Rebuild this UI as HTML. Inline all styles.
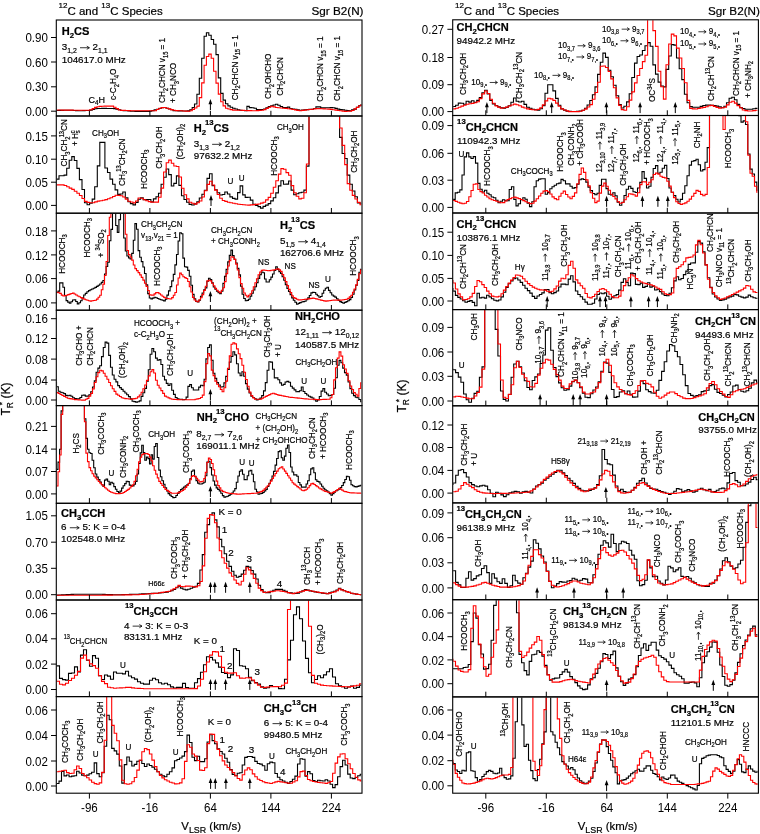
<!DOCTYPE html><html><head><meta charset="utf-8"><style>html,body{margin:0;padding:0;background:#fff;}svg{display:block;will-change:transform;}text{font-family:"Liberation Sans", sans-serif;stroke:#000;stroke-width:0.2px;}text.ns,g.nsg text{stroke:none;}</style></head><body>
<svg width="760" height="834" viewBox="0 0 760 834">
<rect width="760" height="834" fill="#fff"/>
<defs>
<clipPath id="c00"><rect x="56.8" y="20.5" width="304.7" height="95.0"/></clipPath>
<clipPath id="c01"><rect x="56.8" y="116.5" width="304.7" height="96.2"/></clipPath>
<clipPath id="c02"><rect x="56.8" y="213.7" width="304.7" height="96.0"/></clipPath>
<clipPath id="c03"><rect x="56.8" y="310.7" width="304.7" height="94.4"/></clipPath>
<clipPath id="c04"><rect x="56.8" y="406.1" width="304.7" height="96.7"/></clipPath>
<clipPath id="c05"><rect x="56.8" y="503.8" width="304.7" height="95.7"/></clipPath>
<clipPath id="c06"><rect x="56.8" y="600.5" width="304.7" height="95.6"/></clipPath>
<clipPath id="c07"><rect x="56.8" y="697.1" width="304.7" height="95.6"/></clipPath>
<clipPath id="c10"><rect x="453.2" y="20.3" width="304.7" height="94.7"/></clipPath>
<clipPath id="c11"><rect x="453.2" y="116.0" width="304.7" height="96.5"/></clipPath>
<clipPath id="c12"><rect x="453.2" y="213.5" width="304.7" height="95.6"/></clipPath>
<clipPath id="c13"><rect x="453.2" y="310.1" width="304.7" height="95.2"/></clipPath>
<clipPath id="c14"><rect x="453.2" y="406.3" width="304.7" height="96.1"/></clipPath>
<clipPath id="c15"><rect x="453.2" y="503.4" width="304.7" height="95.8"/></clipPath>
<clipPath id="c16"><rect x="453.2" y="600.2" width="304.7" height="96.2"/></clipPath>
<clipPath id="c17"><rect x="453.2" y="697.4" width="304.7" height="95.3"/></clipPath>
<marker id="ah" viewBox="0 0 6 8" refX="3" refY="1" markerWidth="6" markerHeight="8" orient="auto-start-reverse"><path d="M0,8 L3,0 L6,8 Z" fill="#000"/></marker>
</defs>
<g clip-path="url(#c00)" fill="none" stroke-linejoin="miter">
<path d="M56.5,110.5V110.5H58.9V110.4H61.3V110.4H63.6V110.3H66.0V110.3H68.4V110.2H70.8V110.3H73.2V110.5H75.5V110.6H77.9V110.7H80.3V110.7H82.7V110.6H85.1V110.5H87.4V110.5H89.8V110.1H92.2V109.5H94.6V108.8H97.0V108.5H99.3V108.5H101.7V108.4H104.1V108.4H106.5V108.5H108.9V108.5H111.2V108.5H113.6V108.6H116.0V109.2H118.4V109.8H120.8V110.5H123.1V110.7H125.5V110.8H127.9V111.0H130.3V111.2H132.7V111.3H135.0V111.4H137.4V111.4H139.8V111.4H142.2V111.4H144.6V111.4H146.9V111.4H149.3V111.3H151.7V110.6H154.1V109.9H156.5V109.2H158.8V108.5H161.2V107.8H163.6V107.5H166.0V108.3H168.4V109.0H170.7V109.8H173.1V110.6H175.5V110.8H177.9V110.9H180.3V110.9H182.6V111.0H185.0V111.0H187.4V110.9H189.8V109.8H192.2V107.5H194.5V104.0H196.9V94.2H199.3V78.2H201.7V58.3H204.1V36.3H206.4V32.8H208.8V35.3H211.2V39.5H213.6V44.2H216.0V54.6H218.3V77.9H220.7V93.4H223.1V100.1H225.5V103.7H227.9V105.9H230.2V107.2H232.6V108.3H235.0V109.0H237.4V109.7H239.8V110.2H242.1V110.5H244.5V110.8H246.9V106.4H249.3V107.6H251.7V107.7H254.0V108.2H256.4V109.5H258.8V109.5H261.2V109.5H263.6V109.0H265.9V107.8H268.3V106.6H270.7V105.8H273.1V105.0H275.5V104.3H277.8V105.3H280.2V106.5H282.6V107.5H285.0V107.5H287.4V107.1H289.7V108.5H292.1V109.0H294.5V109.4H296.9V109.9H299.3V110.3H301.6V110.0H304.0V109.8H306.4V109.6H308.8V109.4H311.2V109.2H313.5V108.5H315.9V106.9H318.3V106.9H320.7V107.9H323.1V107.9H325.4V107.8H327.8V107.7H330.2V107.6H332.6V107.7H335.0V108.4H337.3V109.1H339.7V109.6H342.1V109.9H344.5V110.2H346.9V110.5H349.2V110.7H351.6V109.9H354.0V109.1H356.4V107.3H358.8V105.6H361.1V104.6H361.5" stroke="#000" stroke-width="1.1"/>
<path d="M56.5,110.0V110.0H58.9V110.0H61.3V110.1H63.6V110.1H66.0V110.1H68.4V110.1H70.8V110.1H73.2V110.2H75.5V110.2H77.9V110.2H80.3V110.2H82.7V110.2H85.1V110.3H87.4V110.3H89.8V109.8H92.2V108.6H94.6V107.4H97.0V106.7H99.3V106.4H101.7V106.2H104.1V106.1H106.5V106.1H108.9V106.1H111.2V106.1H113.6V107.2H116.0V108.6H118.4V110.0H120.8V110.4H123.1V110.4H125.5V110.5H127.9V110.6H130.3V110.7H132.7V110.8H135.0V110.8H137.4V110.8H139.8V110.8H142.2V110.8H144.6V110.8H146.9V110.8H149.3V110.8H151.7V110.8H154.1V110.7H156.5V109.5H158.8V108.3H161.2V107.6H163.6V107.5H166.0V108.2H168.4V108.9H170.7V109.6H173.1V110.3H175.5V110.6H177.9V110.7H180.3V110.8H182.6V111.0H185.0V111.1H187.4V111.2H189.8V110.7H192.2V109.4H194.5V108.0H196.9V106.1H199.3V97.6H201.7V82.9H204.1V65.3H206.4V56.5H208.8V54.1H211.2V58.2H213.6V71.2H216.0V83.1H218.3V94.1H220.7V101.7H223.1V105.9H225.5V108.3H227.9V109.0H230.2V109.6H232.6V110.1H235.0V110.2H237.4V110.3H239.8V110.3H242.1V110.4H244.5V110.5H246.9V110.6H249.3V110.6H251.7V110.7H254.0V110.8H256.4V110.6H258.8V110.4H261.2V110.2H263.6V109.6H265.9V108.4H268.3V107.2H270.7V106.3H273.1V106.9H275.5V107.5H277.8V107.7H280.2V108.0H282.6V108.2H285.0V108.4H287.4V108.7H289.7V109.0H292.1V109.5H294.5V109.9H296.9V110.4H299.3V110.7H301.6V110.4H304.0V110.1H306.4V109.8H308.8V109.5H311.2V109.2H313.5V108.9H315.9V108.6H318.3V108.6H320.7V108.7H323.1V108.9H325.4V109.0H327.8V109.1H330.2V109.4H332.6V109.8H335.0V110.1H337.3V110.5H339.7V110.8H342.1V111.1H344.5V111.4H346.9V111.2H349.2V111.1H351.6V110.5H354.0V108.9H356.4V107.4H358.8V105.8H361.1V104.9H361.5" stroke="#f00" stroke-width="1.1"/>
</g>
<g clip-path="url(#c01)" fill="none" stroke-linejoin="miter">
<path d="M56.5,180.9V179.1H59.0V175.8H61.6V175.8H64.1V175.1H66.7V168.3H69.2V160.3H71.8V156.6H74.3V160.5H76.9V168.4H79.4V179.6H82.0V189.5H84.5V202.8H87.1V204.7H89.6V203.2H92.2V199.1H94.7V186.8H97.3V165.9H99.8V142.4H102.4V142.4H104.9V168.0H107.5V172.5H110.0V179.1H112.6V184.2H115.1V189.9H117.7V194.4H120.2V194.0H122.8V192.0H125.3V197.9H127.9V201.8H130.4V203.6H133.0V204.9H135.5V202.4H138.1V199.3H140.6V197.7H143.2V199.6H145.8V199.6H148.3V199.5H150.9V201.9H153.4V198.9H156.0V196.8H158.5V193.2H161.1V184.2H163.6V177.2H166.2V169.0H168.7V174.6H171.3V186.0H173.8V183.4H176.4V175.9H178.9V185.4H181.5V195.7H184.0V199.5H186.6V202.3H189.1V204.4H191.7V205.0H194.2V203.9H196.8V201.8H199.3V198.0H201.9V194.2H204.4V190.3H207.0V178.4H209.5V173.8H212.1V185.6H214.6V189.8H217.2V192.7H219.7V195.0H222.3V194.5H224.8V192.0H227.4V194.0H229.9V196.9H232.5V198.4H235.0V199.1H237.6V192.6H240.1V185.9H242.7V194.9H245.2V197.4H247.8V197.3H250.3V200.1H252.9V204.4H255.4V205.4H258.0V206.6H260.5V208.1H263.1V206.4H265.6V205.1H268.2V203.6H270.7V200.9H273.3V197.8H275.8V192.9H278.4V185.9H280.9V180.7H283.5V184.2H286.0V184.1H288.6V181.0H291.1V190.1H293.7V194.8H296.2V193.8H298.8V192.8H301.3V192.2H303.9V190.1H306.4V166.1H309.0V103.3H311.5V100.0H314.1V100.0H316.6V100.0H319.2V100.0H321.7V100.0H324.3V100.0H326.8V100.0H329.4V100.0H331.9V100.0H334.5V100.0H337.0V107.8H339.6V137.4H342.1V153.5H344.7V158.5H347.2V175.1H349.8V184.2H352.3V191.0H354.9V196.7H357.4V202.9H360.0V203.2H361.5" stroke="#000" stroke-width="1.1"/>
<path d="M56.5,184.9V184.9H59.0V184.9H61.6V184.9H64.1V185.5H66.7V186.8H69.2V188.1H71.8V189.4H74.3V191.2H76.9V193.3H79.4V195.5H82.0V198.5H84.5V201.4H87.1V202.4H89.6V202.8H92.2V202.8H94.7V201.9H97.3V201.1H99.8V200.7H102.4V200.3H104.9V199.6H107.5V198.7H110.0V197.8H112.6V196.5H115.1V195.2H117.7V195.4H120.2V195.8H122.8V197.0H125.3V199.1H127.9V201.2H130.4V202.0H133.0V202.9H135.5V201.0H138.1V198.0H140.6V198.2H143.2V199.7H145.8V200.7H148.3V201.6H150.9V202.1H153.4V202.1H156.0V202.1H158.5V197.2H161.1V188.1H163.6V172.0H166.2V162.8H168.7V160.1H171.3V163.2H173.8V166.0H176.4V166.5H178.9V177.0H181.5V188.2H184.0V194.7H186.6V198.9H189.1V202.3H191.7V203.2H194.2V204.1H196.8V202.7H199.3V201.0H201.9V197.0H204.4V190.7H207.0V184.4H209.5V181.3H212.1V185.0H214.6V190.1H217.2V194.5H219.7V198.3H222.3V200.5H224.8V201.4H227.4V202.2H229.9V202.7H232.5V203.2H235.0V203.8H237.6V204.2H240.1V204.5H242.7V204.7H245.2V205.0H247.8V205.1H250.3V204.9H252.9V204.6H255.4V204.4H258.0V204.0H260.5V203.1H263.1V202.2H265.6V199.9H268.2V197.4H270.7V193.2H273.3V187.2H275.8V180.7H278.4V174.1H280.9V168.6H283.5V169.2H286.0V172.6H288.6V175.3H291.1V185.6H293.7V192.7H296.2V196.3H298.8V198.9H301.3V198.3H303.9V192.7H306.4V164.0H309.0V102.6H311.5V100.0H314.1V100.0H316.6V100.0H319.2V100.0H321.7V100.0H324.3V100.0H326.8V100.0H329.4V100.0H331.9V100.0H334.5V100.0H337.0V100.0H339.6V128.0H342.1V145.4H344.7V164.6H347.2V183.6H349.8V190.3H352.3V195.4H354.9V199.0H357.4V202.4H360.0V204.7H361.5" stroke="#f00" stroke-width="1.1"/>
</g>
<g clip-path="url(#c02)" fill="none" stroke-linejoin="miter">
<path d="M56.5,293.0V292.4H58.1V291.1H59.7V282.9H61.3V282.9H62.9V287.2H64.5V295.5H66.1V300.6H67.7V302.1H69.3V303.1H70.9V301.7H72.5V300.0H74.1V299.8H75.7V301.5H77.3V303.9H78.9V302.8H80.5V300.7H82.1V298.0H83.7V295.0H85.3V293.4H86.9V291.7H88.5V290.6H90.1V289.8H91.7V289.0H93.3V288.2H94.9V287.4H96.5V286.4H98.1V285.2H99.7V284.0H101.3V282.4H102.9V280.5H104.5V274.0H106.1V266.5H107.7V262.2H109.3V240.7H110.9V229.4H112.5V200.0H114.1V200.0H115.7V225.5H117.3V232.4H118.9V219.6H120.5V200.0H122.1V200.0H123.7V238.0H125.3V251.0H126.9V256.0H128.5V257.9H130.1V259.0H131.7V253.4H133.3V240.3H134.9V223.6H136.5V229.2H138.1V250.6H139.7V257.2H141.3V261.6H142.9V267.0H144.5V273.5H146.1V284.9H147.7V293.6H149.3V298.0H150.9V298.9H152.5V298.1H154.1V297.3H155.7V297.7H157.3V298.5H158.9V299.2H160.5V299.8H162.1V300.3H163.7V300.9H165.3V299.3H166.9V295.1H168.5V290.9H170.1V286.6H171.7V280.9H173.3V274.4H174.9V264.9H176.5V254.5H178.1V241.0H179.7V232.7H181.3V233.8H182.9V258.1H184.5V266.7H186.1V267.1H187.7V270.4H189.3V276.2H190.9V285.2H192.5V294.4H194.1V298.7H195.7V301.4H197.3V301.9H198.9V300.2H200.5V296.3H202.1V293.0H203.7V289.8H205.3V287.9H206.9V281.3H208.5V278.3H210.1V279.6H211.7V282.9H213.3V287.0H214.9V289.1H216.5V291.2H218.1V292.8H219.7V293.6H221.3V291.2H222.9V283.4H224.5V276.4H226.1V269.4H227.7V261.9H229.3V255.4H230.9V250.1H232.5V255.6H234.1V259.3H235.7V263.0H237.3V268.4H238.9V274.9H240.5V286.3H242.1V294.2H243.7V298.5H245.3V300.7H246.9V300.4H248.5V299.2H250.1V296.3H251.7V293.2H253.3V290.0H254.9V286.7H256.5V282.6H258.1V278.4H259.7V274.6H261.3V272.0H262.9V272.8H264.5V279.0H266.1V282.0H267.7V282.0H269.3V279.8H270.9V277.1H272.5V274.0H274.1V270.5H275.7V266.7H277.3V269.4H278.9V271.6H280.5V273.4H282.1V276.7H283.7V280.2H285.3V284.6H286.9V288.4H288.5V291.5H290.1V294.6H291.7V297.9H293.3V300.3H294.9V302.3H296.5V304.2H298.1V303.4H299.7V302.6H301.3V302.0H302.9V301.6H304.5V301.2H306.1V299.6H307.7V297.9H309.3V295.5H310.9V292.9H312.5V292.4H314.1V292.5H315.7V294.2H317.3V295.8H318.9V297.3H320.5V296.5H322.1V293.3H323.7V290.2H325.3V288.2H326.9V287.2H328.5V290.4H330.1V292.8H331.7V295.0H333.3V296.1H334.9V297.1H336.5V298.7H338.1V300.4H339.7V301.6H341.3V302.4H342.9V303.2H344.5V302.4H346.1V301.6H347.7V300.7H349.3V299.6H350.9V297.5H352.5V294.2H354.1V290.0H355.7V285.3H357.3V280.4H358.9V272.3H360.5V269.4H361.5" stroke="#000" stroke-width="1.1"/>
<path d="M56.5,292.0V292.2H58.1V292.7H59.7V293.4H61.3V295.1H62.9V296.0H64.5V295.6H66.1V295.2H67.7V294.6H69.3V294.1H70.9V293.5H72.5V293.1H74.1V294.0H75.7V295.0H77.3V296.0H78.9V296.8H80.5V297.6H82.1V298.4H83.7V299.1H85.3V299.7H86.9V300.3H88.5V300.8H90.1V301.1H91.7V300.8H93.3V300.5H94.9V300.2H96.5V299.1H98.1V297.2H99.7V295.2H101.3V289.8H102.9V284.1H104.5V275.5H106.1V261.5H107.7V235.5H109.3V217.2H110.9V200.0H112.5V200.0H114.1V200.0H115.7V200.0H117.3V200.0H118.9V200.0H120.5V200.0H122.1V200.0H123.7V200.0H125.3V234.3H126.9V250.5H128.5V254.6H130.1V257.0H131.7V260.1H133.3V265.0H134.9V268.6H136.5V270.6H138.1V272.6H139.7V274.9H141.3V277.4H142.9V280.1H144.5V283.2H146.1V286.4H147.7V290.5H149.3V294.8H150.9V295.1H152.5V295.1H154.1V293.9H155.7V292.6H157.3V292.6H158.9V293.8H160.5V295.0H162.1V296.2H163.7V297.4H165.3V298.2H166.9V298.5H168.5V298.7H170.1V299.0H171.7V297.6H173.3V295.2H174.9V292.5H176.5V285.0H178.1V278.0H179.7V273.1H181.3V274.7H182.9V276.8H184.5V277.6H186.1V278.5H187.7V281.5H189.3V286.7H190.9V292.0H192.5V297.4H194.1V300.0H195.7V301.2H197.3V301.8H198.9V299.8H200.5V297.8H202.1V294.6H203.7V290.5H205.3V286.3H206.9V280.9H208.5V280.3H210.1V280.9H211.7V283.3H213.3V285.8H214.9V288.4H216.5V290.2H218.1V291.7H219.7V292.6H221.3V290.2H222.9V287.8H224.5V281.6H226.1V273.6H227.7V266.0H229.3V260.6H230.9V256.7H232.5V257.3H234.1V259.4H235.7V264.1H237.3V270.0H238.9V277.6H240.5V283.6H242.1V288.3H243.7V293.0H245.3V295.2H246.9V296.9H248.5V295.3H250.1V293.7H251.7V290.7H253.3V286.7H254.9V282.7H256.5V278.7H258.1V274.8H259.7V272.0H261.3V270.4H262.9V270.0H264.5V270.2H266.1V270.5H267.7V270.8H269.3V270.6H270.9V270.3H272.5V270.1H274.1V269.8H275.7V269.2H277.3V268.8H278.9V269.9H280.5V271.4H282.1V274.6H283.7V277.9H285.3V281.6H286.9V285.6H288.5V289.4H290.1V292.6H291.7V295.9H293.3V297.6H294.9V298.4H296.5V299.2H298.1V300.0H299.7V299.9H301.3V299.7H302.9V299.5H304.5V299.3H306.1V299.1H307.7V298.9H309.3V298.6H310.9V298.4H312.5V298.1H314.1V298.5H315.7V298.9H317.3V299.3H318.9V299.7H320.5V300.1H322.1V300.5H323.7V300.9H325.3V301.1H326.9V300.9H328.5V300.7H330.1V300.5H331.7V300.2H333.3V300.1H334.9V300.1H336.5V300.1H338.1V300.1H339.7V300.1H341.3V300.0H342.9V299.8H344.5V299.5H346.1V299.2H347.7V298.4H349.3V296.9H350.9V295.3H352.5V292.3H354.1V289.0H355.7V284.9H357.3V279.4H358.9V273.8H360.5V270.1H361.5" stroke="#f00" stroke-width="1.1"/>
</g>
<g clip-path="url(#c03)" fill="none" stroke-linejoin="miter">
<path d="M56.5,382.0V386.8H58.3V391.2H60.1V392.3H61.9V392.8H63.7V393.6H65.5V395.4H67.3V395.7H69.1V395.2H70.9V396.3H72.7V397.7H74.5V398.5H76.3V398.9H78.1V398.7H79.9V397.5H81.7V395.2H83.5V395.1H85.3V396.1H87.1V396.1H88.9V394.7H90.7V391.8H92.5V387.0H94.3V380.9H96.1V372.3H97.9V368.1H99.7V365.7H101.5V356.6H103.3V347.5H105.1V342.1H106.9V343.1H108.7V355.4H110.5V367.2H112.3V375.0H114.1V379.2H115.9V381.9H117.7V385.6H119.5V387.6H121.3V389.4H123.1V391.2H124.9V393.0H126.7V394.7H128.5V396.6H130.3V398.9H132.1V401.2H133.9V401.6H135.7V402.1H137.5V401.8H139.3V400.9H141.1V396.4H142.9V392.8H144.7V388.4H146.5V381.1H148.3V369.8H150.1V354.2H151.9V348.5H153.7V351.8H155.5V358.1H157.3V360.3H159.1V359.6H160.9V364.5H162.7V376.3H164.5V379.9H166.3V383.4H168.1V385.5H169.9V383.7H171.7V390.2H173.5V394.4H175.3V397.5H177.1V398.8H178.9V399.2H180.7V399.2H182.5V399.8H184.3V399.5H186.1V397.1H187.9V386.4H189.7V384.6H191.5V387.7H193.3V390.0H195.1V390.0H196.9V390.0H198.7V387.1H200.5V385.2H202.3V385.8H204.1V379.3H205.9V358.9H207.7V347.5H209.5V344.9H211.3V360.3H213.1V373.3H214.9V378.4H216.7V382.6H218.5V385.0H220.3V387.0H222.1V386.8H223.9V382.9H225.7V376.4H227.5V369.4H229.3V362.1H231.1V356.5H232.9V351.8H234.7V354.9H236.5V363.7H238.3V373.0H240.1V375.8H241.9V371.8H243.7V376.3H245.5V383.6H247.3V389.1H249.1V393.0H250.9V396.2H252.7V397.5H254.5V398.7H256.3V399.9H258.1V399.3H259.9V398.1H261.7V395.6H263.5V390.9H265.3V382.6H267.1V370.2H268.9V361.7H270.7V362.1H272.5V369.2H274.3V377.9H276.1V377.9H277.9V379.7H279.7V382.9H281.5V385.2H283.3V384.4H285.1V382.0H286.9V381.4H288.7V382.2H290.5V386.3H292.3V388.1H294.1V389.9H295.9V391.7H297.7V391.6H299.5V390.7H301.3V387.0H303.1V391.5H304.9V393.5H306.7V395.0H308.5V396.2H310.3V397.1H312.1V398.0H313.9V399.6H315.7V401.1H317.5V399.9H319.3V396.5H321.1V391.1H322.9V388.6H324.7V392.2H326.5V394.0H328.3V395.7H330.1V395.4H331.9V394.5H333.7V388.2H335.5V377.7H337.3V365.2H339.1V360.4H340.9V362.8H342.7V368.1H344.5V372.6H346.3V375.1H348.1V382.0H349.9V388.6H351.7V393.3H353.5V395.6H355.3V397.2H357.1V397.8H358.9V399.5H360.7V401.6H361.5" stroke="#000" stroke-width="1.1"/>
<path d="M56.5,392.1V392.6H58.3V393.5H60.1V394.5H61.9V395.5H63.7V396.4H65.5V397.3H67.3V398.2H69.1V398.6H70.9V398.9H72.7V399.3H74.5V399.6H76.3V399.8H78.1V399.9H79.9V400.0H81.7V400.1H83.5V400.2H85.3V399.3H87.1V398.4H88.9V396.1H90.7V393.4H92.5V388.9H94.3V382.5H96.1V376.8H97.9V372.6H99.7V370.3H101.5V370.9H103.3V373.3H105.1V376.2H106.9V379.3H108.7V382.5H110.5V385.7H112.3V388.7H114.1V391.4H115.9V394.1H117.7V395.3H119.5V396.5H121.3V397.7H123.1V398.3H124.9V398.6H126.7V398.8H128.5V399.0H130.3V399.2H132.1V398.9H133.9V398.6H135.7V398.3H137.5V396.9H139.3V395.0H141.1V392.3H142.9V388.8H144.7V385.0H146.5V380.4H148.3V375.9H150.1V371.8H151.9V369.6H153.7V373.0H155.5V380.3H157.3V385.3H159.1V388.0H160.9V390.6H162.7V393.4H164.5V396.1H166.3V397.0H168.1V397.9H169.9V398.8H171.7V399.3H173.5V399.4H175.3V399.5H177.1V399.6H178.9V399.7H180.7V399.8H182.5V399.8H184.3V399.8H186.1V399.8H187.9V399.8H189.7V399.8H191.5V399.8H193.3V399.7H195.1V399.3H196.9V398.9H198.7V398.5H200.5V397.5H202.3V395.1H204.1V381.6H205.9V363.6H207.7V353.6H209.5V355.9H211.3V370.1H213.1V375.6H214.9V381.1H216.7V384.2H218.5V386.8H220.3V389.4H222.1V391.8H223.9V387.8H225.7V381.1H227.5V368.2H229.3V355.9H231.1V344.3H232.9V342.9H234.7V343.9H236.5V348.9H238.3V353.8H240.1V358.6H241.9V365.2H243.7V372.2H245.5V379.5H247.3V386.3H249.1V392.1H250.9V395.6H252.7V397.9H254.5V399.2H256.3V399.2H258.1V399.2H259.9V399.1H261.7V398.2H263.5V397.3H265.3V396.4H267.1V395.5H268.9V394.6H270.7V393.7H272.5V393.3H274.3V393.9H276.1V394.5H277.9V395.1H279.7V395.4H281.5V395.8H283.3V396.1H285.1V396.5H286.9V396.8H288.7V397.2H290.5V397.4H292.3V397.5H294.1V397.7H295.9V397.9H297.7V398.1H299.5V398.3H301.3V398.5H303.1V398.7H304.9V398.9H306.7V399.0H308.5V399.2H310.3V399.3H312.1V399.3H313.9V399.4H315.7V399.5H317.5V399.6H319.3V399.6H321.1V399.5H322.9V399.4H324.7V399.4H326.5V399.3H328.3V399.2H330.1V397.8H331.9V394.5H333.7V379.9H335.5V367.7H337.3V358.1H339.1V351.9H340.9V356.1H342.7V364.7H344.5V369.0H346.3V373.4H348.1V380.7H349.9V386.0H351.7V389.5H353.5V392.6H355.3V394.3H357.1V396.1H358.9V388.5H360.7V382.7H361.5" stroke="#f00" stroke-width="1.1"/>
</g>
<g clip-path="url(#c04)" fill="none" stroke-linejoin="miter">
<path d="M56.5,470.0V469.4H58.0V462.1H59.6V449.2H61.1V410.9H62.7V395.0H64.2V395.0H65.8V395.0H67.3V395.0H68.9V395.0H70.4V395.0H72.0V395.0H73.5V395.0H75.1V395.0H76.6V395.0H78.2V395.0H79.7V395.0H81.3V395.0H82.8V395.0H84.4V418.7H85.9V438.4H87.5V449.2H89.0V452.8H90.6V453.5H92.1V460.2H93.7V467.7H95.2V474.0H96.8V477.1H98.3V479.6H99.9V482.1H101.4V484.8H103.0V486.4H104.5V480.1H106.1V479.0H107.6V481.2H109.2V484.7H110.7V482.3H112.3V483.3H113.8V486.6H115.4V489.2H116.9V491.5H118.5V492.7H120.0V491.1H121.6V488.1H123.1V485.7H124.7V483.6H126.2V481.3H127.8V481.6H129.3V485.1H130.9V485.7H132.4V485.9H134.0V484.3H135.5V481.4H137.1V474.0H138.6V463.5H140.2V452.9H141.7V445.2H143.3V452.6H144.8V460.3H146.4V457.1H148.0V458.6H149.5V463.9H151.1V454.7H152.6V459.1H154.2V446.5H155.7V443.5H157.3V457.5H158.8V470.1H160.4V476.7H161.9V480.7H163.5V484.3H165.0V487.8H166.6V490.9H168.1V493.6H169.7V495.1H171.2V496.5H172.8V497.6H174.3V497.5H175.9V495.5H177.4V493.5H179.0V491.5H180.5V489.5H182.1V488.2H183.6V487.1H185.2V485.9H186.7V484.7H188.3V483.5H189.8V478.8H191.4V471.3H192.9V470.0H194.5V476.4H196.0V480.6H197.6V483.1H199.1V484.0H200.7V484.0H202.2V483.3H203.8V482.2H205.3V475.8H206.9V462.0H208.4V461.2H210.0V467.6H211.5V475.0H213.1V481.0H214.6V485.1H216.2V487.9H217.7V489.4H219.3V490.9H220.8V493.2H222.4V495.6H223.9V497.1H225.5V496.7H227.0V496.3H228.6V495.4H230.1V494.3H231.7V493.0H233.2V491.0H234.8V488.6H236.3V482.3H237.9V476.0H239.4V471.3H241.0V469.7H242.5V474.2H244.1V479.6H245.6V479.8H247.2V475.7H248.7V471.0H250.3V470.2H251.8V474.3H253.4V481.7H254.9V489.2H256.5V491.8H258.0V494.2H259.6V493.8H261.1V493.4H262.7V492.5H264.2V490.9H265.8V489.4H267.3V486.5H268.9V483.4H270.4V480.0H272.0V476.0H273.5V471.4H275.1V465.1H276.6V458.5H278.2V451.6H279.7V450.8H281.3V457.8H282.8V460.3H284.4V456.1H285.9V448.2H287.5V445.0H289.0V452.5H290.6V467.0H292.1V472.0H293.7V474.9H295.2V474.9H296.8V476.2H298.3V482.5H299.9V484.9H301.4V487.1H303.0V487.1H304.5V487.1H306.1V484.0H307.6V480.7H309.2V474.7H310.7V468.9H312.3V467.7H313.8V472.7H315.4V479.7H316.9V481.4H318.5V481.9H320.0V484.0H321.6V486.2H323.1V488.3H324.7V489.7H326.2V490.7H327.8V492.0H329.3V493.6H330.9V495.2H332.4V493.6H334.0V492.1H335.5V490.8H337.1V490.0H338.6V489.3H340.2V487.5H341.7V485.5H343.3V482.6H344.8V479.5H346.4V476.3H347.9V476.7H349.5V480.2H351.0V484.7H352.6V485.8H354.1V486.6H355.7V486.9H357.2V486.4H358.8V485.9H360.3V485.3H361.5" stroke="#000" stroke-width="1.1"/>
<path d="M56.5,487.0V486.0H58.0V471.7H59.6V455.0H61.1V414.4H62.7V395.0H64.2V395.0H65.8V395.0H67.3V395.0H68.9V395.0H70.4V395.0H72.0V395.0H73.5V395.0H75.1V395.0H76.6V395.0H78.2V395.0H79.7V395.0H81.3V395.0H82.8V395.8H84.4V421.7H85.9V453.1H87.5V461.6H89.0V467.6H90.6V470.7H92.1V473.8H93.7V476.1H95.2V477.9H96.8V479.8H98.3V481.5H99.9V483.1H101.4V484.7H103.0V486.3H104.5V487.7H106.1V489.0H107.6V490.2H109.2V491.5H110.7V492.3H112.3V492.8H113.8V493.2H115.4V493.6H116.9V493.7H118.5V493.6H120.0V493.4H121.6V493.3H123.1V492.5H124.7V491.5H126.2V490.4H127.8V489.4H129.3V488.0H130.9V486.4H132.4V484.8H134.0V481.2H135.5V475.7H137.1V469.2H138.6V461.9H140.2V457.2H141.7V454.6H143.3V453.6H144.8V453.6H146.4V453.6H148.0V454.5H149.5V457.1H151.1V460.7H152.6V465.8H154.2V470.3H155.7V474.1H157.3V477.9H158.8V481.4H160.4V483.4H161.9V485.5H163.5V487.5H165.0V489.4H166.6V490.4H168.1V491.4H169.7V492.5H171.2V493.2H172.8V493.2H174.3V493.2H175.9V493.2H177.4V492.9H179.0V492.1H180.5V491.3H182.1V490.5H183.6V489.3H185.2V487.4H186.7V485.5H188.3V483.3H189.8V479.8H191.4V476.4H192.9V475.5H194.5V476.6H196.0V478.2H197.6V480.1H199.1V482.0H200.7V481.6H202.2V481.2H203.8V478.5H205.3V472.4H206.9V462.5H208.4V458.1H210.0V459.5H211.5V463.5H213.1V469.8H214.6V475.8H216.2V481.1H217.7V485.6H219.3V487.9H220.8V490.2H222.4V491.4H223.9V492.0H225.5V492.5H227.0V493.0H228.6V493.3H230.1V493.5H231.7V493.6H233.2V493.8H234.8V493.9H236.3V494.1H237.9V494.2H239.4V494.1H241.0V494.0H242.5V493.9H244.1V493.8H245.6V493.7H247.2V493.6H248.7V493.6H250.3V493.5H251.8V493.4H253.4V493.3H254.9V493.2H256.5V493.0H258.0V492.5H259.6V491.9H261.1V491.4H262.7V490.4H264.2V488.9H265.8V487.3H267.3V485.8H268.9V483.7H270.4V481.1H272.0V478.5H273.5V475.9H275.1V473.5H276.6V471.1H278.2V468.8H279.7V467.8H281.3V466.8H282.8V469.0H284.4V471.1H285.9V473.4H287.5V475.7H289.0V478.0H290.6V480.3H292.1V482.7H293.7V484.1H295.2V485.3H296.8V486.6H298.3V487.8H299.9V489.0H301.4V490.3H303.0V490.8H304.5V490.1H306.1V489.3H307.6V487.7H309.2V485.6H310.7V483.9H312.3V483.4H313.8V484.5H315.4V485.6H316.9V486.8H318.5V488.0H320.0V488.9H321.6V489.8H323.1V490.7H324.7V491.4H326.2V491.8H327.8V492.3H329.3V492.7H330.9V493.2H332.4V492.4H334.0V491.6H335.5V490.7H337.1V489.5H338.6V488.3H340.2V489.0H341.7V490.1H343.3V491.2H344.8V491.6H346.4V492.0H347.9V492.5H349.5V492.8H351.0V492.9H352.6V492.9H354.1V493.0H355.7V493.0H357.2V493.1H358.8V493.1H360.3V493.2H361.5" stroke="#f00" stroke-width="1.1"/>
</g>
<g clip-path="url(#c05)" fill="none" stroke-linejoin="miter">
<path d="M56.5,595.2V595.1H58.9V595.0H61.4V594.9H63.8V594.8H66.2V594.6H68.7V594.5H71.1V594.4H73.5V594.3H75.9V594.2H78.4V594.2H80.8V594.2H83.2V594.2H85.7V594.2H88.1V594.2H90.5V594.2H93.0V594.2H95.4V594.2H97.8V594.3H100.2V594.3H102.7V594.4H105.1V594.5H107.5V594.6H110.0V594.6H112.4V594.7H114.8V594.8H117.3V594.8H119.7V594.7H122.1V594.6H124.5V594.5H127.0V594.5H129.4V594.4H131.8V594.3H134.3V594.2H136.7V594.2H139.1V594.0H141.6V593.9H144.0V593.8H146.4V593.7H148.8V593.6H151.3V593.4H153.7V593.3H156.1V593.2H158.6V593.0H161.0V592.7H163.4V592.5H165.9V592.2H168.3V591.5H170.7V590.7H173.1V589.5H175.6V587.7H178.0V586.3H180.4V588.1H182.9V589.3H185.3V589.9H187.7V589.3H190.2V588.3H192.6V587.1H195.0V586.3H197.4V583.4H199.9V570.0H202.3V554.6H204.7V532.3H207.2V524.6H209.6V514.8H212.0V512.9H214.5V519.9H216.9V526.9H219.3V539.4H221.7V546.7H224.2V553.8H226.6V561.2H229.0V566.4H231.5V571.3H233.9V575.2H236.3V577.3H238.8V576.4H241.2V574.1H243.6V570.2H246.0V566.4H248.5V567.1H250.9V570.5H253.3V574.1H255.8V579.0H258.2V585.2H260.6V589.5H263.1V592.0H265.5V592.6H267.9V592.6H270.3V591.4H272.8V590.2H275.2V589.4H277.6V589.4H280.1V589.4H282.5V590.2H284.9V591.4H287.4V592.6H289.8V592.9H292.2V593.2H294.6V593.5H297.1V593.2H299.5V592.0H301.9V590.8H304.4V589.6H306.8V590.1H309.2V590.9H311.7V591.4H314.1V591.9H316.5V592.4H318.9V592.8H321.4V593.1H323.8V593.4H326.2V593.7H328.7V592.9H331.1V592.1H333.5V591.3H336.0V590.0H338.4V588.4H340.8V589.6H343.2V590.8H345.7V591.6H348.1V592.4H350.5V593.2H353.0V593.8H355.4V594.1H357.8V594.5H360.3V594.7H361.5" stroke="#000" stroke-width="1.1"/>
<path d="M56.5,595.2V595.2H58.9V595.2H61.4V595.2H63.8V595.2H66.2V595.2H68.7V595.2H71.1V595.2H73.5V595.2H75.9V595.2H78.4V595.2H80.8V595.2H83.2V595.2H85.7V595.2H88.1V595.2H90.5V595.2H93.0V595.2H95.4V595.2H97.8V595.2H100.2V595.2H102.7V595.1H105.1V595.1H107.5V595.1H110.0V595.1H112.4V595.0H114.8V595.0H117.3V595.0H119.7V595.0H122.1V594.9H124.5V594.9H127.0V594.9H129.4V594.9H131.8V594.8H134.3V594.8H136.7V594.7H139.1V594.5H141.6V594.4H144.0V594.2H146.4V594.0H148.8V593.8H151.3V593.6H153.7V593.4H156.1V593.2H158.6V592.8H161.0V592.4H163.4V592.0H165.9V591.6H168.3V591.2H170.7V590.0H173.1V588.7H175.6V587.2H178.0V585.4H180.4V586.5H182.9V586.7H185.3V586.1H187.7V586.1H190.2V586.2H192.6V586.7H195.0V586.9H197.4V585.7H199.9V581.5H202.3V565.9H204.7V538.3H207.2V518.4H209.6V514.5H212.0V515.1H214.5V522.8H216.9V538.0H219.3V550.7H221.7V557.7H224.2V563.3H226.6V568.1H229.0V572.9H231.5V576.3H233.9V580.0H236.3V583.4H238.8V585.0H241.2V581.2H243.6V574.2H246.0V567.8H248.5V569.9H250.9V573.9H253.3V578.4H255.8V583.2H258.2V588.1H260.6V590.6H263.1V592.5H265.5V592.2H267.9V591.9H270.3V591.6H272.8V591.2H275.2V590.7H277.6V590.7H280.1V591.1H282.5V591.5H284.9V592.0H287.4V592.6H289.8V593.2H292.2V593.6H294.6V593.0H297.1V592.4H299.5V591.8H301.9V591.1H304.4V590.4H306.8V590.2H309.2V590.7H311.7V591.3H314.1V591.7H316.5V592.1H318.9V592.5H321.4V592.9H323.8V593.3H326.2V593.7H328.7V593.1H331.1V592.5H333.5V591.9H336.0V590.7H338.4V588.9H340.8V589.9H343.2V590.8H345.7V591.6H348.1V592.4H350.5V593.2H353.0V593.8H355.4V594.1H357.8V594.5H360.3V594.7H361.5" stroke="#f00" stroke-width="1.1"/>
</g>
<g clip-path="url(#c06)" fill="none" stroke-linejoin="miter">
<path d="M56.5,665.9V665.9H59.5V678.4H62.5V679.6H65.5V680.1H68.5V673.4H71.5V673.0H74.5V666.9H77.5V671.9H80.5V655.1H83.5V649.7H86.5V660.3H89.5V666.2H92.5V655.6H95.5V658.2H98.5V675.7H101.5V679.5H104.5V675.0H107.5V676.1H110.5V679.3H113.5V672.0H116.5V673.2H119.5V673.2H122.5V673.9H125.5V671.2H128.5V676.0H131.5V677.7H134.5V679.1H137.5V681.7H140.5V683.3H143.5V684.1H146.5V684.1H149.5V680.3H152.5V678.3H155.5V679.8H158.5V682.7H161.5V684.0H164.5V683.2H167.5V684.8H170.5V686.9H173.5V688.0H176.5V687.4H179.5V687.4H182.5V683.4H185.5V687.5H188.5V688.2H191.5V688.2H194.5V682.7H197.5V678.6H200.5V672.2H203.5V664.8H206.5V656.7H209.5V657.4H212.5V660.0H215.5V662.9H218.5V667.1H221.5V672.5H224.5V673.5H227.5V677.6H230.5V674.9H233.5V648.7H236.5V650.5H239.5V665.8H242.5V666.2H245.5V668.7H248.5V677.4H251.5V680.7H254.5V682.6H257.5V684.1H260.5V686.9H263.5V688.1H266.5V687.7H269.5V685.6H272.5V686.5H275.5V686.5H278.5V688.6H281.5V688.7H284.5V679.3H287.5V659.9H290.5V640.2H293.5V614.7H296.5V606.9H299.5V618.7H302.5V641.0H305.5V658.4H308.5V672.8H311.5V682.7H314.5V679.5H317.5V675.8H320.5V677.7H323.5V674.9H326.5V671.7H329.5V668.7H332.5V677.0H335.5V683.7H338.5V685.8H341.5V686.7H344.5V688.2H347.5V687.0H350.5V686.0H353.5V688.2H356.5V687.4H359.5V685.1H361.5" stroke="#000" stroke-width="1.1"/>
<path d="M56.5,679.1V681.2H59.5V684.3H62.5V684.9H65.5V683.2H68.5V680.5H71.5V678.2H74.5V675.3H77.5V671.4H80.5V658.1H83.5V655.1H86.5V660.0H89.5V663.9H92.5V665.6H95.5V668.2H98.5V675.8H101.5V681.4H104.5V683.6H107.5V687.2H110.5V687.7H113.5V688.2H116.5V688.0H119.5V687.9H122.5V687.7H125.5V687.4H128.5V687.4H131.5V687.9H134.5V688.2H137.5V688.4H140.5V688.5H143.5V688.7H146.5V688.8H149.5V688.8H152.5V688.8H155.5V688.8H158.5V688.8H161.5V688.8H164.5V688.8H167.5V688.8H170.5V688.8H173.5V688.8H176.5V688.7H179.5V688.7H182.5V688.7H185.5V688.7H188.5V688.7H191.5V688.6H194.5V688.6H197.5V686.0H200.5V679.3H203.5V671.8H206.5V662.0H209.5V655.1H212.5V651.6H215.5V651.9H218.5V656.3H221.5V667.4H224.5V672.2H227.5V673.1H230.5V673.1H233.5V672.7H236.5V675.8H239.5V678.1H242.5V678.3H245.5V677.8H248.5V677.9H251.5V680.0H254.5V683.0H257.5V685.3H260.5V687.2H263.5V687.4H266.5V687.0H269.5V686.8H272.5V686.6H275.5V686.6H278.5V686.8H281.5V685.3H284.5V683.1H287.5V609.5H290.5V590.0H293.5V590.0H296.5V590.0H299.5V590.0H302.5V590.0H305.5V590.0H308.5V626.3H311.5V675.4H314.5V683.3H317.5V684.2H320.5V685.1H323.5V685.5H326.5V685.7H329.5V685.9H332.5V686.1H335.5V686.3H338.5V686.5H341.5V686.6H344.5V686.8H347.5V686.9H350.5V686.4H353.5V685.9H356.5V685.2H359.5V683.8H361.5" stroke="#f00" stroke-width="1.1"/>
</g>
<g clip-path="url(#c07)" fill="none" stroke-linejoin="miter">
<path d="M56.5,784.2V783.5H59.0V781.1H61.5V771.5H64.0V775.9H66.5V775.0H69.1V776.7H71.6V776.1H74.1V775.8H76.6V771.3H79.1V773.0H81.6V775.1H84.1V775.8H86.6V775.1H89.1V773.7H91.6V772.3H94.2V762.9H96.7V773.6H99.2V776.7H101.7V772.7H104.2V746.2H106.7V715.2H109.2V719.7H111.7V748.4H114.2V750.9H116.7V754.1H119.3V766.0H121.8V783.1H124.3V764.6H126.8V757.0H129.3V761.2H131.8V766.0H134.3V764.4H136.8V761.2H139.3V760.3H141.8V763.5H144.4V766.5H146.9V764.0H149.4V765.5H151.9V767.1H154.4V769.3H156.9V771.8H159.4V774.3H161.9V775.9H164.4V776.8H166.9V774.3H169.4V771.8H172.0V767.9H174.5V760.8H177.0V759.5H179.5V758.0H182.0V756.1H184.5V751.6H187.0V735.1H189.5V742.5H192.0V757.3H194.5V760.6H197.1V756.2H199.6V761.6H202.1V761.6H204.6V758.8H207.1V742.0H209.6V734.7H212.1V740.6H214.6V743.7H217.1V748.7H219.6V751.5H222.2V754.0H224.7V758.2H227.2V762.2H229.7V769.6H232.2V774.4H234.7V775.7H237.2V773.2H239.7V772.7H242.2V765.0H244.7V757.4H247.3V756.5H249.8V756.5H252.3V757.4H254.8V761.4H257.3V763.5H259.8V764.1H262.3V765.8H264.8V770.2H267.3V763.8H269.8V762.1H272.4V762.8H274.9V773.5H277.4V777.3H279.9V779.8H282.4V781.0H284.9V782.3H287.4V783.4H289.9V781.5H292.4V779.2H294.9V776.1H297.5V764.0H300.0V758.7H302.5V759.2H305.0V776.2H307.5V771.6H310.0V773.7H312.5V780.5H315.0V781.5H317.5V780.2H320.0V780.8H322.6V781.0H325.1V779.8H327.6V781.0H330.1V784.3H332.6V787.6H335.1V784.6H337.6V776.7H340.1V766.6H342.6V760.2H345.1V765.0H347.7V774.1H350.2V778.0H352.7V778.6H355.2V777.5H357.7V775.8H360.2V774.3H361.5" stroke="#000" stroke-width="1.1"/>
<path d="M56.5,772.0V771.8H59.0V771.3H61.5V770.8H64.0V770.2H66.5V772.6H69.1V773.5H71.6V773.2H74.1V769.8H76.6V766.0H79.1V768.5H81.6V773.5H84.1V775.7H86.6V777.7H89.1V780.0H91.6V782.3H94.2V783.6H96.7V784.2H99.2V782.9H101.7V772.4H104.2V740.2H106.7V690.0H109.2V690.0H111.7V725.4H114.2V733.2H116.7V740.8H119.3V759.9H121.8V780.3H124.3V783.7H126.8V784.2H129.3V783.8H131.8V781.8H134.3V777.5H136.8V770.1H139.3V760.3H141.8V751.7H144.4V748.5H146.9V749.6H149.4V754.0H151.9V760.1H154.4V766.6H156.9V771.7H159.4V775.4H161.9V777.9H164.4V779.7H166.9V781.0H169.4V782.2H172.0V783.0H174.5V783.9H177.0V783.8H179.5V782.9H182.0V778.8H184.5V761.4H187.0V744.8H189.5V747.3H192.0V754.0H194.5V756.1H197.1V760.5H199.6V770.1H202.1V770.5H204.6V767.7H207.1V743.6H209.6V734.0H212.1V734.4H214.6V741.7H217.1V749.4H219.6V755.8H222.2V760.9H224.7V765.0H227.2V767.5H229.7V770.0H232.2V772.6H234.7V775.7H237.2V778.5H239.7V780.1H242.2V774.8H244.7V770.0H247.3V767.9H249.8V769.7H252.3V773.9H254.8V776.8H257.3V779.3H259.8V780.5H262.3V781.7H264.8V782.6H267.3V783.0H269.8V783.5H272.4V782.7H274.9V781.9H277.4V781.4H279.9V781.9H282.4V782.3H284.9V782.7H287.4V783.1H289.9V783.3H292.4V782.0H294.9V780.8H297.5V776.9H300.0V771.6H302.5V771.1H305.0V775.5H307.5V779.5H310.0V780.7H312.5V781.5H315.0V782.0H317.5V782.4H320.0V782.7H322.6V783.0H325.1V783.4H327.6V782.8H330.1V781.5H332.6V773.3H335.1V763.1H337.6V756.9H340.1V754.0H342.6V753.7H345.1V758.7H347.7V763.8H350.2V768.8H352.7V773.5H355.2V777.3H357.7V779.9H360.2V780.9H361.5" stroke="#f00" stroke-width="1.1"/>
</g>
<g clip-path="url(#c10)" fill="none" stroke-linejoin="miter">
<path d="M453.0,107.2V106.5H455.6V105.2H458.3V103.1H460.9V103.2H463.5V104.3H466.1V101.2H468.8V102.1H471.4V100.7H474.0V102.4H476.7V100.4H479.3V97.6H481.9V92.7H484.6V90.3H487.2V94.0H489.8V100.4H492.4V103.9H495.1V105.5H497.7V106.9H500.3V107.7H503.0V108.1H505.6V107.4H508.2V105.8H510.9V102.2H513.5V98.0H516.1V101.3H518.7V102.0H521.4V101.2H524.0V104.4H526.6V107.2H529.3V108.2H531.9V109.2H534.5V109.7H537.2V110.1H539.8V108.7H542.4V105.6H545.0V93.3H547.7V84.7H550.3V84.7H552.9V90.9H555.6V98.4H558.2V105.3H560.8V108.9H563.5V110.1H566.1V111.2H568.7V111.4H571.3V111.5H574.0V111.5H576.6V111.3H579.2V111.0H581.9V110.3H584.5V108.2H587.1V105.0H589.8V100.5H592.4V94.8H595.0V86.9H597.6V74.4H600.3V62.3H602.9V53.1H605.5V57.4H608.2V70.2H610.8V76.8H613.4V85.3H616.1V95.8H618.7V104.5H621.3V108.0H623.9V106.2H626.6V101.9H629.2V93.7H631.8V77.5H634.5V63.1H637.1V56.5H639.7V55.0H642.4V50.5H645.0V45.8H647.6V42.6H650.2V46.3H652.9V64.9H655.5V74.1H658.1V82.1H660.8V86.0H663.4V86.9H666.0V69.4H668.7V56.0H671.3V44.6H673.9V45.1H676.5V58.0H679.2V68.7H681.8V79.6H684.4V94.3H687.1V102.8H689.7V106.6H692.3V107.2H695.0V107.2H697.6V107.2H700.2V106.4H702.8V105.5H705.5V105.1H708.1V105.1H710.7V105.2H713.4V105.6H716.0V106.1H718.6V106.9H721.3V107.8H723.9V106.2H726.5V102.7H729.1V98.2H731.8V97.2H734.4V99.8H737.0V104.4H739.7V107.6H742.3V108.5H744.9V109.2H747.6V109.2H750.2V109.2H752.8V108.8H755.4V108.4H757.5" stroke="#000" stroke-width="1.1"/>
<path d="M453.0,109.2V108.9H455.6V108.2H458.3V107.2H460.9V106.1H463.5V105.2H466.1V104.3H468.8V103.8H471.4V103.4H474.0V102.7H476.7V101.7H479.3V98.6H481.9V93.9H484.6V91.0H487.2V93.5H489.8V99.3H492.4V103.3H495.1V105.9H497.7V107.1H500.3V108.2H503.0V107.7H505.6V107.1H508.2V106.0H510.9V105.0H513.5V104.1H516.1V104.7H518.7V105.7H521.4V107.1H524.0V108.0H526.6V108.9H529.3V109.4H531.9V109.7H534.5V110.0H537.2V109.4H539.8V107.8H542.4V104.9H545.0V100.9H547.7V98.3H550.3V98.9H552.9V100.4H555.6V103.1H558.2V106.2H560.8V108.9H563.5V110.0H566.1V110.9H568.7V111.6H571.3V111.6H574.0V111.6H576.6V111.6H579.2V111.3H581.9V110.2H584.5V109.1H587.1V107.0H589.8V104.6H592.4V99.3H595.0V92.5H597.6V82.3H600.3V66.3H602.9V66.0H605.5V67.5H608.2V71.5H610.8V78.9H613.4V87.7H616.1V97.9H618.7V105.4H621.3V109.6H623.9V110.2H626.6V106.7H629.2V100.1H631.8V91.9H634.5V82.9H637.1V75.5H639.7V68.5H642.4V61.6H645.0V55.2H647.6V12.8H650.2V10.0H652.9V30.6H655.5V46.4H658.1V71.2H660.8V86.8H663.4V99.1H666.0V64.7H668.7V44.0H671.3V34.1H673.9V35.9H676.5V48.1H679.2V58.0H681.8V68.5H684.4V82.7H687.1V100.4H689.7V108.4H692.3V108.9H695.0V109.0H697.6V108.5H700.2V107.9H702.8V107.4H705.5V106.7H708.1V105.8H710.7V105.4H713.4V106.4H716.0V107.4H718.6V108.1H721.3V107.7H723.9V107.3H726.5V104.9H729.1V102.2H731.8V101.3H734.4V103.1H737.0V105.6H739.7V107.8H742.3V110.0H744.9V110.6H747.6V111.0H750.2V111.0H752.8V110.6H755.4V110.3H757.5" stroke="#f00" stroke-width="1.1"/>
</g>
<g clip-path="url(#c11)" fill="none" stroke-linejoin="miter">
<path d="M453.0,201.1V199.4H455.2V192.9H457.5V192.3H459.8V189.9H462.0V175.0H464.2V156.9H466.5V152.9H468.8V156.9H471.0V158.5H473.2V156.6H475.5V163.1H477.8V183.4H480.0V189.3H482.2V192.0H484.5V190.3H486.8V193.2H489.0V194.8H491.2V197.0H493.5V197.8H495.8V200.3H498.0V202.8H500.2V201.3H502.5V199.8H504.8V200.7H507.0V200.7H509.2V189.5H511.5V186.8H513.8V199.4H516.0V205.9H518.2V203.7H520.5V199.7H522.8V197.7H525.0V199.3H527.2V203.1H529.5V206.6H531.8V201.8H534.0V186.8H536.2V180.7H538.5V179.1H540.8V178.8H543.0V178.8H545.2V194.2H547.5V192.6H549.8V188.7H552.0V186.7H554.2V185.2H556.5V183.8H558.8V183.1H561.0V179.4H563.2V180.8H565.5V183.9H567.8V183.9H570.0V186.2H572.2V188.1H574.5V187.6H576.8V184.2H579.0V179.7H581.2V178.9H583.5V179.5H585.8V182.1H588.0V187.1H590.2V190.6H592.5V193.5H594.8V194.7H597.0V193.2H599.2V185.4H601.5V179.2H603.8V179.2H606.0V188.6H608.2V194.2H610.5V194.9H612.8V192.8H615.0V195.8H617.2V202.1H619.5V205.3H621.8V202.3H624.0V195.5H626.2V189.2H628.5V186.3H630.8V188.4H633.0V191.8H635.2V192.5H637.5V188.0H639.8V182.4H642.0V171.6H644.2V178.4H646.5V188.0H648.8V186.2H651.0V177.2H653.2V168.5H655.5V165.6H657.8V173.3H660.0V172.2H662.2V168.3H664.5V165.4H666.8V178.5H669.0V188.0H671.2V192.3H673.5V195.6H675.8V199.3H678.0V202.0H680.2V199.4H682.5V193.3H684.8V185.8H687.0V175.8H689.2V165.1H691.5V161.3H693.8V160.6H696.0V159.2H698.2V164.7H700.5V171.0H702.8V169.6H705.0V162.3H707.2V147.6H709.5V115.1H711.8V105.0H714.0V105.0H716.2V105.0H718.5V105.0H720.8V105.0H723.0V105.0H725.2V105.0H727.5V105.0H729.8V105.0H732.0V105.0H734.2V105.0H736.5V105.0H738.8V115.8H741.0V122.1H743.2V120.9H745.5V124.5H747.8V154.0H750.0V169.1H752.2V174.0H754.5V182.1H756.8V190.3H757.5" stroke="#000" stroke-width="1.1"/>
<path d="M453.0,200.1V200.5H455.2V201.4H457.5V202.3H459.8V203.1H462.0V203.8H464.2V203.3H466.5V201.5H468.8V196.7H471.0V190.5H473.2V184.2H475.5V183.9H477.8V189.5H480.0V191.6H482.2V193.0H484.5V195.2H486.8V197.0H489.0V198.8H491.2V199.7H493.5V200.5H495.8V201.2H498.0V202.0H500.2V202.7H502.5V202.6H504.8V201.0H507.0V199.5H509.2V198.6H511.5V197.8H513.8V197.1H516.0V197.9H518.2V198.6H520.5V199.5H522.8V200.6H525.0V201.7H527.2V202.7H529.5V203.6H531.8V203.3H534.0V201.1H536.2V198.8H538.5V196.0H540.8V193.3H543.0V191.1H545.2V190.6H547.5V191.7H549.8V194.0H552.0V196.9H554.2V198.6H556.5V199.8H558.8V196.3H561.0V193.3H563.2V191.1H565.5V194.5H567.8V197.0H570.0V198.7H572.2V196.4H574.5V192.9H576.8V183.8H579.0V174.4H581.2V168.0H583.5V172.4H585.8V179.9H588.0V185.9H590.2V192.7H592.5V198.2H594.8V202.6H597.0V201.1H599.2V193.1H601.5V186.1H603.8V183.1H606.0V186.2H608.2V190.3H610.5V194.2H612.8V196.5H615.0V198.9H617.2V201.7H619.5V203.2H621.8V202.5H624.0V199.8H626.2V196.8H628.5V193.8H630.8V194.1H633.0V194.7H635.2V196.1H637.5V192.7H639.8V184.6H642.0V181.7H644.2V181.9H646.5V184.6H648.8V182.3H651.0V179.8H653.2V174.5H655.5V173.1H657.8V174.1H660.0V176.3H662.2V177.4H664.5V177.9H666.8V181.3H669.0V186.1H671.2V192.2H673.5V197.6H675.8V201.8H678.0V203.5H680.2V204.4H682.5V203.8H684.8V202.9H687.0V201.2H689.2V199.1H691.5V196.3H693.8V193.4H696.0V190.4H698.2V191.4H700.5V194.4H702.8V195.8H705.0V194.4H707.2V167.5H709.5V115.1H711.8V105.0H714.0V105.0H716.2V105.0H718.5V105.0H720.8V105.0H723.0V129.5H725.2V105.0H727.5V105.0H729.8V105.0H732.0V105.0H734.2V105.0H736.5V105.0H738.8V105.0H741.0V105.0H743.2V105.0H745.5V121.7H747.8V155.2H750.0V173.2H752.2V176.2H754.5V186.3H756.8V192.1H757.5" stroke="#f00" stroke-width="1.1"/>
</g>
<g clip-path="url(#c12)" fill="none" stroke-linejoin="miter">
<path d="M453.0,288.0V291.1H455.4V295.4H457.8V297.4H460.2V299.0H462.6V300.7H465.0V302.2H467.4V301.4H469.8V300.6H472.2V302.4H474.6V305.7H477.0V293.3H479.4V297.9H481.8V297.3H484.2V298.1H486.6V295.3H489.0V296.9H491.4V298.7H493.8V300.3H496.2V300.9H498.6V300.0H501.0V296.9H503.4V292.3H505.8V287.4H508.2V283.8H510.6V280.9H513.0V278.8H515.4V278.0H517.8V280.0H520.2V282.4H522.6V285.2H525.0V288.2H527.4V290.6H529.8V293.1H532.2V296.4H534.6V298.4H537.0V296.0H539.4V294.5H541.8V292.9H544.2V289.6H546.6V289.5H549.0V292.6H551.4V293.7H553.8V292.6H556.2V291.0H558.6V287.0H561.0V284.1H563.4V284.1H565.8V284.8H568.2V279.1H570.6V275.8H573.0V281.9H575.4V291.0H577.8V294.5H580.2V296.8H582.6V299.3H585.0V302.1H587.4V304.2H589.8V304.2H592.2V303.2H594.6V299.0H597.0V294.5H599.4V293.0H601.8V293.7H604.2V292.9H606.6V296.2H609.0V299.3H611.4V297.8H613.8V295.8H616.2V294.6H618.6V290.1H621.0V282.4H623.4V278.8H625.8V282.4H628.2V285.8H630.6V273.1H633.0V273.6H635.4V284.4H637.8V284.6H640.2V283.1H642.6V287.4H645.0V286.4H647.4V282.8H649.8V287.1H652.2V286.1H654.6V290.0H657.0V289.2H659.4V291.6H661.8V294.0H664.2V295.5H666.6V295.7H669.0V293.3H671.4V287.7H673.8V280.9H676.2V276.7H678.6V279.7H681.0V278.5H683.4V274.6H685.8V271.1H688.2V264.4H690.6V263.0H693.0V262.9H695.4V252.2H697.8V241.6H700.2V243.1H702.6V251.9H705.0V264.9H707.4V277.7H709.8V287.4H712.2V294.0H714.6V297.0H717.0V299.0H719.4V300.5H721.8V299.9H724.2V299.1H726.6V297.9H729.0V296.9H731.4V296.1H733.8V294.5H736.2V294.9H738.6V296.3H741.0V297.1H743.4V297.9H745.8V297.1H748.2V295.1H750.6V296.7H753.0V297.8H755.4V298.3H757.5" stroke="#000" stroke-width="1.1"/>
<path d="M453.0,279.9V283.0H455.4V289.0H457.8V293.9H460.2V296.9H462.6V299.7H465.0V299.5H467.4V298.7H469.8V296.9H472.2V293.4H474.6V286.5H477.0V280.5H479.4V281.7H481.8V284.6H484.2V287.5H486.6V291.1H489.0V293.8H491.4V296.1H493.8V296.7H496.2V296.9H498.6V296.3H501.0V293.7H503.4V290.1H505.8V286.6H508.2V283.1H510.6V280.1H513.0V277.5H515.4V275.0H517.8V275.3H520.2V276.3H522.6V278.8H525.0V281.2H527.4V283.6H529.8V285.5H532.2V287.1H534.6V288.3H537.0V289.3H539.4V289.9H541.8V290.0H544.2V290.1H546.6V291.3H549.0V291.9H551.4V291.2H553.8V288.9H556.2V286.0H558.6V281.1H561.0V278.2H563.4V278.7H565.8V274.7H568.2V265.4H570.6V261.3H573.0V268.2H575.4V279.9H577.8V283.1H580.2V285.7H582.6V288.2H585.0V293.5H587.4V297.3H589.8V297.9H592.2V296.5H594.6V294.2H597.0V291.5H599.4V289.3H601.8V288.5H604.2V289.8H606.6V291.8H609.0V294.2H611.4V296.6H613.8V297.8H616.2V297.7H618.6V296.1H621.0V290.7H623.4V285.6H625.8V281.0H628.2V277.8H630.6V274.8H633.0V276.0H635.4V278.6H637.8V280.8H640.2V282.0H642.6V283.0H645.0V283.6H647.4V284.3H649.8V284.9H652.2V285.8H654.6V287.0H657.0V288.2H659.4V289.4H661.8V291.7H664.2V293.9H666.6V294.5H669.0V294.6H671.4V293.0H673.8V278.0H676.2V268.4H678.6V266.8H681.0V264.7H683.4V261.8H685.8V257.9H688.2V257.4H690.6V257.0H693.0V255.0H695.4V244.9H697.8V240.4H700.2V244.7H702.6V253.0H705.0V264.9H707.4V279.2H709.8V287.7H712.2V292.6H714.6V295.8H717.0V297.7H719.4V299.4H721.8V298.8H724.2V298.0H726.6V296.8H729.0V295.7H731.4V294.5H733.8V293.3H736.2V292.1H738.6V290.9H741.0V289.7H743.4V288.1H745.8V285.5H748.2V286.0H750.6V289.3H753.0V291.9H755.4V292.5H757.5" stroke="#f00" stroke-width="1.1"/>
</g>
<g clip-path="url(#c13)" fill="none" stroke-linejoin="miter">
<path d="M453.0,368.8V369.7H455.6V372.6H458.3V377.1H460.9V382.2H463.6V394.0H466.2V399.7H468.8V402.2H471.5V398.2H474.1V393.4H476.8V391.2H479.4V377.3H482.0V366.9H484.7V300.0H487.3V300.0H490.0V300.0H492.6V300.0H495.2V329.4H497.9V356.0H500.5V391.0H503.2V399.4H505.8V401.0H508.4V394.5H511.1V377.3H513.7V364.0H516.4V361.3H519.0V366.7H521.6V373.0H524.3V380.7H526.9V387.5H529.6V389.7H532.2V380.5H534.8V376.9H537.5V374.0H540.1V363.5H542.8V355.0H545.4V330.1H548.0V327.8H550.7V350.2H553.3V367.5H556.0V376.6H558.6V382.9H561.2V387.7H563.9V390.3H566.5V389.7H569.2V386.1H571.8V381.6H574.4V380.1H577.1V382.8H579.7V387.8H582.4V393.1H585.0V397.2H587.6V397.6H590.3V393.7H592.9V390.0H595.6V387.0H598.2V381.8H600.8V371.2H603.5V362.0H606.1V363.1H608.8V372.4H611.4V389.5H614.0V397.4H616.7V396.6H619.3V392.0H622.0V390.7H624.6V393.7H627.2V391.0H629.9V394.2H632.5V397.1H635.2V397.0H637.8V391.1H640.4V381.0H643.1V383.6H645.7V389.7H648.4V391.6H651.0V393.0H653.6V393.3H656.3V390.2H658.9V380.4H661.6V371.4H664.2V361.8H666.8V351.0H669.5V344.5H672.1V345.8H674.8V351.5H677.4V356.8H680.0V364.5H682.7V374.7H685.3V385.6H688.0V393.5H690.6V395.4H693.2V396.2H695.9V395.6H698.5V394.8H701.2V391.6H703.8V390.9H706.4V390.3H709.1V385.6H711.7V384.6H714.4V389.2H717.0V392.4H719.6V393.5H722.3V395.2H724.9V397.0H727.6V394.5H730.2V392.0H732.8V386.0H735.5V385.1H738.1V389.5H740.8V391.3H743.4V392.0H746.0V390.7H748.7V388.2H751.3V382.9H754.0V380.1H756.6V382.3H757.5" stroke="#000" stroke-width="1.1"/>
<path d="M453.0,397.2V396.9H455.6V396.3H458.3V396.4H460.9V397.0H463.6V397.5H466.2V398.1H468.8V398.7H471.5V398.7H474.1V396.0H476.8V392.5H479.4V387.1H482.0V369.1H484.7V300.0H487.3V300.0H490.0V300.0H492.6V300.0H495.2V300.0H497.9V344.0H500.5V380.0H503.2V397.3H505.8V398.5H508.4V394.4H511.1V384.8H513.7V367.7H516.4V361.2H519.0V367.5H521.6V374.2H524.3V377.7H526.9V381.4H529.6V386.8H532.2V387.0H534.8V383.4H537.5V375.1H540.1V368.3H542.8V362.9H545.4V359.3H548.0V360.1H550.7V364.2H553.3V369.4H556.0V374.6H558.6V380.1H561.2V386.1H563.9V388.5H566.5V388.5H569.2V383.9H571.8V381.2H574.4V380.1H577.1V382.7H579.7V386.7H582.4V392.1H585.0V394.0H587.6V394.0H590.3V392.7H592.9V392.0H595.6V388.3H598.2V382.6H600.8V372.3H603.5V362.6H606.1V359.3H608.8V365.3H611.4V375.7H614.0V382.8H616.7V386.9H619.3V389.5H622.0V391.8H624.6V393.8H627.2V394.6H629.9V395.1H632.5V393.5H635.2V390.7H637.8V385.5H640.4V380.9H643.1V380.5H645.7V383.4H648.4V384.3H651.0V386.9H653.6V392.2H656.3V396.3H658.9V398.3H661.6V397.0H664.2V395.1H666.8V393.1H669.5V392.0H672.1V392.0H674.8V393.6H677.4V395.5H680.0V396.8H682.7V398.1H685.3V398.6H688.0V398.6H690.6V398.5H693.2V397.6H695.9V396.8H698.5V395.9H701.2V395.0H703.8V393.7H706.4V387.9H709.1V383.5H711.7V381.5H714.4V384.7H717.0V388.8H719.6V391.5H722.3V394.1H724.9V396.5H727.6V397.4H730.2V394.7H732.8V391.8H735.5V390.8H738.1V389.8H740.8V389.2H743.4V388.7H746.0V387.4H748.7V386.1H751.3V385.0H754.0V384.0H756.6V383.4H757.5" stroke="#f00" stroke-width="1.1"/>
</g>
<g clip-path="url(#c14)" fill="none" stroke-linejoin="miter">
<path d="M453.0,485.1V483.0H455.7V475.3H458.3V470.3H461.0V469.5H463.6V472.6H466.3V477.0H469.0V482.6H471.6V484.6H474.3V486.0H476.9V486.8H479.6V485.9H482.3V485.2H484.9V486.1H487.6V489.7H490.2V493.3H492.9V496.7H495.6V492.2H498.2V493.2H500.9V494.9H503.5V496.6H506.2V494.8H508.9V492.8H511.5V492.1H514.2V491.4H516.8V491.8H519.5V493.2H522.2V491.9H524.8V491.4H527.5V492.1H530.1V493.0H532.8V489.0H535.5V486.0H538.1V484.6H540.8V483.1H543.4V480.3H546.1V478.3H548.8V476.3H551.4V474.3H554.1V472.4H556.7V470.2H559.4V470.2H562.1V472.9H564.7V475.5H567.4V478.2H570.0V480.8H572.7V483.4H575.4V486.2H578.0V488.4H580.7V490.2H583.3V490.8H586.0V490.9H588.7V490.4H591.3V489.4H594.0V487.8H596.6V484.6H599.3V475.8H602.0V449.5H604.6V459.5H607.3V463.9H609.9V464.7H612.6V475.1H615.3V486.0H617.9V490.9H620.6V489.2H623.2V491.6H625.9V492.4H628.6V492.3H631.2V490.3H633.9V487.4H636.5V483.2H639.2V480.6H641.9V478.2H644.5V483.0H647.2V485.7H649.8V488.4H652.5V489.1H655.2V489.2H657.8V490.5H660.5V491.6H663.1V492.2H665.8V493.4H668.5V494.5H671.1V493.2H673.8V491.3H676.4V488.6H679.1V489.2H681.8V491.9H684.4V490.9H687.1V489.6H689.7V490.7H692.4V492.1H695.1V491.1H697.7V489.3H700.4V488.3H703.0V489.7H705.7V490.6H708.4V489.4H711.0V492.0H713.7V491.6H716.3V490.2H719.0V488.8H721.7V488.1H724.3V489.0H727.0V482.9H729.6V473.5H732.3V472.5H735.0V480.6H737.6V482.3H740.3V485.7H742.9V485.7H745.6V484.0H748.3V482.1H750.9V479.5H753.6V477.2H756.2V479.6H757.5" stroke="#000" stroke-width="1.1"/>
<path d="M453.0,492.1V491.8H455.7V491.3H458.3V489.0H461.0V485.5H463.6V482.6H466.3V484.2H469.0V486.1H471.6V487.6H474.3V489.7H476.9V491.4H479.6V492.3H482.3V492.9H484.9V493.1H487.6V493.3H490.2V493.5H492.9V493.6H495.6V493.5H498.2V493.5H500.9V493.4H503.5V493.4H506.2V493.3H508.9V493.3H511.5V493.2H514.2V493.0H516.8V492.8H519.5V492.7H522.2V492.5H524.8V492.3H527.5V492.1H530.1V490.9H532.8V489.2H535.5V487.0H538.1V484.7H540.8V482.1H543.4V479.4H546.1V477.1H548.8V474.9H551.4V473.0H554.1V471.5H556.7V470.9H559.4V471.9H562.1V473.9H564.7V477.1H567.4V480.2H570.0V482.9H572.7V485.5H575.4V487.6H578.0V489.8H580.7V490.9H583.3V491.8H586.0V491.0H588.7V489.1H591.3V489.1H594.0V488.2H596.6V485.5H599.3V479.9H602.0V474.0H604.6V470.4H607.3V471.3H609.9V475.6H612.6V481.9H615.3V487.8H617.9V491.6H620.6V492.9H623.2V493.3H625.9V492.8H628.6V492.3H631.2V490.2H633.9V488.1H636.5V485.4H639.2V483.3H641.9V482.6H644.5V484.6H647.2V486.4H649.8V488.0H652.5V489.4H655.2V490.5H657.8V491.5H660.5V492.2H663.1V493.0H665.8V493.5H668.5V493.5H671.1V493.5H673.8V493.4H676.4V493.0H679.1V492.7H681.8V492.4H684.4V492.0H687.1V491.7H689.7V491.4H692.4V490.8H695.1V490.1H697.7V489.5H700.4V489.3H703.0V489.7H705.7V490.2H708.4V491.0H711.0V491.9H713.7V492.4H716.3V492.4H719.0V492.4H721.7V492.2H724.3V490.6H727.0V488.9H729.6V484.5H732.3V483.6H735.0V484.7H737.6V486.7H740.3V485.7H742.9V484.0H745.6V481.4H748.3V478.7H750.9V476.1H753.6V475.3H756.2V474.8H757.5" stroke="#f00" stroke-width="1.1"/>
</g>
<g clip-path="url(#c15)" fill="none" stroke-linejoin="miter">
<path d="M453.0,570.7V570.7H455.6V582.4H458.2V584.9H460.8V587.5H463.4V587.5H465.9V578.2H468.5V571.8H471.1V580.1H473.7V578.6H476.3V575.9H478.9V574.7H481.5V568.5H484.1V565.7H486.7V572.6H489.3V583.4H491.8V573.8H494.4V578.1H497.0V581.7H499.6V583.4H502.2V578.8H504.8V583.4H507.4V587.4H510.0V585.7H512.6V575.3H515.2V580.8H517.7V583.1H520.3V584.3H522.9V577.7H525.5V573.2H528.1V567.1H530.7V561.1H533.3V539.7H535.9V543.2H538.5V548.9H541.1V556.0H543.6V562.0H546.2V571.0H548.8V581.4H551.4V587.8H554.0V586.1H556.6V583.6H559.2V581.6H561.8V582.1H564.4V582.3H567.0V581.0H569.6V580.5H572.1V578.3H574.7V579.3H577.3V581.0H579.9V580.2H582.5V578.6H585.1V579.1H587.7V582.7H590.3V582.7H592.9V574.8H595.5V564.5H598.0V554.2H600.6V545.3H603.2V540.7H605.8V542.9H608.4V547.1H611.0V534.2H613.6V543.5H616.2V551.6H618.8V543.7H621.4V541.3H623.9V542.1H626.5V543.5H629.1V550.3H631.7V555.1H634.3V559.3H636.9V580.8H639.5V585.8H642.1V584.6H644.7V580.2H647.3V560.1H649.8V567.9H652.4V576.7H655.0V576.2H657.6V581.0H660.2V583.3H662.8V584.9H665.4V580.0H668.0V566.2H670.6V567.9H673.2V571.8H675.7V569.9H678.3V567.8H680.9V576.4H683.5V577.2H686.1V576.5H688.7V578.3H691.3V581.2H693.9V582.9H696.5V584.6H699.1V585.7H701.6V585.7H704.2V586.5H706.8V586.4H709.4V583.2H712.0V583.3H714.6V580.0H717.2V575.6H719.8V569.0H722.4V560.8H725.0V557.8H727.5V561.8H730.1V566.1H732.7V568.7H735.3V567.7H737.9V564.0H740.5V560.3H743.1V547.3H745.7V522.4H748.3V505.8H750.9V495.0H753.4V495.0H756.0V495.0H757.5" stroke="#000" stroke-width="1.1"/>
<path d="M453.0,582.1V582.9H455.6V584.6H458.2V586.1H460.8V587.1H463.4V587.1H465.9V587.1H468.5V586.8H471.1V586.4H473.7V585.9H476.3V585.0H478.9V584.2H481.5V582.9H484.1V582.4H486.7V583.3H489.3V584.3H491.8V585.3H494.4V585.9H497.0V586.5H499.6V587.1H502.2V587.1H504.8V587.1H507.4V587.1H510.0V587.1H512.6V586.8H515.2V586.2H517.7V585.6H520.3V584.2H522.9V581.0H525.5V573.9H528.1V565.2H530.7V556.4H533.3V549.7H535.9V549.8H538.5V554.6H541.1V558.0H543.6V563.3H546.2V571.5H548.8V581.4H551.4V585.3H554.0V586.6H556.6V587.0H559.2V586.5H561.8V585.8H564.4V584.8H567.0V583.6H569.6V582.1H572.1V581.0H574.7V581.0H577.3V582.0H579.9V583.2H582.5V583.7H585.1V584.2H587.7V584.8H590.3V582.9H592.9V577.7H595.5V568.9H598.0V558.6H600.6V550.3H603.2V547.5H605.8V552.6H608.4V555.1H611.0V556.2H613.6V554.9H616.2V553.1H618.8V550.5H621.4V550.2H623.9V552.0H626.5V555.5H629.1V559.0H631.7V563.1H634.3V568.9H636.9V575.4H639.5V580.6H642.1V579.3H644.7V574.7H647.3V559.9H649.8V566.3H652.4V574.9H655.0V579.5H657.6V583.0H660.2V584.0H662.8V585.0H665.4V584.6H668.0V584.3H670.6V583.9H673.2V582.6H675.7V581.3H678.3V580.0H680.9V578.7H683.5V577.4H686.1V579.1H688.7V580.8H691.3V582.1H693.9V583.4H696.5V584.5H699.1V585.3H701.6V586.1H704.2V585.6H706.8V585.2H709.4V584.1H712.0V582.4H714.6V580.7H717.2V575.6H719.8V570.4H722.4V565.7H725.0V561.9H727.5V562.7H730.1V565.7H732.7V569.2H735.3V573.5H737.9V580.0H740.5V583.8H743.1V582.3H745.7V542.8H748.3V495.0H750.9V495.0H753.4V495.0H756.0V527.5H757.5" stroke="#f00" stroke-width="1.1"/>
</g>
<g clip-path="url(#c16)" fill="none" stroke-linejoin="miter">
<path d="M453.0,667.9V668.7H455.5V668.8H458.1V668.8H460.6V668.7H463.2V667.5H465.7V667.2H468.2V664.5H470.8V641.6H473.3V613.0H475.9V618.1H478.4V644.6H480.9V654.0H483.5V669.1H486.0V668.6H488.6V664.2H491.1V640.3H493.6V605.4H496.2V590.0H498.7V590.0H501.3V590.0H503.8V590.0H506.3V590.0H508.9V590.0H511.4V590.0H514.0V590.0H516.5V612.7H519.0V654.4H521.6V662.7H524.1V670.6H526.7V674.9H529.2V661.4H531.7V654.8H534.3V654.2H536.8V650.7H539.4V652.4H541.9V656.1H544.4V665.4H547.0V674.8H549.5V680.1H552.1V678.9H554.6V678.1H557.1V678.0H559.7V674.5H562.2V671.9H564.8V669.4H567.3V672.1H569.8V676.6H572.4V679.2H574.9V682.6H577.5V685.9H580.0V688.2H582.5V689.6H585.1V689.1H587.6V684.9H590.2V678.9H592.7V677.7H595.2V673.4H597.8V668.2H600.3V661.7H602.9V653.6H605.4V654.5H607.9V658.5H610.5V654.6H613.0V651.1H615.6V667.9H618.1V676.3H620.6V681.7H623.2V685.4H625.7V683.2H628.3V679.1H630.8V677.9H633.3V674.6H635.9V666.8H638.4V655.5H641.0V648.0H643.5V643.8H646.0V650.4H648.6V645.3H651.1V642.2H653.7V642.2H656.2V650.1H658.7V655.8H661.3V657.5H663.8V659.1H666.4V661.7H668.9V665.1H671.4V668.4H674.0V672.7H676.5V674.8H679.1V676.2H681.6V678.8H684.1V683.1H686.7V683.1H689.2V682.4H691.8V682.0H694.3V682.9H696.8V686.7H699.4V677.7H701.9V662.8H704.5V656.1H707.0V651.7H709.5V647.1H712.1V642.0H714.6V642.1H717.2V652.2H719.7V665.0H722.2V676.5H724.8V685.3H727.3V686.2H729.9V684.6H732.4V680.2H734.9V672.9H737.5V662.4H740.0V653.7H742.6V645.5H745.1V640.0H747.6V635.1H750.2V628.8H752.7V626.1H755.3V634.9H757.5" stroke="#000" stroke-width="1.1"/>
<path d="M453.0,658.8V661.3H455.5V666.1H458.1V670.0H460.6V671.4H463.2V672.0H465.7V672.0H468.2V669.6H470.8V628.3H473.3V605.7H475.9V616.1H478.4V644.1H480.9V657.8H483.5V666.8H486.0V676.3H488.6V674.3H491.1V657.3H493.6V643.2H496.2V629.9H498.7V590.3H501.3V590.0H503.8V590.0H506.3V590.0H508.9V590.0H511.4V590.0H514.0V590.0H516.5V590.0H519.0V651.4H521.6V657.5H524.1V655.8H526.7V652.1H529.2V648.1H531.7V644.7H534.3V642.1H536.8V636.5H539.4V640.3H541.9V654.6H544.4V666.9H547.0V674.9H549.5V679.5H552.1V682.1H554.6V682.1H557.1V682.1H559.7V681.6H562.2V680.8H564.8V680.0H567.3V679.6H569.8V679.2H572.4V679.8H574.9V680.6H577.5V681.3H580.0V681.7H582.5V682.1H585.1V682.5H587.6V683.0H590.2V679.6H592.7V674.1H595.2V668.9H597.8V664.0H600.3V660.9H602.9V658.5H605.4V657.8H607.9V660.3H610.5V662.8H613.0V665.4H615.6V670.5H618.1V676.2H620.6V680.8H623.2V683.1H625.7V682.6H628.3V682.1H630.8V678.6H633.3V674.0H635.9V665.5H638.4V661.4H641.0V659.2H643.5V658.0H646.0V657.2H648.6V656.5H651.1V655.3H653.7V657.3H656.2V665.3H658.7V671.8H661.3V676.9H663.8V680.3H666.4V681.6H668.9V682.0H671.4V682.0H674.0V682.0H676.5V682.0H679.1V682.0H681.6V682.0H684.1V682.0H686.7V682.0H689.2V682.0H691.8V682.0H694.3V682.0H696.8V682.0H699.4V670.1H701.9V656.4H704.5V649.5H707.0V645.1H709.5V641.9H712.1V640.2H714.6V641.1H717.2V648.5H719.7V657.0H722.2V666.2H724.8V673.8H727.3V679.1H729.9V681.6H732.4V679.8H734.9V674.4H737.5V666.5H740.0V658.1H742.6V648.7H745.1V641.6H747.6V636.0H750.2V631.1H752.7V628.3H755.3V636.4H757.5" stroke="#f00" stroke-width="1.1"/>
</g>
<g clip-path="url(#c17)" fill="none" stroke-linejoin="miter">
<path d="M453.0,761.9V763.6H455.2V770.0H457.4V771.5H459.7V773.5H461.9V770.2H464.1V770.9H466.3V752.7H468.5V751.9H470.8V770.7H473.0V771.2H475.2V777.6H477.4V781.3H479.6V779.6H481.9V776.5H484.1V774.2H486.3V771.6H488.5V770.4H490.7V771.4H493.0V773.3H495.2V773.8H497.4V773.0H499.6V768.3H501.8V775.3H504.1V777.6H506.3V779.2H508.5V778.9H510.7V775.9H512.9V758.3H515.2V721.7H517.4V690.0H519.6V690.0H521.8V724.9H524.0V746.4H526.3V744.2H528.5V760.2H530.7V770.6H532.9V778.6H535.1V780.8H537.4V769.6H539.6V759.3H541.8V743.9H544.0V731.9H546.2V690.0H548.5V695.5H550.7V731.7H552.9V735.0H555.1V742.3H557.3V747.8H559.6V754.8H561.8V761.6H564.0V764.0H566.2V766.0H568.4V769.0H570.7V767.5H572.9V769.7H575.1V774.2H577.3V778.0H579.5V780.7H581.8V782.2H584.0V783.8H586.2V783.1H588.4V781.1H590.6V778.2H592.9V771.5H595.1V763.0H597.3V752.2H599.5V744.1H601.7V739.9H604.0V740.1H606.2V746.6H608.4V753.5H610.6V760.2H612.8V766.9H615.1V772.7H617.3V783.9H619.5V780.8H621.7V780.1H623.9V779.6H626.2V778.1H628.4V776.0H630.6V773.8H632.8V772.2H635.0V770.7H637.3V769.3H639.5V771.1H641.7V771.2H643.9V768.3H646.1V765.9H648.4V765.9H650.6V770.2H652.8V773.5H655.0V774.4H657.2V776.7H659.5V779.9H661.7V777.0H663.9V778.8H666.1V779.5H668.3V778.0H670.6V775.1H672.8V775.0H675.0V778.1H677.2V781.1H679.4V782.3H681.7V783.4H683.9V784.5H686.1V785.6H688.3V786.7H690.5V787.8H692.8V788.9H695.0V790.0H697.2V785.5H699.4V763.7H701.6V758.4H703.9V757.2H706.1V755.8H708.3V755.1H710.5V754.7H712.7V754.7H715.0V754.7H717.2V755.5H719.4V756.9H721.6V757.7H723.8V765.7H726.1V769.4H728.3V771.4H730.5V773.4H732.7V771.2H734.9V764.5H737.2V759.6H739.4V764.3H741.6V771.9H743.8V772.6H746.0V769.1H748.3V765.9H750.5V769.0H752.7V771.1H754.9V772.3H757.1V771.4H757.5" stroke="#000" stroke-width="1.1"/>
<path d="M453.0,759.8V764.5H455.2V773.4H457.4V777.2H459.7V780.2H461.9V783.0H464.1V783.6H466.3V784.0H468.5V783.9H470.8V783.5H473.0V783.1H475.2V782.4H477.4V781.7H479.6V780.9H481.9V779.8H484.1V778.7H486.3V778.3H488.5V778.6H490.7V779.0H493.0V778.5H495.2V777.6H497.4V776.7H499.6V775.8H501.8V775.0H504.1V775.0H506.3V775.0H508.5V774.4H510.7V767.5H512.9V690.0H515.2V690.0H517.4V690.0H519.6V690.0H521.8V690.0H524.0V690.0H526.3V690.0H528.5V690.0H530.7V690.0H532.9V761.2H535.1V770.5H537.4V775.5H539.6V765.8H541.8V744.5H544.0V709.6H546.2V690.0H548.5V690.0H550.7V690.0H552.9V690.0H555.1V690.0H557.3V718.9H559.6V738.4H561.8V755.7H564.0V764.3H566.2V769.2H568.4V772.6H570.7V775.3H572.9V777.5H575.1V779.5H577.3V781.0H579.5V782.4H581.8V783.4H584.0V783.8H586.2V783.8H588.4V782.1H590.6V777.0H592.9V767.9H595.1V760.5H597.3V751.8H599.5V744.4H601.7V740.1H604.0V739.8H606.2V741.5H608.4V745.2H610.6V750.7H612.8V757.7H615.1V766.6H617.3V774.9H619.5V780.9H621.7V783.1H623.9V784.3H626.2V783.8H628.4V782.8H630.6V781.1H632.8V778.2H635.0V773.0H637.3V765.1H639.5V758.2H641.7V753.2H643.9V751.2H646.1V750.9H648.4V752.3H650.6V757.8H652.8V763.8H655.0V769.7H657.2V774.3H659.5V778.0H661.7V780.8H663.9V782.6H666.1V783.2H668.3V783.8H670.6V784.5H672.8V784.5H675.0V784.5H677.2V784.5H679.4V784.5H681.7V784.5H683.9V784.5H686.1V784.5H688.3V784.5H690.5V784.5H692.8V784.5H695.0V784.2H697.2V783.9H699.4V783.7H701.6V783.4H703.9V782.7H706.1V781.9H708.3V781.2H710.5V776.7H712.7V771.1H715.0V767.9H717.2V769.1H719.4V771.4H721.6V772.9H723.8V774.4H726.1V776.0H728.3V776.4H730.5V775.4H732.7V770.2H734.9V764.6H737.2V758.8H739.4V754.8H741.6V756.3H743.8V762.1H746.0V769.5H748.3V775.5H750.5V780.3H752.7V782.5H754.9V783.9H757.1V784.4H757.5" stroke="#f00" stroke-width="1.1"/>
</g>
<rect x="56.3" y="20.0" width="305.7" height="96.0" fill="none" stroke="#000" stroke-width="1.1"/>
<line x1="51.0" y1="37.5" x2="56.3" y2="37.5" stroke="#000" stroke-width="1"/>
<text class="ns" transform="translate(47.90,42.10) scale(0.940,1)" font-size="12.3" text-anchor="end" fill="#000"><tspan>0.90</tspan></text>
<line x1="51.0" y1="62.0" x2="56.3" y2="62.0" stroke="#000" stroke-width="1"/>
<text class="ns" transform="translate(47.90,66.60) scale(0.940,1)" font-size="12.3" text-anchor="end" fill="#000"><tspan>0.60</tspan></text>
<line x1="51.0" y1="86.8" x2="56.3" y2="86.8" stroke="#000" stroke-width="1"/>
<text class="ns" transform="translate(47.90,91.35) scale(0.940,1)" font-size="12.3" text-anchor="end" fill="#000"><tspan>0.30</tspan></text>
<line x1="51.0" y1="111.2" x2="56.3" y2="111.2" stroke="#000" stroke-width="1"/>
<text class="ns" transform="translate(47.90,115.85) scale(0.940,1)" font-size="12.3" text-anchor="end" fill="#000"><tspan>0.00</tspan></text>
<line x1="89.4" y1="116.0" x2="89.4" y2="110.8" stroke="#000" stroke-width="1"/>
<line x1="149.9" y1="116.0" x2="149.9" y2="110.8" stroke="#000" stroke-width="1"/>
<line x1="210.4" y1="116.0" x2="210.4" y2="110.8" stroke="#000" stroke-width="1"/>
<line x1="270.9" y1="116.0" x2="270.9" y2="110.8" stroke="#000" stroke-width="1"/>
<line x1="331.4" y1="116.0" x2="331.4" y2="110.8" stroke="#000" stroke-width="1"/>
<rect x="56.3" y="116.0" width="305.7" height="97.2" fill="none" stroke="#000" stroke-width="1.1"/>
<line x1="51.0" y1="135.9" x2="56.3" y2="135.9" stroke="#000" stroke-width="1"/>
<text class="ns" transform="translate(47.90,140.50) scale(0.940,1)" font-size="12.3" text-anchor="end" fill="#000"><tspan>0.15</tspan></text>
<line x1="51.0" y1="159.2" x2="56.3" y2="159.2" stroke="#000" stroke-width="1"/>
<text class="ns" transform="translate(47.90,163.80) scale(0.940,1)" font-size="12.3" text-anchor="end" fill="#000"><tspan>0.10</tspan></text>
<line x1="51.0" y1="182.2" x2="56.3" y2="182.2" stroke="#000" stroke-width="1"/>
<text class="ns" transform="translate(47.90,186.80) scale(0.940,1)" font-size="12.3" text-anchor="end" fill="#000"><tspan>0.05</tspan></text>
<line x1="51.0" y1="205.4" x2="56.3" y2="205.4" stroke="#000" stroke-width="1"/>
<text class="ns" transform="translate(47.90,210.00) scale(0.940,1)" font-size="12.3" text-anchor="end" fill="#000"><tspan>0.00</tspan></text>
<line x1="89.4" y1="213.2" x2="89.4" y2="208.0" stroke="#000" stroke-width="1"/>
<line x1="149.9" y1="213.2" x2="149.9" y2="208.0" stroke="#000" stroke-width="1"/>
<line x1="210.4" y1="213.2" x2="210.4" y2="208.0" stroke="#000" stroke-width="1"/>
<line x1="270.9" y1="213.2" x2="270.9" y2="208.0" stroke="#000" stroke-width="1"/>
<line x1="331.4" y1="213.2" x2="331.4" y2="208.0" stroke="#000" stroke-width="1"/>
<rect x="56.3" y="213.2" width="305.7" height="97.0" fill="none" stroke="#000" stroke-width="1.1"/>
<line x1="51.0" y1="230.9" x2="56.3" y2="230.9" stroke="#000" stroke-width="1"/>
<text class="ns" transform="translate(47.90,235.50) scale(0.940,1)" font-size="12.3" text-anchor="end" fill="#000"><tspan>0.18</tspan></text>
<line x1="51.0" y1="254.9" x2="56.3" y2="254.9" stroke="#000" stroke-width="1"/>
<text class="ns" transform="translate(47.90,259.50) scale(0.940,1)" font-size="12.3" text-anchor="end" fill="#000"><tspan>0.12</tspan></text>
<line x1="51.0" y1="278.6" x2="56.3" y2="278.6" stroke="#000" stroke-width="1"/>
<text class="ns" transform="translate(47.90,283.20) scale(0.940,1)" font-size="12.3" text-anchor="end" fill="#000"><tspan>0.06</tspan></text>
<line x1="51.0" y1="302.9" x2="56.3" y2="302.9" stroke="#000" stroke-width="1"/>
<text class="ns" transform="translate(47.90,307.50) scale(0.940,1)" font-size="12.3" text-anchor="end" fill="#000"><tspan>0.00</tspan></text>
<line x1="89.4" y1="310.2" x2="89.4" y2="305.0" stroke="#000" stroke-width="1"/>
<line x1="149.9" y1="310.2" x2="149.9" y2="305.0" stroke="#000" stroke-width="1"/>
<line x1="210.4" y1="310.2" x2="210.4" y2="305.0" stroke="#000" stroke-width="1"/>
<line x1="270.9" y1="310.2" x2="270.9" y2="305.0" stroke="#000" stroke-width="1"/>
<line x1="331.4" y1="310.2" x2="331.4" y2="305.0" stroke="#000" stroke-width="1"/>
<rect x="56.3" y="310.2" width="305.7" height="95.4" fill="none" stroke="#000" stroke-width="1.1"/>
<line x1="51.0" y1="318.7" x2="56.3" y2="318.7" stroke="#000" stroke-width="1"/>
<text class="ns" transform="translate(47.90,323.30) scale(0.940,1)" font-size="12.3" text-anchor="end" fill="#000"><tspan>0.16</tspan></text>
<line x1="51.0" y1="338.5" x2="56.3" y2="338.5" stroke="#000" stroke-width="1"/>
<text class="ns" transform="translate(47.90,343.10) scale(0.940,1)" font-size="12.3" text-anchor="end" fill="#000"><tspan>0.12</tspan></text>
<line x1="51.0" y1="359.1" x2="56.3" y2="359.1" stroke="#000" stroke-width="1"/>
<text class="ns" transform="translate(47.90,363.70) scale(0.940,1)" font-size="12.3" text-anchor="end" fill="#000"><tspan>0.08</tspan></text>
<line x1="51.0" y1="380.0" x2="56.3" y2="380.0" stroke="#000" stroke-width="1"/>
<text class="ns" transform="translate(47.90,384.60) scale(0.940,1)" font-size="12.3" text-anchor="end" fill="#000"><tspan>0.04</tspan></text>
<line x1="51.0" y1="400.0" x2="56.3" y2="400.0" stroke="#000" stroke-width="1"/>
<text class="ns" transform="translate(47.90,404.60) scale(0.940,1)" font-size="12.3" text-anchor="end" fill="#000"><tspan>0.00</tspan></text>
<line x1="89.4" y1="405.6" x2="89.4" y2="400.4" stroke="#000" stroke-width="1"/>
<line x1="149.9" y1="405.6" x2="149.9" y2="400.4" stroke="#000" stroke-width="1"/>
<line x1="210.4" y1="405.6" x2="210.4" y2="400.4" stroke="#000" stroke-width="1"/>
<line x1="270.9" y1="405.6" x2="270.9" y2="400.4" stroke="#000" stroke-width="1"/>
<line x1="331.4" y1="405.6" x2="331.4" y2="400.4" stroke="#000" stroke-width="1"/>
<rect x="56.3" y="405.6" width="305.7" height="97.7" fill="none" stroke="#000" stroke-width="1.1"/>
<line x1="51.0" y1="426.4" x2="56.3" y2="426.4" stroke="#000" stroke-width="1"/>
<text class="ns" transform="translate(47.90,431.00) scale(0.940,1)" font-size="12.3" text-anchor="end" fill="#000"><tspan>0.21</tspan></text>
<line x1="51.0" y1="449.1" x2="56.3" y2="449.1" stroke="#000" stroke-width="1"/>
<text class="ns" transform="translate(47.90,453.70) scale(0.940,1)" font-size="12.3" text-anchor="end" fill="#000"><tspan>0.14</tspan></text>
<line x1="51.0" y1="471.5" x2="56.3" y2="471.5" stroke="#000" stroke-width="1"/>
<text class="ns" transform="translate(47.90,476.10) scale(0.940,1)" font-size="12.3" text-anchor="end" fill="#000"><tspan>0.07</tspan></text>
<line x1="51.0" y1="493.9" x2="56.3" y2="493.9" stroke="#000" stroke-width="1"/>
<text class="ns" transform="translate(47.90,498.50) scale(0.940,1)" font-size="12.3" text-anchor="end" fill="#000"><tspan>0.00</tspan></text>
<line x1="89.4" y1="503.3" x2="89.4" y2="498.1" stroke="#000" stroke-width="1"/>
<line x1="149.9" y1="503.3" x2="149.9" y2="498.1" stroke="#000" stroke-width="1"/>
<line x1="210.4" y1="503.3" x2="210.4" y2="498.1" stroke="#000" stroke-width="1"/>
<line x1="270.9" y1="503.3" x2="270.9" y2="498.1" stroke="#000" stroke-width="1"/>
<line x1="331.4" y1="503.3" x2="331.4" y2="498.1" stroke="#000" stroke-width="1"/>
<rect x="56.3" y="503.3" width="305.7" height="96.7" fill="none" stroke="#000" stroke-width="1.1"/>
<line x1="51.0" y1="515.8" x2="56.3" y2="515.8" stroke="#000" stroke-width="1"/>
<text class="ns" transform="translate(47.90,520.40) scale(0.940,1)" font-size="12.3" text-anchor="end" fill="#000"><tspan>1.05</tspan></text>
<line x1="51.0" y1="542.2" x2="56.3" y2="542.2" stroke="#000" stroke-width="1"/>
<text class="ns" transform="translate(47.90,546.80) scale(0.940,1)" font-size="12.3" text-anchor="end" fill="#000"><tspan>0.70</tspan></text>
<line x1="51.0" y1="568.3" x2="56.3" y2="568.3" stroke="#000" stroke-width="1"/>
<text class="ns" transform="translate(47.90,572.90) scale(0.940,1)" font-size="12.3" text-anchor="end" fill="#000"><tspan>0.35</tspan></text>
<line x1="51.0" y1="594.7" x2="56.3" y2="594.7" stroke="#000" stroke-width="1"/>
<text class="ns" transform="translate(47.90,599.30) scale(0.940,1)" font-size="12.3" text-anchor="end" fill="#000"><tspan>0.00</tspan></text>
<line x1="89.4" y1="600.0" x2="89.4" y2="594.8" stroke="#000" stroke-width="1"/>
<line x1="149.9" y1="600.0" x2="149.9" y2="594.8" stroke="#000" stroke-width="1"/>
<line x1="210.4" y1="600.0" x2="210.4" y2="594.8" stroke="#000" stroke-width="1"/>
<line x1="270.9" y1="600.0" x2="270.9" y2="594.8" stroke="#000" stroke-width="1"/>
<line x1="331.4" y1="600.0" x2="331.4" y2="594.8" stroke="#000" stroke-width="1"/>
<rect x="56.3" y="600.0" width="305.7" height="96.6" fill="none" stroke="#000" stroke-width="1.1"/>
<line x1="51.0" y1="613.7" x2="56.3" y2="613.7" stroke="#000" stroke-width="1"/>
<text class="ns" transform="translate(47.90,618.30) scale(0.940,1)" font-size="12.3" text-anchor="end" fill="#000"><tspan>0.06</tspan></text>
<line x1="51.0" y1="638.8" x2="56.3" y2="638.8" stroke="#000" stroke-width="1"/>
<text class="ns" transform="translate(47.90,643.40) scale(0.940,1)" font-size="12.3" text-anchor="end" fill="#000"><tspan>0.04</tspan></text>
<line x1="51.0" y1="664.1" x2="56.3" y2="664.1" stroke="#000" stroke-width="1"/>
<text class="ns" transform="translate(47.90,668.70) scale(0.940,1)" font-size="12.3" text-anchor="end" fill="#000"><tspan>0.02</tspan></text>
<line x1="51.0" y1="689.5" x2="56.3" y2="689.5" stroke="#000" stroke-width="1"/>
<text class="ns" transform="translate(47.90,694.10) scale(0.940,1)" font-size="12.3" text-anchor="end" fill="#000"><tspan>0.00</tspan></text>
<line x1="89.4" y1="696.6" x2="89.4" y2="691.4" stroke="#000" stroke-width="1"/>
<line x1="149.9" y1="696.6" x2="149.9" y2="691.4" stroke="#000" stroke-width="1"/>
<line x1="210.4" y1="696.6" x2="210.4" y2="691.4" stroke="#000" stroke-width="1"/>
<line x1="270.9" y1="696.6" x2="270.9" y2="691.4" stroke="#000" stroke-width="1"/>
<line x1="331.4" y1="696.6" x2="331.4" y2="691.4" stroke="#000" stroke-width="1"/>
<rect x="56.3" y="696.6" width="305.7" height="96.6" fill="none" stroke="#000" stroke-width="1.1"/>
<line x1="51.0" y1="710.0" x2="56.3" y2="710.0" stroke="#000" stroke-width="1"/>
<text class="ns" transform="translate(47.90,714.60) scale(0.940,1)" font-size="12.3" text-anchor="end" fill="#000"><tspan>0.06</tspan></text>
<line x1="51.0" y1="735.5" x2="56.3" y2="735.5" stroke="#000" stroke-width="1"/>
<text class="ns" transform="translate(47.90,740.10) scale(0.940,1)" font-size="12.3" text-anchor="end" fill="#000"><tspan>0.04</tspan></text>
<line x1="51.0" y1="761.0" x2="56.3" y2="761.0" stroke="#000" stroke-width="1"/>
<text class="ns" transform="translate(47.90,765.60) scale(0.940,1)" font-size="12.3" text-anchor="end" fill="#000"><tspan>0.02</tspan></text>
<line x1="51.0" y1="786.0" x2="56.3" y2="786.0" stroke="#000" stroke-width="1"/>
<text class="ns" transform="translate(47.90,790.60) scale(0.940,1)" font-size="12.3" text-anchor="end" fill="#000"><tspan>0.00</tspan></text>
<line x1="89.4" y1="793.2" x2="89.4" y2="798.6" stroke="#000" stroke-width="1"/>
<text class="ns" transform="translate(89.40,812.40) scale(0.940,1)" font-size="12.3" text-anchor="middle" fill="#000"><tspan>-96</tspan></text>
<line x1="149.9" y1="793.2" x2="149.9" y2="798.6" stroke="#000" stroke-width="1"/>
<text class="ns" transform="translate(149.90,812.40) scale(0.940,1)" font-size="12.3" text-anchor="middle" fill="#000"><tspan>-16</tspan></text>
<line x1="210.4" y1="793.2" x2="210.4" y2="798.6" stroke="#000" stroke-width="1"/>
<text class="ns" transform="translate(210.41,812.40) scale(0.940,1)" font-size="12.3" text-anchor="middle" fill="#000"><tspan>64</tspan></text>
<line x1="270.9" y1="793.2" x2="270.9" y2="798.6" stroke="#000" stroke-width="1"/>
<text class="ns" transform="translate(270.91,812.40) scale(0.940,1)" font-size="12.3" text-anchor="middle" fill="#000"><tspan>144</tspan></text>
<line x1="331.4" y1="793.2" x2="331.4" y2="798.6" stroke="#000" stroke-width="1"/>
<text class="ns" transform="translate(331.42,812.40) scale(0.940,1)" font-size="12.3" text-anchor="middle" fill="#000"><tspan>224</tspan></text>
<rect x="452.7" y="19.8" width="305.7" height="95.7" fill="none" stroke="#000" stroke-width="1.1"/>
<line x1="447.4" y1="29.3" x2="452.7" y2="29.3" stroke="#000" stroke-width="1"/>
<text class="ns" transform="translate(444.30,33.90) scale(0.940,1)" font-size="12.3" text-anchor="end" fill="#000"><tspan>0.27</tspan></text>
<line x1="447.4" y1="57.5" x2="452.7" y2="57.5" stroke="#000" stroke-width="1"/>
<text class="ns" transform="translate(444.30,62.10) scale(0.940,1)" font-size="12.3" text-anchor="end" fill="#000"><tspan>0.18</tspan></text>
<line x1="447.4" y1="84.7" x2="452.7" y2="84.7" stroke="#000" stroke-width="1"/>
<text class="ns" transform="translate(444.30,89.30) scale(0.940,1)" font-size="12.3" text-anchor="end" fill="#000"><tspan>0.09</tspan></text>
<line x1="447.4" y1="111.6" x2="452.7" y2="111.6" stroke="#000" stroke-width="1"/>
<text class="ns" transform="translate(444.30,116.20) scale(0.940,1)" font-size="12.3" text-anchor="end" fill="#000"><tspan>0.00</tspan></text>
<line x1="485.8" y1="115.5" x2="485.8" y2="110.3" stroke="#000" stroke-width="1"/>
<line x1="546.3" y1="115.5" x2="546.3" y2="110.3" stroke="#000" stroke-width="1"/>
<line x1="606.8" y1="115.5" x2="606.8" y2="110.3" stroke="#000" stroke-width="1"/>
<line x1="667.3" y1="115.5" x2="667.3" y2="110.3" stroke="#000" stroke-width="1"/>
<line x1="727.8" y1="115.5" x2="727.8" y2="110.3" stroke="#000" stroke-width="1"/>
<rect x="452.7" y="115.5" width="305.7" height="97.5" fill="none" stroke="#000" stroke-width="1.1"/>
<line x1="447.4" y1="125.6" x2="452.7" y2="125.6" stroke="#000" stroke-width="1"/>
<text class="ns" transform="translate(444.30,130.20) scale(0.940,1)" font-size="12.3" text-anchor="end" fill="#000"><tspan>0.09</tspan></text>
<line x1="447.4" y1="153.3" x2="452.7" y2="153.3" stroke="#000" stroke-width="1"/>
<text class="ns" transform="translate(444.30,157.90) scale(0.940,1)" font-size="12.3" text-anchor="end" fill="#000"><tspan>0.06</tspan></text>
<line x1="447.4" y1="180.2" x2="452.7" y2="180.2" stroke="#000" stroke-width="1"/>
<text class="ns" transform="translate(444.30,184.80) scale(0.940,1)" font-size="12.3" text-anchor="end" fill="#000"><tspan>0.03</tspan></text>
<line x1="447.4" y1="207.4" x2="452.7" y2="207.4" stroke="#000" stroke-width="1"/>
<text class="ns" transform="translate(444.30,212.00) scale(0.940,1)" font-size="12.3" text-anchor="end" fill="#000"><tspan>0.00</tspan></text>
<line x1="485.8" y1="213.0" x2="485.8" y2="207.8" stroke="#000" stroke-width="1"/>
<line x1="546.3" y1="213.0" x2="546.3" y2="207.8" stroke="#000" stroke-width="1"/>
<line x1="606.8" y1="213.0" x2="606.8" y2="207.8" stroke="#000" stroke-width="1"/>
<line x1="667.3" y1="213.0" x2="667.3" y2="207.8" stroke="#000" stroke-width="1"/>
<line x1="727.8" y1="213.0" x2="727.8" y2="207.8" stroke="#000" stroke-width="1"/>
<rect x="452.7" y="213.0" width="305.7" height="96.6" fill="none" stroke="#000" stroke-width="1.1"/>
<line x1="447.4" y1="232.2" x2="452.7" y2="232.2" stroke="#000" stroke-width="1"/>
<text class="ns" transform="translate(444.30,236.80) scale(0.940,1)" font-size="12.3" text-anchor="end" fill="#000"><tspan>0.15</tspan></text>
<line x1="447.4" y1="255.4" x2="452.7" y2="255.4" stroke="#000" stroke-width="1"/>
<text class="ns" transform="translate(444.30,260.00) scale(0.940,1)" font-size="12.3" text-anchor="end" fill="#000"><tspan>0.10</tspan></text>
<line x1="447.4" y1="278.4" x2="452.7" y2="278.4" stroke="#000" stroke-width="1"/>
<text class="ns" transform="translate(444.30,283.00) scale(0.940,1)" font-size="12.3" text-anchor="end" fill="#000"><tspan>0.05</tspan></text>
<line x1="447.4" y1="301.0" x2="452.7" y2="301.0" stroke="#000" stroke-width="1"/>
<text class="ns" transform="translate(444.30,305.60) scale(0.940,1)" font-size="12.3" text-anchor="end" fill="#000"><tspan>0.00</tspan></text>
<line x1="485.8" y1="309.6" x2="485.8" y2="304.4" stroke="#000" stroke-width="1"/>
<line x1="546.3" y1="309.6" x2="546.3" y2="304.4" stroke="#000" stroke-width="1"/>
<line x1="606.8" y1="309.6" x2="606.8" y2="304.4" stroke="#000" stroke-width="1"/>
<line x1="667.3" y1="309.6" x2="667.3" y2="304.4" stroke="#000" stroke-width="1"/>
<line x1="727.8" y1="309.6" x2="727.8" y2="304.4" stroke="#000" stroke-width="1"/>
<rect x="452.7" y="309.6" width="305.7" height="96.2" fill="none" stroke="#000" stroke-width="1.1"/>
<line x1="447.4" y1="327.4" x2="452.7" y2="327.4" stroke="#000" stroke-width="1"/>
<text class="ns" transform="translate(444.30,332.00) scale(0.940,1)" font-size="12.3" text-anchor="end" fill="#000"><tspan>0.09</tspan></text>
<line x1="447.4" y1="352.0" x2="452.7" y2="352.0" stroke="#000" stroke-width="1"/>
<text class="ns" transform="translate(444.30,356.60) scale(0.940,1)" font-size="12.3" text-anchor="end" fill="#000"><tspan>0.06</tspan></text>
<line x1="447.4" y1="376.3" x2="452.7" y2="376.3" stroke="#000" stroke-width="1"/>
<text class="ns" transform="translate(444.30,380.90) scale(0.940,1)" font-size="12.3" text-anchor="end" fill="#000"><tspan>0.03</tspan></text>
<line x1="447.4" y1="401.0" x2="452.7" y2="401.0" stroke="#000" stroke-width="1"/>
<text class="ns" transform="translate(444.30,405.60) scale(0.940,1)" font-size="12.3" text-anchor="end" fill="#000"><tspan>0.00</tspan></text>
<line x1="485.8" y1="405.8" x2="485.8" y2="400.6" stroke="#000" stroke-width="1"/>
<line x1="546.3" y1="405.8" x2="546.3" y2="400.6" stroke="#000" stroke-width="1"/>
<line x1="606.8" y1="405.8" x2="606.8" y2="400.6" stroke="#000" stroke-width="1"/>
<line x1="667.3" y1="405.8" x2="667.3" y2="400.6" stroke="#000" stroke-width="1"/>
<line x1="727.8" y1="405.8" x2="727.8" y2="400.6" stroke="#000" stroke-width="1"/>
<rect x="452.7" y="405.8" width="305.7" height="97.1" fill="none" stroke="#000" stroke-width="1.1"/>
<line x1="447.4" y1="425.0" x2="452.7" y2="425.0" stroke="#000" stroke-width="1"/>
<text class="ns" transform="translate(444.30,429.60) scale(0.940,1)" font-size="12.3" text-anchor="end" fill="#000"><tspan>0.12</tspan></text>
<line x1="447.4" y1="447.5" x2="452.7" y2="447.5" stroke="#000" stroke-width="1"/>
<text class="ns" transform="translate(444.30,452.10) scale(0.940,1)" font-size="12.3" text-anchor="end" fill="#000"><tspan>0.08</tspan></text>
<line x1="447.4" y1="470.4" x2="452.7" y2="470.4" stroke="#000" stroke-width="1"/>
<text class="ns" transform="translate(444.30,475.00) scale(0.940,1)" font-size="12.3" text-anchor="end" fill="#000"><tspan>0.04</tspan></text>
<line x1="447.4" y1="493.1" x2="452.7" y2="493.1" stroke="#000" stroke-width="1"/>
<text class="ns" transform="translate(444.30,497.70) scale(0.940,1)" font-size="12.3" text-anchor="end" fill="#000"><tspan>0.00</tspan></text>
<line x1="485.8" y1="502.9" x2="485.8" y2="497.7" stroke="#000" stroke-width="1"/>
<line x1="546.3" y1="502.9" x2="546.3" y2="497.7" stroke="#000" stroke-width="1"/>
<line x1="606.8" y1="502.9" x2="606.8" y2="497.7" stroke="#000" stroke-width="1"/>
<line x1="667.3" y1="502.9" x2="667.3" y2="497.7" stroke="#000" stroke-width="1"/>
<line x1="727.8" y1="502.9" x2="727.8" y2="497.7" stroke="#000" stroke-width="1"/>
<rect x="452.7" y="502.9" width="305.7" height="96.8" fill="none" stroke="#000" stroke-width="1.1"/>
<line x1="447.4" y1="512.9" x2="452.7" y2="512.9" stroke="#000" stroke-width="1"/>
<text class="ns" transform="translate(444.30,517.50) scale(0.940,1)" font-size="12.3" text-anchor="end" fill="#000"><tspan>0.09</tspan></text>
<line x1="447.4" y1="537.7" x2="452.7" y2="537.7" stroke="#000" stroke-width="1"/>
<text class="ns" transform="translate(444.30,542.30) scale(0.940,1)" font-size="12.3" text-anchor="end" fill="#000"><tspan>0.06</tspan></text>
<line x1="447.4" y1="562.8" x2="452.7" y2="562.8" stroke="#000" stroke-width="1"/>
<text class="ns" transform="translate(444.30,567.40) scale(0.940,1)" font-size="12.3" text-anchor="end" fill="#000"><tspan>0.03</tspan></text>
<line x1="447.4" y1="587.9" x2="452.7" y2="587.9" stroke="#000" stroke-width="1"/>
<text class="ns" transform="translate(444.30,592.50) scale(0.940,1)" font-size="12.3" text-anchor="end" fill="#000"><tspan>0.00</tspan></text>
<line x1="485.8" y1="599.7" x2="485.8" y2="594.5" stroke="#000" stroke-width="1"/>
<line x1="546.3" y1="599.7" x2="546.3" y2="594.5" stroke="#000" stroke-width="1"/>
<line x1="606.8" y1="599.7" x2="606.8" y2="594.5" stroke="#000" stroke-width="1"/>
<line x1="667.3" y1="599.7" x2="667.3" y2="594.5" stroke="#000" stroke-width="1"/>
<line x1="727.8" y1="599.7" x2="727.8" y2="594.5" stroke="#000" stroke-width="1"/>
<rect x="452.7" y="599.7" width="305.7" height="97.2" fill="none" stroke="#000" stroke-width="1.1"/>
<line x1="447.4" y1="613.0" x2="452.7" y2="613.0" stroke="#000" stroke-width="1"/>
<text class="ns" transform="translate(444.30,617.60) scale(0.940,1)" font-size="12.3" text-anchor="end" fill="#000"><tspan>0.06</tspan></text>
<line x1="447.4" y1="636.7" x2="452.7" y2="636.7" stroke="#000" stroke-width="1"/>
<text class="ns" transform="translate(444.30,641.30) scale(0.940,1)" font-size="12.3" text-anchor="end" fill="#000"><tspan>0.04</tspan></text>
<line x1="447.4" y1="659.9" x2="452.7" y2="659.9" stroke="#000" stroke-width="1"/>
<text class="ns" transform="translate(444.30,664.50) scale(0.940,1)" font-size="12.3" text-anchor="end" fill="#000"><tspan>0.02</tspan></text>
<line x1="447.4" y1="683.7" x2="452.7" y2="683.7" stroke="#000" stroke-width="1"/>
<text class="ns" transform="translate(444.30,688.30) scale(0.940,1)" font-size="12.3" text-anchor="end" fill="#000"><tspan>0.00</tspan></text>
<line x1="485.8" y1="696.9" x2="485.8" y2="691.7" stroke="#000" stroke-width="1"/>
<line x1="546.3" y1="696.9" x2="546.3" y2="691.7" stroke="#000" stroke-width="1"/>
<line x1="606.8" y1="696.9" x2="606.8" y2="691.7" stroke="#000" stroke-width="1"/>
<line x1="667.3" y1="696.9" x2="667.3" y2="691.7" stroke="#000" stroke-width="1"/>
<line x1="727.8" y1="696.9" x2="727.8" y2="691.7" stroke="#000" stroke-width="1"/>
<rect x="452.7" y="696.9" width="305.7" height="96.3" fill="none" stroke="#000" stroke-width="1.1"/>
<line x1="447.4" y1="710.0" x2="452.7" y2="710.0" stroke="#000" stroke-width="1"/>
<text class="ns" transform="translate(444.30,714.60) scale(0.940,1)" font-size="12.3" text-anchor="end" fill="#000"><tspan>0.06</tspan></text>
<line x1="447.4" y1="735.1" x2="452.7" y2="735.1" stroke="#000" stroke-width="1"/>
<text class="ns" transform="translate(444.30,739.70) scale(0.940,1)" font-size="12.3" text-anchor="end" fill="#000"><tspan>0.04</tspan></text>
<line x1="447.4" y1="760.7" x2="452.7" y2="760.7" stroke="#000" stroke-width="1"/>
<text class="ns" transform="translate(444.30,765.30) scale(0.940,1)" font-size="12.3" text-anchor="end" fill="#000"><tspan>0.02</tspan></text>
<line x1="447.4" y1="785.8" x2="452.7" y2="785.8" stroke="#000" stroke-width="1"/>
<text class="ns" transform="translate(444.30,790.40) scale(0.940,1)" font-size="12.3" text-anchor="end" fill="#000"><tspan>0.00</tspan></text>
<line x1="485.8" y1="793.2" x2="485.8" y2="798.6" stroke="#000" stroke-width="1"/>
<text class="ns" transform="translate(485.80,812.40) scale(0.940,1)" font-size="12.3" text-anchor="middle" fill="#000"><tspan>-96</tspan></text>
<line x1="546.3" y1="793.2" x2="546.3" y2="798.6" stroke="#000" stroke-width="1"/>
<text class="ns" transform="translate(546.30,812.40) scale(0.940,1)" font-size="12.3" text-anchor="middle" fill="#000"><tspan>-16</tspan></text>
<line x1="606.8" y1="793.2" x2="606.8" y2="798.6" stroke="#000" stroke-width="1"/>
<text class="ns" transform="translate(606.81,812.40) scale(0.940,1)" font-size="12.3" text-anchor="middle" fill="#000"><tspan>64</tspan></text>
<line x1="667.3" y1="793.2" x2="667.3" y2="798.6" stroke="#000" stroke-width="1"/>
<text class="ns" transform="translate(667.31,812.40) scale(0.940,1)" font-size="12.3" text-anchor="middle" fill="#000"><tspan>144</tspan></text>
<line x1="727.8" y1="793.2" x2="727.8" y2="798.6" stroke="#000" stroke-width="1"/>
<text class="ns" transform="translate(727.82,812.40) scale(0.940,1)" font-size="12.3" text-anchor="middle" fill="#000"><tspan>224</tspan></text>
<text transform="translate(58.50,15.20)" font-size="11.5" text-anchor="start" fill="#000"><tspan dy="-7.36" font-size="8.05">12</tspan><tspan dy="7.36">C and </tspan><tspan dy="-7.36" font-size="8.05">13</tspan><tspan dy="7.36">C Species</tspan></text>
<text transform="translate(363.50,15.20)" font-size="11.7" text-anchor="end" fill="#000"><tspan>Sgr B2(N)</tspan></text>
<text transform="translate(454.90,15.20)" font-size="11.5" text-anchor="start" fill="#000"><tspan dy="-7.36" font-size="8.05">12</tspan><tspan dy="7.36">C and </tspan><tspan dy="-7.36" font-size="8.05">13</tspan><tspan dy="7.36">C Species</tspan></text>
<text transform="translate(759.90,15.20)" font-size="11.7" text-anchor="end" fill="#000"><tspan>Sgr B2(N)</tspan></text>
<text transform="translate(9.60,415.50) rotate(-90)" font-size="12" text-anchor="start" fill="#000"><tspan>T</tspan><tspan dy="3.24" font-size="8.40">R</tspan><tspan dx="-3.03" dy="-7.80" font-size="8.40">*</tspan><tspan dy="4.56"> (K)</tspan></text>
<text transform="translate(406.20,412.50) rotate(-90)" font-size="12" text-anchor="start" fill="#000"><tspan>T</tspan><tspan dy="3.24" font-size="8.40">R</tspan><tspan dx="-3.03" dy="-7.80" font-size="8.40">*</tspan><tspan dy="4.56"> (K)</tspan></text>
<text transform="translate(181.30,830.00)" font-size="11.4" text-anchor="start" fill="#000"><tspan>V</tspan><tspan dy="3.42" font-size="8.89">LSR</tspan><tspan dy="-3.42"> (km/s)</tspan></text>
<text transform="translate(577.70,830.00)" font-size="11.4" text-anchor="start" fill="#000"><tspan>V</tspan><tspan dy="3.42" font-size="8.89">LSR</tspan><tspan dy="-3.42"> (km/s)</tspan></text>
<text transform="translate(61.70,35.20) scale(1.045,1)" font-size="10.6" text-anchor="start" font-weight="bold" fill="#000"><tspan>H</tspan><tspan dy="2.86" font-size="7.42">2</tspan><tspan dy="-2.86">CS</tspan></text>
<g transform="translate(61.70,50.40)"><text font-size="9.85" fill="#000"><tspan>3</tspan><tspan dy="2.66" font-size="6.89">1,2</tspan></text><path d="M18.31,-2.66 H27.67 M25.07,-4.26 L27.67,-2.66 L25.07,-1.06" fill="none" stroke="#000" stroke-width="0.8"/><text x="30.92" font-size="9.85" fill="#000"><tspan>2</tspan><tspan dy="2.66" font-size="6.89">1,1</tspan></text></g>
<text transform="translate(61.70,63.00)" font-size="9.85" text-anchor="start" fill="#000"><tspan>104617.0 MHz</tspan></text>
<text transform="translate(88.50,102.60)" font-size="9" text-anchor="start" fill="#000"><tspan>C</tspan><tspan dy="2.43" font-size="6.30">4</tspan><tspan dy="-2.43">H</tspan></text>
<text transform="translate(116.30,100.00) rotate(-90) scale(0.890,1)" font-size="9.2" text-anchor="start" fill="#000"><tspan>c-C</tspan><tspan dy="2.48" font-size="6.44">2</tspan><tspan dy="-2.48">H</tspan><tspan dy="2.48" font-size="6.44">4</tspan><tspan dy="-2.48">O</tspan></text>
<text transform="translate(165.20,103.00) rotate(-90) scale(0.890,1)" font-size="9.2" text-anchor="start" fill="#000"><tspan>CH</tspan><tspan dy="2.48" font-size="6.44">2</tspan><tspan dy="-2.48">CHCN v</tspan><tspan dy="2.48" font-size="6.44">15</tspan><tspan dy="-2.48"> = 1</tspan></text>
<text transform="translate(176.40,103.00) rotate(-90) scale(0.890,1)" font-size="9.2" text-anchor="start" fill="#000"><tspan>+ CH</tspan><tspan dy="2.48" font-size="6.44">3</tspan><tspan dy="-2.48">NCO</tspan></text>
<text transform="translate(238.00,100.30) rotate(-90) scale(0.890,1)" font-size="9.2" text-anchor="start" fill="#000"><tspan>CH</tspan><tspan dy="2.48" font-size="6.44">2</tspan><tspan dy="-2.48">CHCN v</tspan><tspan dy="2.48" font-size="6.44">15</tspan><tspan dy="-2.48"> = 1</tspan></text>
<text transform="translate(271.20,99.00) rotate(-90) scale(0.890,1)" font-size="9.2" text-anchor="start" fill="#000"><tspan>CH</tspan><tspan dy="2.48" font-size="6.44">2</tspan><tspan dy="-2.48">OHCHO</tspan></text>
<text transform="translate(283.00,95.70) rotate(-90) scale(0.890,1)" font-size="9.2" text-anchor="start" fill="#000"><tspan>CH</tspan><tspan dy="2.48" font-size="6.44">2</tspan><tspan dy="-2.48">CHCN</tspan></text>
<text transform="translate(323.10,101.70) rotate(-90) scale(0.890,1)" font-size="9.2" text-anchor="start" fill="#000"><tspan>CH</tspan><tspan dy="2.48" font-size="6.44">2</tspan><tspan dy="-2.48">CHCN v</tspan><tspan dy="2.48" font-size="6.44">15</tspan><tspan dy="-2.48"> = 1</tspan></text>
<text transform="translate(340.10,101.10) rotate(-90) scale(0.890,1)" font-size="9.2" text-anchor="start" fill="#000"><tspan>CH</tspan><tspan dy="2.48" font-size="6.44">2</tspan><tspan dy="-2.48">CHCN v</tspan><tspan dy="2.48" font-size="6.44">15</tspan><tspan dy="-2.48"> = 1</tspan></text>
<line x1="210.4" y1="110.0" x2="210.4" y2="103.0" stroke="#000" stroke-width="1"/>
<path d="M208.5,104.2 L210.4,99.0 L212.3,104.2 Z" fill="#000"/>
<text transform="translate(193.80,132.20) scale(1.045,1)" font-size="10.6" text-anchor="start" font-weight="bold" fill="#000"><tspan>H</tspan><tspan dy="2.86" font-size="7.42">2</tspan><tspan dx="-1.06" dy="-9.86" font-size="7.42">13</tspan><tspan dy="7.00">CS</tspan></text>
<g transform="translate(193.80,147.00)"><text font-size="9.85" fill="#000"><tspan>3</tspan><tspan dy="2.66" font-size="6.89">1,3</tspan></text><path d="M18.31,-2.66 H27.67 M25.07,-4.26 L27.67,-2.66 L25.07,-1.06" fill="none" stroke="#000" stroke-width="0.8"/><text x="30.92" font-size="9.85" fill="#000"><tspan>2</tspan><tspan dy="2.66" font-size="6.89">1,2</tspan></text></g>
<text transform="translate(193.80,159.20)" font-size="9.85" text-anchor="start" fill="#000"><tspan>97632.2 MHz</tspan></text>
<text transform="translate(67.30,166.50) rotate(-90) scale(0.890,1)" font-size="9.2" text-anchor="start" fill="#000"><tspan>CH</tspan><tspan dy="2.48" font-size="6.44">3</tspan><tspan dy="-2.48">CH</tspan><tspan dy="2.48" font-size="6.44">2</tspan><tspan dx="-0.92" dy="-5.98" font-size="6.44">13</tspan><tspan dy="3.50">CN</tspan></text>
<text transform="translate(78.00,146.10) rotate(-90) scale(0.890,1)" font-size="9.2" text-anchor="start" fill="#000"><tspan>+ H</tspan><tspan dy="2.48" font-size="6.44">s</tspan><tspan dx="-3.22" dy="-5.98" font-size="6.44">c</tspan></text>
<text transform="translate(92.10,135.90) scale(0.900,1)" font-size="9" text-anchor="start" fill="#000"><tspan>CH</tspan><tspan dy="2.43" font-size="6.30">3</tspan><tspan dy="-2.43">OH</tspan></text>
<text transform="translate(124.50,185.90) rotate(-90) scale(0.890,1)" font-size="9.2" text-anchor="start" fill="#000"><tspan>CH</tspan><tspan dy="2.48" font-size="6.44">3</tspan><tspan dx="-0.92" dy="-5.98" font-size="6.44">13</tspan><tspan dy="3.50">CH</tspan><tspan dy="2.48" font-size="6.44">2</tspan><tspan dy="-2.48">CN</tspan></text>
<text transform="translate(147.00,189.00) rotate(-90) scale(0.890,1)" font-size="9.2" text-anchor="start" fill="#000"><tspan>HCOOCH</tspan><tspan dy="2.48" font-size="6.44">3</tspan></text>
<text transform="translate(162.40,168.70) rotate(-90) scale(0.890,1)" font-size="9.2" text-anchor="start" fill="#000"><tspan>CH</tspan><tspan dy="2.48" font-size="6.44">3</tspan><tspan dy="-2.48">CH</tspan><tspan dy="2.48" font-size="6.44">2</tspan><tspan dy="-2.48">OH</tspan></text>
<text transform="translate(183.00,159.60) rotate(-90) scale(0.890,1)" font-size="9.2" text-anchor="start" fill="#000"><tspan>(CH</tspan><tspan dy="2.48" font-size="6.44">2</tspan><tspan dy="-2.48">OH)</tspan><tspan dy="2.48" font-size="6.44">2</tspan></text>
<text transform="translate(230.50,183.50) scale(0.900,1)" font-size="9" text-anchor="middle" fill="#000"><tspan>U</tspan></text>
<text transform="translate(241.60,180.90) scale(0.900,1)" font-size="9" text-anchor="middle" fill="#000"><tspan>U</tspan></text>
<text transform="translate(276.50,175.80) rotate(-90) scale(0.890,1)" font-size="9.2" text-anchor="start" fill="#000"><tspan>HCOOCH</tspan><tspan dy="2.48" font-size="6.44">3</tspan></text>
<text transform="translate(276.90,130.20) scale(0.900,1)" font-size="9" text-anchor="start" fill="#000"><tspan>CH</tspan><tspan dy="2.43" font-size="6.30">3</tspan><tspan dy="-2.43">OH</tspan></text>
<text transform="translate(356.50,172.80) rotate(-90) scale(0.890,1)" font-size="9.2" text-anchor="start" fill="#000"><tspan>CH</tspan><tspan dy="2.48" font-size="6.44">3</tspan><tspan dy="-2.48">CH</tspan><tspan dy="2.48" font-size="6.44">2</tspan><tspan dy="-2.48">OH</tspan></text>
<line x1="211.0" y1="206.0" x2="211.0" y2="199.0" stroke="#000" stroke-width="1"/>
<path d="M209.1,200.2 L211.0,195.0 L212.9,200.2 Z" fill="#000"/>
<text transform="translate(64.60,273.80) rotate(-90) scale(0.890,1)" font-size="9.2" text-anchor="start" fill="#000"><tspan>HCOOCH</tspan><tspan dy="2.48" font-size="6.44">3</tspan></text>
<text transform="translate(89.70,257.60) rotate(-90) scale(0.890,1)" font-size="9.2" text-anchor="start" fill="#000"><tspan>HCOOCH</tspan><tspan dy="2.48" font-size="6.44">3</tspan></text>
<text transform="translate(103.80,257.60) rotate(-90) scale(0.890,1)" font-size="9.2" text-anchor="start" fill="#000"><tspan>+ </tspan><tspan dy="-3.50" font-size="6.44">34</tspan><tspan dy="3.50">SO</tspan><tspan dy="2.48" font-size="6.44">2</tspan></text>
<text transform="translate(141.10,227.20) scale(0.900,1)" font-size="9" text-anchor="start" fill="#000"><tspan>CH</tspan><tspan dy="2.43" font-size="6.30">3</tspan><tspan dy="-2.43">CH</tspan><tspan dy="2.43" font-size="6.30">2</tspan><tspan dy="-2.43">CN</tspan></text>
<text transform="translate(141.10,238.30) scale(0.900,1)" font-size="9" text-anchor="start" fill="#000"><tspan>v</tspan><tspan dy="2.43" font-size="6.30">13</tspan><tspan dy="-2.43">,v</tspan><tspan dy="2.43" font-size="6.30">21</tspan><tspan dy="-2.43"> = 1</tspan></text>
<text transform="translate(159.60,286.00) rotate(-90) scale(0.890,1)" font-size="9.2" text-anchor="start" fill="#000"><tspan>HCOOCH</tspan><tspan dy="2.48" font-size="6.44">3</tspan></text>
<text transform="translate(211.00,233.30) scale(0.900,1)" font-size="9" text-anchor="start" fill="#000"><tspan>CH</tspan><tspan dy="2.43" font-size="6.30">3</tspan><tspan dy="-2.43">CH</tspan><tspan dy="2.43" font-size="6.30">2</tspan><tspan dy="-2.43">CN</tspan></text>
<text transform="translate(211.00,244.40) scale(0.900,1)" font-size="9" text-anchor="start" fill="#000"><tspan>+ CH</tspan><tspan dy="2.43" font-size="6.30">3</tspan><tspan dy="-2.43">CONH</tspan><tspan dy="2.43" font-size="6.30">2</tspan></text>
<text transform="translate(279.90,229.20) scale(1.045,1)" font-size="10.6" text-anchor="start" font-weight="bold" fill="#000"><tspan>H</tspan><tspan dy="2.86" font-size="7.42">2</tspan><tspan dx="-1.06" dy="-9.86" font-size="7.42">13</tspan><tspan dy="7.00">CS</tspan></text>
<g transform="translate(279.90,244.40)"><text font-size="9.85" fill="#000"><tspan>5</tspan><tspan dy="2.66" font-size="6.89">1,5</tspan></text><path d="M18.31,-2.66 H27.67 M25.07,-4.26 L27.67,-2.66 L25.07,-1.06" fill="none" stroke="#000" stroke-width="0.8"/><text x="30.92" font-size="9.85" fill="#000"><tspan>4</tspan><tspan dy="2.66" font-size="6.89">1,4</tspan></text></g>
<text transform="translate(279.90,256.20)" font-size="9.85" text-anchor="start" fill="#000"><tspan>162706.6 MHz</tspan></text>
<text transform="translate(263.70,264.70) scale(0.900,1)" font-size="9" text-anchor="middle" fill="#000"><tspan>NS</tspan></text>
<text transform="translate(290.20,269.10) scale(0.900,1)" font-size="9" text-anchor="middle" fill="#000"><tspan>NS</tspan></text>
<text transform="translate(314.10,288.00) scale(0.900,1)" font-size="9" text-anchor="middle" fill="#000"><tspan>NS</tspan></text>
<text transform="translate(328.00,281.90) scale(0.900,1)" font-size="9" text-anchor="middle" fill="#000"><tspan>U</tspan></text>
<text transform="translate(356.10,275.80) rotate(-90) scale(0.890,1)" font-size="9.2" text-anchor="start" fill="#000"><tspan>HCOOCH</tspan><tspan dy="2.48" font-size="6.44">3</tspan></text>
<line x1="210.4" y1="302.0" x2="210.4" y2="295.0" stroke="#000" stroke-width="1"/>
<path d="M208.5,296.2 L210.4,291.0 L212.3,296.2 Z" fill="#000"/>
<text transform="translate(81.60,365.70) rotate(-90) scale(0.890,1)" font-size="9.2" text-anchor="start" fill="#000"><tspan>CH</tspan><tspan dy="2.48" font-size="6.44">3</tspan><tspan dy="-2.48">CHO +</tspan></text>
<text transform="translate(92.70,365.70) rotate(-90) scale(0.890,1)" font-size="9.2" text-anchor="start" fill="#000"><tspan>CH</tspan><tspan dy="2.48" font-size="6.44">2</tspan><tspan dy="-2.48">CHCN</tspan></text>
<text transform="translate(125.20,377.90) rotate(-90) scale(0.890,1)" font-size="9.2" text-anchor="start" fill="#000"><tspan>(CH</tspan><tspan dy="2.48" font-size="6.44">2</tspan><tspan dy="-2.48">OH)</tspan><tspan dy="2.48" font-size="6.44">2</tspan></text>
<text transform="translate(134.00,326.20) scale(0.900,1)" font-size="9" text-anchor="start" fill="#000"><tspan>HCOOCH</tspan><tspan dy="2.43" font-size="6.30">3</tspan><tspan dy="-2.43"> +</tspan></text>
<text transform="translate(134.00,337.40) scale(0.900,1)" font-size="9" text-anchor="start" fill="#000"><tspan>c-C</tspan><tspan dy="2.43" font-size="6.30">2</tspan><tspan dy="-2.43">H</tspan><tspan dy="2.43" font-size="6.30">3</tspan><tspan dy="-2.43">O</tspan></text>
<text transform="translate(172.80,375.90) rotate(-90) scale(0.890,1)" font-size="9.2" text-anchor="start" fill="#000"><tspan>CH</tspan><tspan dy="2.48" font-size="6.44">3</tspan><tspan dy="-2.48">CH</tspan><tspan dy="2.48" font-size="6.44">2</tspan><tspan dy="-2.48">OH</tspan></text>
<text transform="translate(190.20,375.90) scale(0.900,1)" font-size="9" text-anchor="middle" fill="#000"><tspan>U</tspan></text>
<text transform="translate(214.10,324.20) scale(0.900,1)" font-size="9" text-anchor="start" fill="#000"><tspan>(CH</tspan><tspan dy="2.43" font-size="6.30">2</tspan><tspan dy="-2.43">OH)</tspan><tspan dy="2.43" font-size="6.30">2</tspan><tspan dy="-2.43"> +</tspan></text>
<text transform="translate(214.10,336.40) scale(0.900,1)" font-size="9" text-anchor="start" fill="#000"><tspan dy="-4.95" font-size="6.30">13</tspan><tspan dy="4.95">CH</tspan><tspan dy="2.43" font-size="6.30">3</tspan><tspan dy="-2.43">CH</tspan><tspan dy="2.43" font-size="6.30">2</tspan><tspan dy="-2.43">CN</tspan></text>
<text transform="translate(270.00,357.60) rotate(-90) scale(0.890,1)" font-size="9.2" text-anchor="start" fill="#000"><tspan>CH</tspan><tspan dy="2.48" font-size="6.44">3</tspan><tspan dy="-2.48">CH</tspan><tspan dy="2.48" font-size="6.44">2</tspan><tspan dy="-2.48">OH</tspan></text>
<text transform="translate(280.80,357.00) rotate(-90) scale(0.890,1)" font-size="9.2" text-anchor="start" fill="#000"><tspan>+ U</tspan></text>
<text transform="translate(295.10,320.10) scale(1.045,1)" font-size="10.6" text-anchor="start" font-weight="bold" fill="#000"><tspan>NH</tspan><tspan dy="2.86" font-size="7.42">2</tspan><tspan dy="-2.86">CHO</tspan></text>
<g transform="translate(295.10,335.30)"><text font-size="9.85" fill="#000"><tspan>12</tspan><tspan dy="2.66" font-size="6.89">1,11</tspan></text><path d="M27.12,-2.66 H36.47 M33.87,-4.26 L36.47,-2.66 L33.87,-1.06" fill="none" stroke="#000" stroke-width="0.8"/><text x="39.72" font-size="9.85" fill="#000"><tspan>12</tspan><tspan dy="2.66" font-size="6.89">0,12</tspan></text></g>
<text transform="translate(295.10,347.50)" font-size="9.85" text-anchor="start" fill="#000"><tspan>140587.5 MHz</tspan></text>
<text transform="translate(295.50,364.70) scale(0.900,1)" font-size="9" text-anchor="start" fill="#000"><tspan>CH</tspan><tspan dy="2.43" font-size="6.30">3</tspan><tspan dy="-2.43">CH</tspan><tspan dy="2.43" font-size="6.30">2</tspan><tspan dy="-2.43">OH</tspan></text>
<text transform="translate(304.10,383.60) scale(0.900,1)" font-size="9" text-anchor="middle" fill="#000"><tspan>U</tspan></text>
<text transform="translate(323.50,384.40) scale(0.900,1)" font-size="9" text-anchor="middle" fill="#000"><tspan>U</tspan></text>
<line x1="210.4" y1="400.0" x2="210.4" y2="393.0" stroke="#000" stroke-width="1"/>
<path d="M208.5,394.2 L210.4,389.0 L212.3,394.2 Z" fill="#000"/>
<text transform="translate(78.60,453.60) rotate(-90) scale(0.890,1)" font-size="9.2" text-anchor="start" fill="#000"><tspan>H</tspan><tspan dy="2.48" font-size="6.44">2</tspan><tspan dy="-2.48">CS</tspan></text>
<text transform="translate(103.50,454.70) rotate(-90) scale(0.890,1)" font-size="9.2" text-anchor="start" fill="#000"><tspan>CH</tspan><tspan dy="2.48" font-size="6.44">3</tspan><tspan dy="-2.48">COCH</tspan><tspan dy="2.48" font-size="6.44">3</tspan></text>
<text transform="translate(111.40,475.90) scale(0.900,1)" font-size="9" text-anchor="middle" fill="#000"><tspan>U</tspan></text>
<text transform="translate(125.80,478.00) rotate(-90) scale(0.890,1)" font-size="9.2" text-anchor="start" fill="#000"><tspan>CH</tspan><tspan dy="2.48" font-size="6.44">3</tspan><tspan dy="-2.48">CONH</tspan><tspan dy="2.48" font-size="6.44">2</tspan></text>
<text transform="translate(139.00,452.60) rotate(-90) scale(0.890,1)" font-size="9.2" text-anchor="start" fill="#000"><tspan>CH</tspan><tspan dy="2.48" font-size="6.44">3</tspan><tspan dy="-2.48">COCH</tspan><tspan dy="2.48" font-size="6.44">3</tspan></text>
<text transform="translate(148.20,437.40) scale(0.900,1)" font-size="9" text-anchor="start" fill="#000"><tspan>CH</tspan><tspan dy="2.43" font-size="6.30">3</tspan><tspan dy="-2.43">OH</tspan></text>
<text transform="translate(189.10,472.90) rotate(-90) scale(0.890,1)" font-size="9.2" text-anchor="start" fill="#000"><tspan>CH</tspan><tspan dy="2.48" font-size="6.44">3</tspan><tspan dy="-2.48">COCH</tspan><tspan dy="2.48" font-size="6.44">3</tspan></text>
<text transform="translate(196.80,420.60) scale(1.045,1)" font-size="10.6" text-anchor="start" font-weight="bold" fill="#000"><tspan>NH</tspan><tspan dy="2.86" font-size="7.42">2</tspan><tspan dx="-1.06" dy="-9.86" font-size="7.42">13</tspan><tspan dy="7.00">CHO</tspan></text>
<g transform="translate(196.30,437.40)"><text font-size="9.85" fill="#000"><tspan>8</tspan><tspan dy="2.66" font-size="6.89">2,7</tspan></text><path d="M18.31,-2.66 H27.67 M25.07,-4.26 L27.67,-2.66 L25.07,-1.06" fill="none" stroke="#000" stroke-width="0.8"/><text x="30.92" font-size="9.85" fill="#000"><tspan>7</tspan><tspan dy="2.66" font-size="6.89">2,6</tspan></text></g>
<text transform="translate(196.30,448.60)" font-size="9.85" text-anchor="start" fill="#000"><tspan>169011.1 MHz</tspan></text>
<text transform="translate(255.60,418.60) scale(0.900,1)" font-size="9" text-anchor="start" fill="#000"><tspan>CH</tspan><tspan dy="2.43" font-size="6.30">3</tspan><tspan dy="-2.43">CH</tspan><tspan dy="2.43" font-size="6.30">2</tspan><tspan dy="-2.43">CN</tspan></text>
<text transform="translate(255.60,431.40) scale(0.900,1)" font-size="9" text-anchor="start" fill="#000"><tspan>+ (CH</tspan><tspan dy="2.43" font-size="6.30">2</tspan><tspan dy="-2.43">OH)</tspan><tspan dy="2.43" font-size="6.30">2</tspan></text>
<text transform="translate(255.60,442.50) scale(0.900,1)" font-size="9" text-anchor="start" fill="#000"><tspan>+ CH</tspan><tspan dy="2.43" font-size="6.30">2</tspan><tspan dy="-2.43">OHCHO</tspan></text>
<text transform="translate(242.20,465.20) scale(0.900,1)" font-size="9" text-anchor="middle" fill="#000"><tspan>U</tspan></text>
<text transform="translate(251.60,465.80) scale(0.900,1)" font-size="9" text-anchor="middle" fill="#000"><tspan>U</tspan></text>
<text transform="translate(314.70,459.10) rotate(-90) scale(0.890,1)" font-size="9.2" text-anchor="start" fill="#000"><tspan>CH</tspan><tspan dy="2.48" font-size="6.44">3</tspan><tspan dy="-2.48">CH</tspan><tspan dy="2.48" font-size="6.44">2</tspan><tspan dy="-2.48">CN</tspan></text>
<text transform="translate(325.90,459.10) rotate(-90) scale(0.890,1)" font-size="9.2" text-anchor="start" fill="#000"><tspan>+ HCOOCH</tspan><tspan dy="2.48" font-size="6.44">3</tspan></text>
<text transform="translate(351.70,469.90) rotate(-90) scale(0.890,1)" font-size="9.2" text-anchor="start" fill="#000"><tspan>HCOOCH</tspan><tspan dy="2.48" font-size="6.44">3</tspan></text>
<line x1="210.4" y1="497.0" x2="210.4" y2="490.0" stroke="#000" stroke-width="1"/>
<path d="M208.5,491.2 L210.4,486.0 L212.3,491.2 Z" fill="#000"/>
<text transform="translate(61.10,517.20) scale(1.045,1)" font-size="10.6" text-anchor="start" font-weight="bold" fill="#000"><tspan>CH</tspan><tspan dy="2.86" font-size="7.42">3</tspan><tspan dy="-2.86">CCH</tspan></text>
<g transform="translate(61.10,530.40)"><text font-size="9.85" fill="#000"><tspan>6</tspan></text><path d="M8.73,-2.66 H18.09 M15.49,-4.26 L18.09,-2.66 L15.49,-1.06" fill="none" stroke="#000" stroke-width="0.8"/><text x="21.34" font-size="9.85" fill="#000"><tspan>5: K = 0-4</tspan></text></g>
<text transform="translate(61.10,541.50)" font-size="9.85" text-anchor="start" fill="#000"><tspan>102548.0 MHz</tspan></text>
<text transform="translate(148.20,586.10) scale(0.900,1)" font-size="8" text-anchor="start" fill="#000"><tspan>H66ε</tspan></text>
<text transform="translate(177.40,579.00) rotate(-90) scale(0.890,1)" font-size="9.2" text-anchor="start" fill="#000"><tspan>CH</tspan><tspan dy="2.48" font-size="6.44">3</tspan><tspan dy="-2.48">COCH</tspan><tspan dy="2.48" font-size="6.44">3</tspan></text>
<text transform="translate(187.90,579.00) rotate(-90) scale(0.890,1)" font-size="9.2" text-anchor="start" fill="#000"><tspan>+ CH</tspan><tspan dy="2.48" font-size="6.44">3</tspan><tspan dy="-2.48">CH</tspan><tspan dy="2.48" font-size="6.44">2</tspan><tspan dy="-2.48">OH</tspan></text>
<text transform="translate(218.50,515.40)" font-size="9.85" text-anchor="start" fill="#000"><tspan>K = 0</tspan></text>
<text transform="translate(221.70,533.30)" font-size="9.85" text-anchor="start" fill="#000"><tspan>1</tspan></text>
<text transform="translate(228.20,556.00)" font-size="9.85" text-anchor="start" fill="#000"><tspan>2</tspan></text>
<text transform="translate(246.60,562.40)" font-size="9.85" text-anchor="start" fill="#000"><tspan>3</tspan></text>
<text transform="translate(276.80,586.60)" font-size="9.85" text-anchor="start" fill="#000"><tspan>4</tspan></text>
<text transform="translate(309.50,585.10) rotate(-90) scale(0.890,1)" font-size="9.2" text-anchor="start" fill="#000"><tspan>CH</tspan><tspan dy="2.48" font-size="6.44">3</tspan><tspan dx="-0.92" dy="-5.98" font-size="6.44">13</tspan><tspan dy="3.50">CCH</tspan></text>
<text transform="translate(321.40,585.10) rotate(-90) scale(0.890,1)" font-size="9.2" text-anchor="start" fill="#000"><tspan>+ HCOOCH</tspan><tspan dy="2.48" font-size="6.44">3</tspan></text>
<text transform="translate(342.50,584.00) rotate(-90) scale(0.890,1)" font-size="9.2" text-anchor="start" fill="#000"><tspan>CH</tspan><tspan dy="2.48" font-size="6.44">3</tspan><tspan dy="-2.48">CH</tspan><tspan dy="2.48" font-size="6.44">2</tspan><tspan dy="-2.48">OH</tspan></text>
<line x1="210.5" y1="592.8" x2="210.5" y2="585.8" stroke="#000" stroke-width="1"/>
<path d="M208.6,587.0 L210.5,581.8 L212.4,587.0 Z" fill="#000"/>
<line x1="214.8" y1="592.8" x2="214.8" y2="585.8" stroke="#000" stroke-width="1"/>
<path d="M212.9,587.0 L214.8,581.8 L216.7,587.0 Z" fill="#000"/>
<line x1="225.6" y1="592.8" x2="225.6" y2="585.8" stroke="#000" stroke-width="1"/>
<path d="M223.7,587.0 L225.6,581.8 L227.5,587.0 Z" fill="#000"/>
<line x1="249.8" y1="592.8" x2="249.8" y2="585.8" stroke="#000" stroke-width="1"/>
<path d="M247.9,587.0 L249.8,581.8 L251.7,587.0 Z" fill="#000"/>
<text transform="translate(124.90,614.60) scale(1.045,1)" font-size="10.6" text-anchor="start" font-weight="bold" fill="#000"><tspan dy="-7.00" font-size="7.42">13</tspan><tspan dy="7.00">CH</tspan><tspan dy="2.86" font-size="7.42">3</tspan><tspan dy="-2.86">CCH</tspan></text>
<g transform="translate(123.90,628.80)"><text font-size="9.85" fill="#000"><tspan>4</tspan></text><path d="M8.73,-2.66 H18.09 M15.49,-4.26 L18.09,-2.66 L15.49,-1.06" fill="none" stroke="#000" stroke-width="0.8"/><text x="21.34" font-size="9.85" fill="#000"><tspan>3: K = 0-3</tspan></text></g>
<text transform="translate(123.90,640.10)" font-size="9.85" text-anchor="start" fill="#000"><tspan>83131.1 MHz</tspan></text>
<text transform="translate(63.70,644.20) scale(0.880,1)" font-size="9" text-anchor="start" fill="#000"><tspan dy="-4.95" font-size="6.30">13</tspan><tspan dy="4.95">CH</tspan><tspan dy="2.43" font-size="6.30">2</tspan><tspan dy="-2.43">CHCN</tspan></text>
<text transform="translate(122.90,667.90) scale(0.900,1)" font-size="9" text-anchor="middle" fill="#000"><tspan>U</tspan></text>
<text transform="translate(193.80,644.40)" font-size="9.85" text-anchor="start" fill="#000"><tspan>K = 0</tspan></text>
<text transform="translate(219.60,652.00)" font-size="9.85" text-anchor="start" fill="#000"><tspan>1</tspan></text>
<text transform="translate(227.10,669.20)" font-size="9.85" text-anchor="start" fill="#000"><tspan>2</tspan></text>
<text transform="translate(254.50,674.60)" font-size="9.85" text-anchor="start" fill="#000"><tspan>3</tspan></text>
<text transform="translate(322.80,654.50) rotate(-90) scale(0.890,1)" font-size="9.2" text-anchor="start" fill="#000"><tspan>(CH</tspan><tspan dy="2.48" font-size="6.44">3</tspan><tspan dy="-2.48">)</tspan><tspan dy="2.48" font-size="6.44">2</tspan><tspan dy="-2.48">O</tspan></text>
<line x1="210.5" y1="689.9" x2="210.5" y2="682.9" stroke="#000" stroke-width="1"/>
<path d="M208.6,684.1 L210.5,678.9 L212.4,684.1 Z" fill="#000"/>
<line x1="215.3" y1="689.9" x2="215.3" y2="682.9" stroke="#000" stroke-width="1"/>
<path d="M213.4,684.1 L215.3,678.9 L217.2,684.1 Z" fill="#000"/>
<line x1="225.6" y1="689.9" x2="225.6" y2="682.9" stroke="#000" stroke-width="1"/>
<path d="M223.7,684.1 L225.6,678.9 L227.5,684.1 Z" fill="#000"/>
<line x1="249.8" y1="689.9" x2="249.8" y2="682.9" stroke="#000" stroke-width="1"/>
<path d="M247.9,684.1 L249.8,678.9 L251.7,684.1 Z" fill="#000"/>
<text transform="translate(68.00,762.90) rotate(-90) scale(0.890,1)" font-size="9.2" text-anchor="start" fill="#000"><tspan>CH</tspan><tspan dy="2.48" font-size="6.44">3</tspan><tspan dy="-2.48">COCH</tspan><tspan dy="2.48" font-size="6.44">3</tspan></text>
<text transform="translate(82.60,760.90) rotate(-90) scale(0.890,1)" font-size="9.2" text-anchor="start" fill="#000"><tspan>CH</tspan><tspan dy="2.48" font-size="6.44">3</tspan><tspan dy="-2.48">CH</tspan><tspan dy="2.48" font-size="6.44">2</tspan><tspan dy="-2.48">OH</tspan></text>
<text transform="translate(95.60,757.40) scale(0.900,1)" font-size="9" text-anchor="middle" fill="#000"><tspan>U</tspan></text>
<text transform="translate(102.80,743.60) rotate(-90) scale(0.890,1)" font-size="9.2" text-anchor="start" fill="#000"><tspan>CH</tspan><tspan dy="2.48" font-size="6.44">3</tspan><tspan dy="-2.48">CH</tspan><tspan dy="2.48" font-size="6.44">2</tspan><tspan dy="-2.48">OH</tspan></text>
<text transform="translate(128.50,750.10) scale(0.900,1)" font-size="9" text-anchor="middle" fill="#000"><tspan>U</tspan></text>
<text transform="translate(151.40,742.60) rotate(-90) scale(0.890,1)" font-size="9.2" text-anchor="start" fill="#000"><tspan>(CH</tspan><tspan dy="2.48" font-size="6.44">2</tspan><tspan dy="-2.48">OH)</tspan><tspan dy="2.48" font-size="6.44">2</tspan></text>
<text transform="translate(175.60,755.40) scale(0.900,1)" font-size="9" text-anchor="middle" fill="#000"><tspan>U</tspan></text>
<text transform="translate(182.90,736.50) rotate(-90) scale(0.890,1)" font-size="9.2" text-anchor="start" fill="#000"><tspan>HCOOCH</tspan><tspan dy="2.48" font-size="6.44">3</tspan></text>
<text transform="translate(207.70,725.20)" font-size="9.85" text-anchor="start" fill="#000"><tspan>K = 0</tspan></text>
<text transform="translate(219.60,742.90)" font-size="9.85" text-anchor="start" fill="#000"><tspan>1</tspan></text>
<text transform="translate(227.80,752.20)" font-size="9.85" text-anchor="start" fill="#000"><tspan>2</tspan></text>
<text transform="translate(248.70,753.30)" font-size="9.85" text-anchor="start" fill="#000"><tspan>3</tspan></text>
<text transform="translate(271.90,758.70) scale(0.900,1)" font-size="9" text-anchor="middle" fill="#000"><tspan>U</tspan></text>
<text transform="translate(280.00,774.80)" font-size="9.85" text-anchor="start" fill="#000"><tspan>4</tspan></text>
<text transform="translate(285.40,754.30) scale(0.900,1)" font-size="9" text-anchor="start" fill="#000"><tspan>CH</tspan><tspan dy="2.43" font-size="6.30">3</tspan><tspan dy="-2.43">CH</tspan><tspan dy="2.43" font-size="6.30">2</tspan><tspan dy="-2.43">OH</tspan></text>
<text transform="translate(263.80,712.30) scale(1.045,1)" font-size="10.6" text-anchor="start" font-weight="bold" fill="#000"><tspan>CH</tspan><tspan dy="2.86" font-size="7.42">3</tspan><tspan dy="-2.86">C</tspan><tspan dy="-7.00" font-size="7.42">13</tspan><tspan dy="7.00">CH</tspan></text>
<g transform="translate(263.80,726.30)"><text font-size="9.85" fill="#000"><tspan>6</tspan></text><path d="M8.73,-2.66 H18.09 M15.49,-4.26 L18.09,-2.66 L15.49,-1.06" fill="none" stroke="#000" stroke-width="0.8"/><text x="21.34" font-size="9.85" fill="#000"><tspan>5: K = 0-4</tspan></text></g>
<text transform="translate(263.80,737.70)" font-size="9.85" text-anchor="start" fill="#000"><tspan>99480.5 MHz</tspan></text>
<text transform="translate(347.30,745.70) rotate(-90) scale(0.890,1)" font-size="9.2" text-anchor="start" fill="#000"><tspan>CH</tspan><tspan dy="2.48" font-size="6.44">3</tspan><tspan dy="-2.48">COCH</tspan><tspan dy="2.48" font-size="6.44">3</tspan></text>
<line x1="210.6" y1="788.9" x2="210.6" y2="781.9" stroke="#000" stroke-width="1"/>
<path d="M208.7,783.1 L210.6,777.9 L212.5,783.1 Z" fill="#000"/>
<line x1="215.3" y1="788.9" x2="215.3" y2="781.9" stroke="#000" stroke-width="1"/>
<path d="M213.4,783.1 L215.3,777.9 L217.2,783.1 Z" fill="#000"/>
<line x1="225.9" y1="788.9" x2="225.9" y2="781.9" stroke="#000" stroke-width="1"/>
<path d="M224.0,783.1 L225.9,777.9 L227.8,783.1 Z" fill="#000"/>
<line x1="249.8" y1="788.9" x2="249.8" y2="781.9" stroke="#000" stroke-width="1"/>
<path d="M247.9,783.1 L249.8,777.9 L251.7,783.1 Z" fill="#000"/>
<text transform="translate(456.50,31.20) scale(1.045,1)" font-size="10.6" text-anchor="start" font-weight="bold" fill="#000"><tspan>CH</tspan><tspan dy="2.86" font-size="7.42">2</tspan><tspan dy="-2.86">CHCN</tspan></text>
<text transform="translate(456.50,44.30)" font-size="9.85" text-anchor="start" fill="#000"><tspan>94942.2 MHz</tspan></text>
<text transform="translate(465.80,95.00) rotate(-90) scale(0.890,1)" font-size="9.2" text-anchor="start" fill="#000"><tspan>CH</tspan><tspan dy="2.48" font-size="6.44">3</tspan><tspan dy="-2.48">CH</tspan><tspan dy="2.48" font-size="6.44">2</tspan><tspan dy="-2.48">OH</tspan></text>
<g transform="translate(471.30,84.90) scale(0.900,1)"><text font-size="9" fill="#000"><tspan>10</tspan><tspan dy="2.43" font-size="6.30">9,•</tspan></text><path d="M20.44,-2.43 H28.99 M26.39,-4.03 L28.99,-2.43 L26.39,-0.83" fill="none" stroke="#000" stroke-width="0.8"/><text x="31.96" font-size="9" fill="#000"><tspan>9</tspan><tspan dy="2.43" font-size="6.30">9,•</tspan></text></g>
<text transform="translate(521.50,99.10) rotate(-90) scale(0.890,1)" font-size="9.2" text-anchor="start" fill="#000"><tspan>CH</tspan><tspan dy="2.48" font-size="6.44">3</tspan><tspan dy="-2.48">CH</tspan><tspan dy="2.48" font-size="6.44">2</tspan><tspan dx="-0.92" dy="-5.98" font-size="6.44">13</tspan><tspan dy="3.50">CN</tspan></text>
<g transform="translate(534.10,77.80) scale(0.900,1)"><text font-size="9" fill="#000"><tspan>10</tspan><tspan dy="2.43" font-size="6.30">8,•</tspan></text><path d="M20.44,-2.43 H28.99 M26.39,-4.03 L28.99,-2.43 L26.39,-0.83" fill="none" stroke="#000" stroke-width="0.8"/><text x="31.96" font-size="9" fill="#000"><tspan>9</tspan><tspan dy="2.43" font-size="6.30">8,•</tspan></text></g>
<g transform="translate(558.00,48.20) scale(0.900,1)"><text font-size="9" fill="#000"><tspan>10</tspan><tspan dy="2.43" font-size="6.30">3,7</tspan></text><path d="M21.74,-2.43 H30.29 M27.69,-4.03 L30.29,-2.43 L27.69,-0.83" fill="none" stroke="#000" stroke-width="0.8"/><text x="33.26" font-size="9" fill="#000"><tspan>9</tspan><tspan dy="2.43" font-size="6.30">3,6</tspan></text></g>
<g transform="translate(558.00,59.40) scale(0.900,1)"><text font-size="9" fill="#000"><tspan>10</tspan><tspan dy="2.43" font-size="6.30">7,•</tspan></text><path d="M20.44,-2.43 H28.99 M26.39,-4.03 L28.99,-2.43 L26.39,-0.83" fill="none" stroke="#000" stroke-width="0.8"/><text x="31.96" font-size="9" fill="#000"><tspan>9</tspan><tspan dy="2.43" font-size="6.30">7,•</tspan></text></g>
<g transform="translate(602.10,31.60) scale(0.900,1)"><text font-size="9" fill="#000"><tspan>10</tspan><tspan dy="2.43" font-size="6.30">3,8</tspan></text><path d="M21.74,-2.43 H30.29 M27.69,-4.03 L30.29,-2.43 L27.69,-0.83" fill="none" stroke="#000" stroke-width="0.8"/><text x="33.26" font-size="9" fill="#000"><tspan>9</tspan><tspan dy="2.43" font-size="6.30">3,7</tspan></text></g>
<g transform="translate(602.10,43.20) scale(0.900,1)"><text font-size="9" fill="#000"><tspan>10</tspan><tspan dy="2.43" font-size="6.30">6,•</tspan></text><path d="M20.44,-2.43 H28.99 M26.39,-4.03 L28.99,-2.43 L26.39,-0.83" fill="none" stroke="#000" stroke-width="0.8"/><text x="31.96" font-size="9" fill="#000"><tspan>9</tspan><tspan dy="2.43" font-size="6.30">6,•</tspan></text></g>
<text transform="translate(655.10,102.10) rotate(-90) scale(0.890,1)" font-size="9.2" text-anchor="start" fill="#000"><tspan>OC</tspan><tspan dy="-3.50" font-size="6.44">34</tspan><tspan dy="3.50">S</tspan></text>
<g transform="translate(680.00,34.20) scale(0.900,1)"><text font-size="9" fill="#000"><tspan>10</tspan><tspan dy="2.43" font-size="6.30">4,•</tspan></text><path d="M20.44,-2.43 H28.99 M26.39,-4.03 L28.99,-2.43 L26.39,-0.83" fill="none" stroke="#000" stroke-width="0.8"/><text x="31.96" font-size="9" fill="#000"><tspan>9</tspan><tspan dy="2.43" font-size="6.30">4,•</tspan></text></g>
<g transform="translate(680.00,46.40) scale(0.900,1)"><text font-size="9" fill="#000"><tspan>10</tspan><tspan dy="2.43" font-size="6.30">5,•</tspan></text><path d="M20.44,-2.43 H28.99 M26.39,-4.03 L28.99,-2.43 L26.39,-0.83" fill="none" stroke="#000" stroke-width="0.8"/><text x="31.96" font-size="9" fill="#000"><tspan>9</tspan><tspan dy="2.43" font-size="6.30">5,•</tspan></text></g>
<text transform="translate(713.50,101.10) rotate(-90) scale(0.890,1)" font-size="9.2" text-anchor="start" fill="#000"><tspan>CH</tspan><tspan dy="2.48" font-size="6.44">2</tspan><tspan dy="-2.48">CH</tspan><tspan dy="-3.50" font-size="6.44">13</tspan><tspan dy="3.50">CN</tspan></text>
<text transform="translate(738.90,96.00) rotate(-90) scale(0.890,1)" font-size="9.2" text-anchor="start" fill="#000"><tspan>CH</tspan><tspan dy="2.48" font-size="6.44">2</tspan><tspan dy="-2.48">CHCN v</tspan><tspan dy="2.48" font-size="6.44">15</tspan><tspan dy="-2.48"> = 1</tspan></text>
<text transform="translate(750.50,98.00) rotate(-90) scale(0.890,1)" font-size="9.2" text-anchor="start" fill="#000"><tspan>+ CH</tspan><tspan dy="2.48" font-size="6.44">3</tspan><tspan dy="-2.48">NH</tspan><tspan dy="2.48" font-size="6.44">2</tspan></text>
<line x1="486.9" y1="113.1" x2="486.9" y2="106.1" stroke="#000" stroke-width="1"/>
<path d="M485.0,107.3 L486.9,102.1 L488.8,107.3 Z" fill="#000"/>
<line x1="551.7" y1="113.1" x2="551.7" y2="106.1" stroke="#000" stroke-width="1"/>
<path d="M549.8,107.3 L551.7,102.1 L553.6,107.3 Z" fill="#000"/>
<line x1="606.4" y1="113.1" x2="606.4" y2="106.1" stroke="#000" stroke-width="1"/>
<path d="M604.5,107.3 L606.4,102.1 L608.3,107.3 Z" fill="#000"/>
<line x1="640.1" y1="113.1" x2="640.1" y2="106.1" stroke="#000" stroke-width="1"/>
<path d="M638.2,107.3 L640.1,102.1 L642.0,107.3 Z" fill="#000"/>
<line x1="675.3" y1="113.1" x2="675.3" y2="106.1" stroke="#000" stroke-width="1"/>
<path d="M673.4,107.3 L675.3,102.1 L677.2,107.3 Z" fill="#000"/>
<text transform="translate(457.10,130.60) scale(1.045,1)" font-size="10.6" text-anchor="start" font-weight="bold" fill="#000"><tspan dy="-7.00" font-size="7.42">13</tspan><tspan dy="7.00">CH</tspan><tspan dy="2.86" font-size="7.42">2</tspan><tspan dy="-2.86">CHCN</tspan></text>
<text transform="translate(457.10,144.40)" font-size="9.85" text-anchor="start" fill="#000"><tspan>110942.3 MHz</tspan></text>
<text transform="translate(461.40,157.00) scale(0.900,1)" font-size="9" text-anchor="middle" fill="#000"><tspan>U</tspan></text>
<text transform="translate(490.30,185.90) rotate(-90) scale(0.890,1)" font-size="9.2" text-anchor="start" fill="#000"><tspan>HCOOCH</tspan><tspan dy="2.48" font-size="6.44">3</tspan></text>
<text transform="translate(510.80,173.80) scale(0.900,1)" font-size="9" text-anchor="start" fill="#000"><tspan>CH</tspan><tspan dy="2.43" font-size="6.30">3</tspan><tspan dy="-2.43">COCH</tspan><tspan dy="2.43" font-size="6.30">3</tspan></text>
<text transform="translate(563.30,171.80) rotate(-90) scale(0.890,1)" font-size="9.2" text-anchor="start" fill="#000"><tspan>HCOOCH</tspan><tspan dy="2.48" font-size="6.44">3</tspan></text>
<text transform="translate(574.20,165.70) rotate(-90) scale(0.890,1)" font-size="9.2" text-anchor="start" fill="#000"><tspan>CH</tspan><tspan dy="2.48" font-size="6.44">3</tspan><tspan dy="-2.48">CONH</tspan><tspan dy="2.48" font-size="6.44">2</tspan></text>
<text transform="translate(582.90,165.70) rotate(-90) scale(0.890,1)" font-size="9.2" text-anchor="start" fill="#000"><tspan>+ CH</tspan><tspan dy="2.48" font-size="6.44">3</tspan><tspan dy="-2.48">COOH</tspan></text>
<g transform="translate(602.40,172.60) rotate(-90) scale(0.890,1)"><text font-size="9.2" fill="#000"><tspan>12</tspan><tspan dy="2.48" font-size="6.44">3,10</tspan></text><path d="M25.80,-2.48 H34.54 M31.94,-4.08 L34.54,-2.48 L31.94,-0.88" fill="none" stroke="#000" stroke-width="0.8"/><text x="37.58" font-size="9.2" fill="#000"><tspan>11</tspan><tspan dy="2.48" font-size="6.44">3,9</tspan></text></g>
<g transform="translate(614.30,172.60) rotate(-90) scale(0.890,1)"><text font-size="9.2" fill="#000"><tspan>12</tspan><tspan dy="2.48" font-size="6.44">7,•</tspan></text><path d="M20.89,-2.48 H29.63 M27.03,-4.08 L29.63,-2.48 L27.03,-0.88" fill="none" stroke="#000" stroke-width="0.8"/><text x="32.67" font-size="9.2" fill="#000"><tspan>11</tspan><tspan dy="2.48" font-size="6.44">7,•</tspan></text></g>
<text transform="translate(625.80,185.80) rotate(-90) scale(0.890,1)" font-size="9.2" text-anchor="start" fill="#000"><tspan>CH</tspan><tspan dy="2.48" font-size="6.44">3</tspan><tspan dy="-2.48">CH</tspan><tspan dy="2.48" font-size="6.44">2</tspan><tspan dy="-2.48">OH</tspan></text>
<g transform="translate(639.30,162.60) rotate(-90) scale(0.890,1)"><text font-size="9.2" fill="#000"><tspan>12</tspan><tspan dy="2.48" font-size="6.44">6,•</tspan></text><path d="M20.89,-2.48 H29.63 M27.03,-4.08 L29.63,-2.48 L27.03,-0.88" fill="none" stroke="#000" stroke-width="0.8"/><text x="32.67" font-size="9.2" fill="#000"><tspan>11</tspan><tspan dy="2.48" font-size="6.44">6,•</tspan></text></g>
<text transform="translate(650.10,164.80) rotate(-90) scale(0.890,1)" font-size="9.2" text-anchor="start" fill="#000"><tspan>+ HCOOCH</tspan><tspan dy="2.48" font-size="6.44">3</tspan></text>
<g transform="translate(663.20,162.60) rotate(-90) scale(0.890,1)"><text font-size="9.2" fill="#000"><tspan>12</tspan><tspan dy="2.48" font-size="6.44">4,•</tspan></text><path d="M20.89,-2.48 H29.63 M27.03,-4.08 L29.63,-2.48 L27.03,-0.88" fill="none" stroke="#000" stroke-width="0.8"/><text x="32.67" font-size="9.2" fill="#000"><tspan>11</tspan><tspan dy="2.48" font-size="6.44">4,•</tspan></text></g>
<g transform="translate(677.50,164.80) rotate(-90) scale(0.890,1)"><text font-size="9.2" fill="#000"><tspan>12</tspan><tspan dy="2.48" font-size="6.44">5,•</tspan></text><path d="M20.89,-2.48 H29.63 M27.03,-4.08 L29.63,-2.48 L27.03,-0.88" fill="none" stroke="#000" stroke-width="0.8"/><text x="32.67" font-size="9.2" fill="#000"><tspan>11</tspan><tspan dy="2.48" font-size="6.44">5,•</tspan></text></g>
<text transform="translate(699.80,148.30) rotate(-90) scale(0.890,1)" font-size="9.2" text-anchor="start" fill="#000"><tspan>CH</tspan><tspan dy="2.48" font-size="6.44">2</tspan><tspan dy="-2.48">NH</tspan></text>
<text transform="translate(731.40,168.20) rotate(-90) scale(0.890,1)" font-size="9.2" text-anchor="start" fill="#000"><tspan>HCOOCH</tspan><tspan dy="2.48" font-size="6.44">3</tspan></text>
<line x1="606.6" y1="206.8" x2="606.6" y2="199.8" stroke="#000" stroke-width="1"/>
<path d="M604.7,201.0 L606.6,195.8 L608.5,201.0 Z" fill="#000"/>
<line x1="642.4" y1="206.8" x2="642.4" y2="199.8" stroke="#000" stroke-width="1"/>
<path d="M640.5,201.0 L642.4,195.8 L644.3,201.0 Z" fill="#000"/>
<line x1="657.9" y1="206.8" x2="657.9" y2="199.8" stroke="#000" stroke-width="1"/>
<path d="M656.0,201.0 L657.9,195.8 L659.8,201.0 Z" fill="#000"/>
<line x1="667.8" y1="206.8" x2="667.8" y2="199.8" stroke="#000" stroke-width="1"/>
<path d="M665.9,201.0 L667.8,195.8 L669.7,201.0 Z" fill="#000"/>
<text transform="translate(456.50,227.60) scale(1.045,1)" font-size="10.6" text-anchor="start" font-weight="bold" fill="#000"><tspan>CH</tspan><tspan dy="2.86" font-size="7.42">2</tspan><tspan dx="-1.06" dy="-9.86" font-size="7.42">13</tspan><tspan dy="7.00">CHCN</tspan></text>
<text transform="translate(456.50,241.00)" font-size="9.85" text-anchor="start" fill="#000"><tspan>103876.1 MHz</tspan></text>
<text transform="translate(465.80,289.00) rotate(-90) scale(0.890,1)" font-size="9.2" text-anchor="start" fill="#000"><tspan>CH</tspan><tspan dy="2.48" font-size="6.44">2</tspan><tspan dy="-2.48">CH</tspan><tspan dy="-3.50" font-size="6.44">13</tspan><tspan dy="3.50">CN</tspan></text>
<text transform="translate(497.70,286.00) rotate(-90) scale(0.890,1)" font-size="9.2" text-anchor="start" fill="#000"><tspan>CH</tspan><tspan dy="2.48" font-size="6.44">3</tspan><tspan dy="-2.48">CH</tspan><tspan dy="2.48" font-size="6.44">2</tspan><tspan dy="-2.48">OH</tspan></text>
<text transform="translate(514.80,269.80) scale(0.900,1)" font-size="9" text-anchor="start" fill="#000"><tspan>Hγ</tspan></text>
<g transform="translate(547.70,280.90) rotate(-90) scale(0.890,1)"><text font-size="9.2" fill="#000"><tspan>11</tspan><tspan dy="2.48" font-size="6.44">3,8</tspan></text><path d="M21.54,-2.48 H30.28 M27.68,-4.08 L30.28,-2.48 L27.68,-0.88" fill="none" stroke="#000" stroke-width="0.8"/><text x="33.32" font-size="9.2" fill="#000"><tspan>10</tspan><tspan dy="2.48" font-size="6.44">3,7</tspan></text></g>
<text transform="translate(567.10,266.70) rotate(-90) scale(0.890,1)" font-size="9.2" text-anchor="start" fill="#000"><tspan>CH</tspan><tspan dy="2.48" font-size="6.44">3</tspan><tspan dy="-2.48">CH</tspan><tspan dy="2.48" font-size="6.44">2</tspan><tspan dy="-2.48">OH</tspan></text>
<g transform="translate(597.60,280.90) rotate(-90) scale(0.890,1)"><text font-size="9.2" fill="#000"><tspan>11</tspan><tspan dy="2.48" font-size="6.44">3,9</tspan></text><path d="M21.54,-2.48 H30.28 M27.68,-4.08 L30.28,-2.48 L27.68,-0.88" fill="none" stroke="#000" stroke-width="0.8"/><text x="33.32" font-size="9.2" fill="#000"><tspan>10</tspan><tspan dy="2.48" font-size="6.44">3,8</tspan></text></g>
<g transform="translate(609.00,278.40) rotate(-90) scale(0.890,1)"><text font-size="9.2" fill="#000"><tspan>11</tspan><tspan dy="2.48" font-size="6.44">7,•</tspan></text><path d="M20.21,-2.48 H28.95 M26.35,-4.08 L28.95,-2.48 L26.35,-0.88" fill="none" stroke="#000" stroke-width="0.8"/><text x="31.99" font-size="9.2" fill="#000"><tspan>10</tspan><tspan dy="2.48" font-size="6.44">7,•</tspan></text></g>
<text transform="translate(621.40,277.30) rotate(-90) scale(0.890,1)" font-size="9.2" text-anchor="start" fill="#000"><tspan>CH</tspan><tspan dy="2.48" font-size="6.44">3</tspan><tspan dy="-2.48">CH</tspan><tspan dy="2.48" font-size="6.44">2</tspan><tspan dy="-2.48">CN</tspan></text>
<g transform="translate(631.20,269.60) rotate(-90) scale(0.890,1)"><text font-size="9.2" fill="#000"><tspan>11</tspan><tspan dy="2.48" font-size="6.44">6,•</tspan></text><path d="M20.21,-2.48 H28.95 M26.35,-4.08 L28.95,-2.48 L26.35,-0.88" fill="none" stroke="#000" stroke-width="0.8"/><text x="31.99" font-size="9.2" fill="#000"><tspan>10</tspan><tspan dy="2.48" font-size="6.44">6,•</tspan></text></g>
<text transform="translate(641.30,270.70) rotate(-90) scale(0.890,1)" font-size="9.2" text-anchor="start" fill="#000"><tspan>+ CH</tspan><tspan dy="2.48" font-size="6.44">3</tspan><tspan dy="-2.48">CH</tspan><tspan dy="2.48" font-size="6.44">2</tspan><tspan dy="-2.48">OH</tspan></text>
<g transform="translate(652.20,275.10) rotate(-90) scale(0.890,1)"><text font-size="9.2" fill="#000"><tspan>11</tspan><tspan dy="2.48" font-size="6.44">4,•</tspan></text><path d="M20.21,-2.48 H28.95 M26.35,-4.08 L28.95,-2.48 L26.35,-0.88" fill="none" stroke="#000" stroke-width="0.8"/><text x="31.99" font-size="9.2" fill="#000"><tspan>10</tspan><tspan dy="2.48" font-size="6.44">4,•</tspan></text></g>
<g transform="translate(663.30,279.50) rotate(-90) scale(0.890,1)"><text font-size="9.2" fill="#000"><tspan>11</tspan><tspan dy="2.48" font-size="6.44">5,•</tspan></text><path d="M20.21,-2.48 H28.95 M26.35,-4.08 L28.95,-2.48 L26.35,-0.88" fill="none" stroke="#000" stroke-width="0.8"/><text x="31.99" font-size="9.2" fill="#000"><tspan>10</tspan><tspan dy="2.48" font-size="6.44">5,•</tspan></text></g>
<text transform="translate(678.80,263.00) rotate(-90) scale(0.890,1)" font-size="9.2" text-anchor="start" fill="#000"><tspan>CH</tspan><tspan dy="2.48" font-size="6.44">3</tspan><tspan dy="-2.48">CH</tspan><tspan dy="2.48" font-size="6.44">2</tspan><tspan dy="-2.48">OH</tspan></text>
<text transform="translate(693.30,289.50) rotate(-90) scale(0.890,1)" font-size="9.2" text-anchor="start" fill="#000"><tspan>HC</tspan><tspan dy="2.48" font-size="6.44">5</tspan><tspan dy="-2.48">N</tspan></text>
<text transform="translate(712.90,251.90) rotate(-90) scale(0.890,1)" font-size="9.2" text-anchor="start" fill="#000"><tspan>CH</tspan><tspan dy="2.48" font-size="6.44">2</tspan><tspan dy="-2.48">CHCN</tspan></text>
<text transform="translate(721.80,287.30) rotate(-90) scale(0.890,1)" font-size="9.2" text-anchor="start" fill="#000"><tspan>CH</tspan><tspan dy="2.48" font-size="6.44">3</tspan><tspan dy="-2.48">NCO  v</tspan><tspan dy="2.48" font-size="6.44">11</tspan><tspan dy="-2.48"> = 1</tspan></text>
<text transform="translate(734.40,283.90) rotate(-90) scale(0.890,1)" font-size="9.2" text-anchor="start" fill="#000"><tspan dy="-3.50" font-size="6.44">13</tspan><tspan dy="3.50">CH</tspan><tspan dy="2.48" font-size="6.44">2</tspan><tspan dy="-2.48">CHCN</tspan></text>
<text transform="translate(750.50,281.70) rotate(-90) scale(0.890,1)" font-size="9.2" text-anchor="start" fill="#000"><tspan>CH</tspan><tspan dy="2.48" font-size="6.44">3</tspan><tspan dy="-2.48">CH</tspan><tspan dy="2.48" font-size="6.44">2</tspan><tspan dy="-2.48">OH</tspan></text>
<line x1="547.2" y1="307.1" x2="547.2" y2="300.1" stroke="#000" stroke-width="1"/>
<path d="M545.3,301.3 L547.2,296.1 L549.1,301.3 Z" fill="#000"/>
<line x1="600.0" y1="307.1" x2="600.0" y2="300.1" stroke="#000" stroke-width="1"/>
<path d="M598.1,301.3 L600.0,296.1 L601.9,301.3 Z" fill="#000"/>
<line x1="605.5" y1="307.1" x2="605.5" y2="300.1" stroke="#000" stroke-width="1"/>
<path d="M603.6,301.3 L605.5,296.1 L607.4,301.3 Z" fill="#000"/>
<line x1="630.9" y1="307.1" x2="630.9" y2="300.1" stroke="#000" stroke-width="1"/>
<path d="M629.0,301.3 L630.9,296.1 L632.8,301.3 Z" fill="#000"/>
<line x1="648.6" y1="307.1" x2="648.6" y2="300.1" stroke="#000" stroke-width="1"/>
<path d="M646.7,301.3 L648.6,296.1 L650.5,301.3 Z" fill="#000"/>
<line x1="657.4" y1="307.1" x2="657.4" y2="300.1" stroke="#000" stroke-width="1"/>
<path d="M655.5,301.3 L657.4,296.1 L659.3,301.3 Z" fill="#000"/>
<text transform="translate(461.60,367.80) scale(0.900,1)" font-size="9" text-anchor="middle" fill="#000"><tspan>U</tspan></text>
<text transform="translate(476.80,340.40) rotate(-90) scale(0.890,1)" font-size="9.2" text-anchor="start" fill="#000"><tspan>CH</tspan><tspan dy="2.48" font-size="6.44">3</tspan><tspan dy="-2.48">OH</tspan></text>
<text transform="translate(521.50,350.60) rotate(-90) scale(0.890,1)" font-size="9.2" text-anchor="start" fill="#000"><tspan>CH</tspan><tspan dy="2.48" font-size="6.44">3</tspan><tspan dy="-2.48">NCO</tspan></text>
<g transform="translate(541.40,363.70) rotate(-90) scale(0.890,1)"><text font-size="9.2" fill="#000"><tspan>10</tspan><tspan dy="2.48" font-size="6.44">3,7</tspan></text><path d="M22.22,-2.48 H30.96 M28.36,-4.08 L30.96,-2.48 L28.36,-0.88" fill="none" stroke="#000" stroke-width="0.8"/><text x="34.00" font-size="9.2" fill="#000"><tspan>9</tspan><tspan dy="2.48" font-size="6.44">3,6</tspan></text></g>
<text transform="translate(564.10,376.90) rotate(-90) scale(0.890,1)" font-size="9.2" text-anchor="start" fill="#000"><tspan>CH</tspan><tspan dy="2.48" font-size="6.44">2</tspan><tspan dy="-2.48">CHCN v</tspan><tspan dy="2.48" font-size="6.44">11</tspan><tspan dy="-2.48"> = 1</tspan></text>
<g transform="translate(577.60,379.90) rotate(-90) scale(0.890,1)"><text font-size="9.2" fill="#000"><tspan>10</tspan><tspan dy="2.48" font-size="6.44">3,8</tspan></text><path d="M22.22,-2.48 H30.96 M28.36,-4.08 L30.96,-2.48 L28.36,-0.88" fill="none" stroke="#000" stroke-width="0.8"/><text x="34.00" font-size="9.2" fill="#000"><tspan>9</tspan><tspan dy="2.48" font-size="6.44">3,7</tspan></text></g>
<g transform="translate(587.40,377.90) rotate(-90) scale(0.890,1)"><text font-size="9.2" fill="#000"><tspan>10</tspan><tspan dy="2.48" font-size="6.44">6,•</tspan></text><path d="M20.89,-2.48 H29.63 M27.03,-4.08 L29.63,-2.48 L27.03,-0.88" fill="none" stroke="#000" stroke-width="0.8"/><text x="32.67" font-size="9.2" fill="#000"><tspan>9</tspan><tspan dy="2.48" font-size="6.44">6,•</tspan></text></g>
<g transform="translate(604.80,356.60) rotate(-90) scale(0.890,1)"><text font-size="9.2" fill="#000"><tspan>10</tspan><tspan dy="2.48" font-size="6.44">4,•</tspan></text><path d="M20.89,-2.48 H29.63 M27.03,-4.08 L29.63,-2.48 L27.03,-0.88" fill="none" stroke="#000" stroke-width="0.8"/><text x="32.67" font-size="9.2" fill="#000"><tspan>9</tspan><tspan dy="2.48" font-size="6.44">4,•</tspan></text></g>
<g transform="translate(617.00,356.60) rotate(-90) scale(0.890,1)"><text font-size="9.2" fill="#000"><tspan>10</tspan><tspan dy="2.48" font-size="6.44">5,•</tspan></text><path d="M20.89,-2.48 H29.63 M27.03,-4.08 L29.63,-2.48 L27.03,-0.88" fill="none" stroke="#000" stroke-width="0.8"/><text x="32.67" font-size="9.2" fill="#000"><tspan>9</tspan><tspan dy="2.48" font-size="6.44">5,•</tspan></text></g>
<text transform="translate(632.80,386.50) rotate(-90) scale(0.890,1)" font-size="9.2" text-anchor="start" fill="#000"><tspan>CH</tspan><tspan dy="2.48" font-size="6.44">3</tspan><tspan dy="-2.48">COCH</tspan><tspan dy="2.48" font-size="6.44">3</tspan></text>
<text transform="translate(653.00,376.50) rotate(-90) scale(0.890,1)" font-size="9.2" text-anchor="start" fill="#000"><tspan>CH</tspan><tspan dy="2.48" font-size="6.44">3</tspan><tspan dy="-2.48">CH</tspan><tspan dy="2.48" font-size="6.44">2</tspan><tspan dy="-2.48">OH</tspan></text>
<text transform="translate(677.00,343.40) rotate(-90) scale(0.890,1)" font-size="9.2" text-anchor="start" fill="#000"><tspan>CH</tspan><tspan dy="2.48" font-size="6.44">3</tspan><tspan dy="-2.48">NH</tspan><tspan dy="2.48" font-size="6.44">2</tspan></text>
<text transform="translate(695.00,324.60) scale(1.045,1)" font-size="10.6" text-anchor="start" font-weight="bold" fill="#000"><tspan>CH</tspan><tspan dy="2.86" font-size="7.42">2</tspan><tspan dy="-2.86">CH</tspan><tspan dy="-7.00" font-size="7.42">13</tspan><tspan dy="7.00">CN</tspan></text>
<text transform="translate(695.00,337.80)" font-size="9.85" text-anchor="start" fill="#000"><tspan>94493.6 MHz</tspan></text>
<text transform="translate(710.20,380.90) rotate(-90) scale(0.890,1)" font-size="9.2" text-anchor="start" fill="#000"><tspan>CH</tspan><tspan dy="2.48" font-size="6.44">3</tspan><tspan dy="-2.48">CH</tspan><tspan dy="2.48" font-size="6.44">2</tspan><tspan dy="-2.48">OH</tspan></text>
<text transform="translate(731.20,386.50) rotate(-90) scale(0.890,1)" font-size="9.2" text-anchor="start" fill="#000"><tspan>CH</tspan><tspan dy="2.48" font-size="6.44">2</tspan><tspan dx="-0.92" dy="-5.98" font-size="6.44">13</tspan><tspan dy="3.50">CHCN</tspan></text>
<text transform="translate(750.00,386.50) rotate(-90) scale(0.890,1)" font-size="9.2" text-anchor="start" fill="#000"><tspan>CH</tspan><tspan dy="2.48" font-size="6.44">2</tspan><tspan dx="-0.92" dy="-5.98" font-size="6.44">13</tspan><tspan dy="3.50">CHCN</tspan></text>
<line x1="540.1" y1="405.1" x2="540.1" y2="398.1" stroke="#000" stroke-width="1"/>
<path d="M538.2,399.3 L540.1,394.1 L542.0,399.3 Z" fill="#000"/>
<line x1="573.2" y1="405.1" x2="573.2" y2="398.1" stroke="#000" stroke-width="1"/>
<path d="M571.3,399.3 L573.2,394.1 L575.1,399.3 Z" fill="#000"/>
<line x1="580.1" y1="405.1" x2="580.1" y2="398.1" stroke="#000" stroke-width="1"/>
<path d="M578.2,399.3 L580.1,394.1 L582.0,399.3 Z" fill="#000"/>
<line x1="606.6" y1="405.1" x2="606.6" y2="398.1" stroke="#000" stroke-width="1"/>
<path d="M604.7,399.3 L606.6,394.1 L608.5,399.3 Z" fill="#000"/>
<text transform="translate(466.50,465.80) rotate(-90) scale(0.890,1)" font-size="9.2" text-anchor="start" fill="#000"><tspan>CH</tspan><tspan dy="2.48" font-size="6.44">3</tspan><tspan dy="-2.48">CH</tspan><tspan dy="2.48" font-size="6.44">2</tspan><tspan dy="-2.48">OH</tspan></text>
<text transform="translate(477.20,465.80) rotate(-90) scale(0.890,1)" font-size="9.2" text-anchor="start" fill="#000"><tspan>+ U</tspan></text>
<text transform="translate(550.90,463.80) scale(0.900,1)" font-size="9" text-anchor="start" fill="#000"><tspan>H58γ</tspan></text>
<g transform="translate(577.60,443.50) scale(0.900,1)"><text font-size="9" fill="#000"><tspan>21</tspan><tspan dy="2.43" font-size="6.30">3,18</tspan></text><path d="M25.24,-2.43 H33.79 M31.19,-4.03 L33.79,-2.43 L31.19,-0.83" fill="none" stroke="#000" stroke-width="0.8"/><text x="36.76" font-size="9" fill="#000"><tspan>21</tspan><tspan dy="2.43" font-size="6.30">2,19</tspan></text></g>
<text transform="translate(647.20,474.70) rotate(-90) scale(0.890,1)" font-size="9.2" text-anchor="start" fill="#000"><tspan>CH</tspan><tspan dy="2.48" font-size="6.44">3</tspan><tspan dy="-2.48">OH +</tspan></text>
<text transform="translate(661.50,474.70) rotate(-90) scale(0.890,1)" font-size="9.2" text-anchor="start" fill="#000"><tspan>CH</tspan><tspan dy="2.48" font-size="6.44">2</tspan><tspan dx="-0.92" dy="-5.98" font-size="6.44">13</tspan><tspan dy="3.50">CHCN</tspan></text>
<text transform="translate(698.30,420.60) scale(1.045,1)" font-size="10.6" text-anchor="start" font-weight="bold" fill="#000"><tspan>CH</tspan><tspan dy="2.86" font-size="7.42">3</tspan><tspan dy="-2.86">CH</tspan><tspan dy="2.86" font-size="7.42">2</tspan><tspan dy="-2.86">CN</tspan></text>
<text transform="translate(698.30,432.70)" font-size="9.85" text-anchor="start" fill="#000"><tspan>93755.0 MHz</tspan></text>
<text transform="translate(730.10,477.00) rotate(-90) scale(0.890,1)" font-size="9.2" text-anchor="start" fill="#000"><tspan>HCOOCH</tspan><tspan dy="2.48" font-size="6.44">3</tspan></text>
<text transform="translate(751.10,477.00) rotate(-90) scale(0.890,1)" font-size="9.2" text-anchor="start" fill="#000"><tspan>(CH</tspan><tspan dy="2.48" font-size="6.44">2</tspan><tspan dy="-2.48">OH)</tspan><tspan dy="2.48" font-size="6.44">2</tspan></text>
<line x1="605.9" y1="497.9" x2="605.9" y2="490.9" stroke="#000" stroke-width="1"/>
<path d="M604.0,492.1 L605.9,486.9 L607.8,492.1 Z" fill="#000"/>
<text transform="translate(456.50,518.20) scale(1.045,1)" font-size="10.6" text-anchor="start" font-weight="bold" fill="#000"><tspan dy="-7.00" font-size="7.42">13</tspan><tspan dy="7.00">CH</tspan><tspan dy="2.86" font-size="7.42">3</tspan><tspan dy="-2.86">CH</tspan><tspan dy="2.86" font-size="7.42">2</tspan><tspan dy="-2.86">CN</tspan></text>
<text transform="translate(456.50,531.40)" font-size="9.85" text-anchor="start" fill="#000"><tspan>96138.9 MHz</tspan></text>
<text transform="translate(481.00,566.90) rotate(-90) scale(0.890,1)" font-size="9.2" text-anchor="start" fill="#000"><tspan>CH</tspan><tspan dy="2.48" font-size="6.44">3</tspan><tspan dy="-2.48">OH</tspan></text>
<g transform="translate(528.20,559.80) rotate(-90) scale(0.890,1)"><text font-size="9.2" fill="#000"><tspan>11</tspan><tspan dy="2.48" font-size="6.44">4,•</tspan></text><path d="M20.21,-2.48 H28.95 M26.35,-4.08 L28.95,-2.48 L26.35,-0.88" fill="none" stroke="#000" stroke-width="0.8"/><text x="31.99" font-size="9.2" fill="#000"><tspan>10</tspan><tspan dy="2.48" font-size="6.44">4,•</tspan></text></g>
<g transform="translate(564.50,522.30) scale(0.900,1)"><text font-size="9" fill="#000"><tspan>11</tspan><tspan dy="2.43" font-size="6.30">5,•</tspan></text><path d="M19.77,-2.43 H28.32 M25.72,-4.03 L28.32,-2.43 L25.72,-0.83" fill="none" stroke="#000" stroke-width="0.8"/><text x="31.29" font-size="9" fill="#000"><tspan>10</tspan><tspan dy="2.43" font-size="6.30">5,•</tspan></text></g>
<g transform="translate(564.50,533.80) scale(0.900,1)"><text font-size="9" fill="#000"><tspan>11</tspan><tspan dy="2.43" font-size="6.30">8,•</tspan></text><path d="M19.77,-2.43 H28.32 M25.72,-4.03 L28.32,-2.43 L25.72,-0.83" fill="none" stroke="#000" stroke-width="0.8"/><text x="31.29" font-size="9" fill="#000"><tspan>10</tspan><tspan dy="2.43" font-size="6.30">8,•</tspan></text></g>
<g transform="translate(551.30,562.80) scale(0.900,1)"><text font-size="9" fill="#000"><tspan>11</tspan><tspan dy="2.43" font-size="6.30">9,•</tspan></text><path d="M19.77,-2.43 H28.32 M25.72,-4.03 L28.32,-2.43 L25.72,-0.83" fill="none" stroke="#000" stroke-width="0.8"/><text x="31.29" font-size="9" fill="#000"><tspan>10</tspan><tspan dy="2.43" font-size="6.30">9,•</tspan></text></g>
<g transform="translate(627.60,513.80) scale(0.900,1)"><text font-size="9" fill="#000"><tspan>11</tspan><tspan dy="2.43" font-size="6.30">6,•</tspan></text><path d="M19.77,-2.43 H28.32 M25.72,-4.03 L28.32,-2.43 L25.72,-0.83" fill="none" stroke="#000" stroke-width="0.8"/><text x="31.29" font-size="9" fill="#000"><tspan>10</tspan><tspan dy="2.43" font-size="6.30">6,•</tspan></text></g>
<g transform="translate(627.60,525.30) scale(0.900,1)"><text font-size="9" fill="#000"><tspan>11</tspan><tspan dy="2.43" font-size="6.30">7,•</tspan></text><path d="M19.77,-2.43 H28.32 M25.72,-4.03 L28.32,-2.43 L25.72,-0.83" fill="none" stroke="#000" stroke-width="0.8"/><text x="31.29" font-size="9" fill="#000"><tspan>10</tspan><tspan dy="2.43" font-size="6.30">7,•</tspan></text></g>
<text transform="translate(659.60,567.30) rotate(-90) scale(0.890,1)" font-size="9.2" text-anchor="start" fill="#000"><tspan>CH</tspan><tspan dy="2.48" font-size="6.44">3</tspan><tspan dy="-2.48">NCO</tspan></text>
<text transform="translate(681.30,562.90) rotate(-90) scale(0.890,1)" font-size="9.2" text-anchor="start" fill="#000"><tspan>CH</tspan><tspan dy="2.48" font-size="6.44">3</tspan><tspan dy="-2.48">COCH</tspan><tspan dy="2.48" font-size="6.44">3</tspan></text>
<text transform="translate(694.60,571.70) rotate(-90) scale(0.890,1)" font-size="9.2" text-anchor="start" fill="#000"><tspan>CH</tspan><tspan dy="2.48" font-size="6.44">3</tspan><tspan dy="-2.48">NCO</tspan></text>
<text transform="translate(725.30,551.80) rotate(-90) scale(0.890,1)" font-size="9.2" text-anchor="start" fill="#000"><tspan>(CH</tspan><tspan dy="2.48" font-size="6.44">2</tspan><tspan dy="-2.48">OH)</tspan><tspan dy="2.48" font-size="6.44">2</tspan></text>
<text transform="translate(742.70,548.50) rotate(-90) scale(0.890,1)" font-size="9.2" text-anchor="start" fill="#000"><tspan>HCOOCH</tspan><tspan dy="2.48" font-size="6.44">3</tspan></text>
<line x1="537.1" y1="598.2" x2="537.1" y2="591.2" stroke="#000" stroke-width="1"/>
<path d="M535.2,592.4 L537.1,587.2 L539.0,592.4 Z" fill="#000"/>
<line x1="574.0" y1="598.2" x2="574.0" y2="591.2" stroke="#000" stroke-width="1"/>
<path d="M572.1,592.4 L574.0,587.2 L575.9,592.4 Z" fill="#000"/>
<line x1="606.6" y1="598.2" x2="606.6" y2="591.2" stroke="#000" stroke-width="1"/>
<path d="M604.7,592.4 L606.6,587.2 L608.5,592.4 Z" fill="#000"/>
<line x1="623.2" y1="598.2" x2="623.2" y2="591.2" stroke="#000" stroke-width="1"/>
<path d="M621.3,592.4 L623.2,587.2 L625.1,592.4 Z" fill="#000"/>
<text transform="translate(467.40,650.70) rotate(-90) scale(0.890,1)" font-size="9.2" text-anchor="start" fill="#000"><tspan>HCOOCH</tspan><tspan dy="2.48" font-size="6.44">3</tspan></text>
<text transform="translate(512.00,667.90) rotate(-90) scale(0.890,1)" font-size="9.2" text-anchor="start" fill="#000"><tspan>CH</tspan><tspan dy="2.48" font-size="6.44">3</tspan><tspan dy="-2.48">CH</tspan><tspan dy="2.48" font-size="6.44">2</tspan><tspan dy="-2.48">CN</tspan></text>
<text transform="translate(555.60,656.80) rotate(-90) scale(0.890,1)" font-size="9.2" text-anchor="start" fill="#000"><tspan dy="-3.50" font-size="6.44">13</tspan><tspan dy="3.50">CH</tspan><tspan dy="2.48" font-size="6.44">3</tspan><tspan dy="-2.48">CH</tspan><tspan dy="2.48" font-size="6.44">2</tspan><tspan dy="-2.48">CN</tspan></text>
<text transform="translate(563.00,615.20) scale(1.045,1)" font-size="10.6" text-anchor="start" font-weight="bold" fill="#000"><tspan>CH</tspan><tspan dy="2.86" font-size="7.42">3</tspan><tspan dx="-1.06" dy="-9.86" font-size="7.42">13</tspan><tspan dy="7.00">CH</tspan><tspan dy="2.86" font-size="7.42">2</tspan><tspan dy="-2.86">CN</tspan></text>
<text transform="translate(563.00,628.40)" font-size="9.85" text-anchor="start" fill="#000"><tspan>98134.9 MHz</tspan></text>
<g transform="translate(578.60,644.60) scale(0.900,1)"><text font-size="9" fill="#000"><tspan>11</tspan><tspan dy="2.43" font-size="6.30">3,9</tspan></text><path d="M21.07,-2.43 H29.62 M27.02,-4.03 L29.62,-2.43 L27.02,-0.83" fill="none" stroke="#000" stroke-width="0.8"/><text x="32.59" font-size="9" fill="#000"><tspan>10</tspan><tspan dy="2.43" font-size="6.30">3,8</tspan></text></g>
<text transform="translate(566.60,665.90) scale(0.900,1)" font-size="9" text-anchor="middle" fill="#000"><tspan>U</tspan></text>
<text transform="translate(639.60,648.80) rotate(-90) scale(0.890,1)" font-size="9.2" text-anchor="start" fill="#000"><tspan>CH</tspan><tspan dy="2.48" font-size="6.44">2</tspan><tspan dy="-2.48">CH</tspan><tspan dy="-3.50" font-size="6.44">13</tspan><tspan dy="3.50">CN</tspan></text>
<text transform="translate(665.20,646.60) rotate(-90) scale(0.890,1)" font-size="9.2" text-anchor="start" fill="#000"><tspan>CH</tspan><tspan dy="2.48" font-size="6.44">3</tspan><tspan dy="-2.48">CONH</tspan><tspan dy="2.48" font-size="6.44">2</tspan></text>
<text transform="translate(672.20,657.70) scale(0.900,1)" font-size="9" text-anchor="middle" fill="#000"><tspan>U</tspan></text>
<g transform="translate(700.90,661.00) rotate(-90) scale(0.890,1)"><text font-size="9.2" fill="#000"><tspan>11</tspan><tspan dy="2.48" font-size="6.44">10,•</tspan></text><path d="M23.79,-2.48 H32.53 M29.93,-4.08 L32.53,-2.48 L29.93,-0.88" fill="none" stroke="#000" stroke-width="0.8"/><text x="35.57" font-size="9.2" fill="#000"><tspan>10</tspan><tspan dy="2.48" font-size="6.44">10,•</tspan></text></g>
<text transform="translate(738.30,651.10) rotate(-90) scale(0.890,1)" font-size="9.2" text-anchor="start" fill="#000"><tspan>CH</tspan><tspan dy="2.48" font-size="6.44">3</tspan><tspan dy="-2.48">CH</tspan><tspan dy="2.48" font-size="6.44">2</tspan><tspan dx="-0.92" dy="-5.98" font-size="6.44">13</tspan><tspan dy="3.50">CN</tspan></text>
<line x1="606.6" y1="690.8" x2="606.6" y2="683.8" stroke="#000" stroke-width="1"/>
<path d="M604.7,685.0 L606.6,679.8 L608.5,685.0 Z" fill="#000"/>
<line x1="713.3" y1="690.8" x2="713.3" y2="683.8" stroke="#000" stroke-width="1"/>
<path d="M711.4,685.0 L713.3,679.8 L715.2,685.0 Z" fill="#000"/>
<text transform="translate(461.70,756.80) rotate(-90) scale(0.890,1)" font-size="9.2" text-anchor="start" fill="#000"><tspan>CH</tspan><tspan dy="2.48" font-size="6.44">2</tspan><tspan dy="-2.48">OHCHO</tspan></text>
<text transform="translate(473.80,749.30) scale(0.900,1)" font-size="9" text-anchor="middle" fill="#000"><tspan>U</tspan></text>
<text transform="translate(508.00,736.50) rotate(-90) scale(0.890,1)" font-size="9.2" text-anchor="start" fill="#000"><tspan dy="-3.50" font-size="6.44">13</tspan><tspan dy="3.50">CH</tspan><tspan dy="2.48" font-size="6.44">3</tspan><tspan dy="-2.48">OH</tspan></text>
<text transform="translate(570.10,743.60) rotate(-90) scale(0.890,1)" font-size="9.2" text-anchor="start" fill="#000"><tspan>CH</tspan><tspan dy="2.48" font-size="6.44">3</tspan><tspan dy="-2.48">CH</tspan><tspan dy="2.48" font-size="6.44">2</tspan><tspan dy="-2.48">OH</tspan></text>
<text transform="translate(567.90,761.90) scale(0.900,1)" font-size="9" text-anchor="start" fill="#000"><tspan>H64ε</tspan></text>
<g transform="translate(581.70,734.50) scale(0.900,1)"><text font-size="9" fill="#000"><tspan>11</tspan><tspan dy="2.43" font-size="6.30">3,9</tspan></text><path d="M21.07,-2.43 H29.62 M27.02,-4.03 L29.62,-2.43 L27.02,-0.83" fill="none" stroke="#000" stroke-width="0.8"/><text x="32.59" font-size="9" fill="#000"><tspan>10</tspan><tspan dy="2.43" font-size="6.30">3,8</tspan></text></g>
<text transform="translate(670.70,713.10) scale(1.045,1)" font-size="10.6" text-anchor="start" font-weight="bold" fill="#000"><tspan>CH</tspan><tspan dy="2.86" font-size="7.42">3</tspan><tspan dy="-2.86">CH</tspan><tspan dy="2.86" font-size="7.42">2</tspan><tspan dx="-1.06" dy="-9.86" font-size="7.42">13</tspan><tspan dy="7.00">CN</tspan></text>
<text transform="translate(670.70,725.90)" font-size="9.85" text-anchor="start" fill="#000"><tspan>112101.5 MHz</tspan></text>
<text transform="translate(666.00,770.20) rotate(-90) scale(0.890,1)" font-size="9.2" text-anchor="start" fill="#000"><tspan>CH</tspan><tspan dy="2.48" font-size="6.44">2</tspan><tspan dy="-2.48">CHOH</tspan></text>
<text transform="translate(685.00,744.70) scale(0.900,1)" font-size="9" text-anchor="start" fill="#000"><tspan>CH</tspan><tspan dy="2.43" font-size="6.30">3</tspan><tspan dy="-2.43">CH</tspan><tspan dy="2.43" font-size="6.30">2</tspan><tspan dy="-2.43">OH</tspan></text>
<text transform="translate(694.70,762.40) scale(0.900,1)" font-size="9" text-anchor="middle" fill="#000"><tspan>U</tspan></text>
<text transform="translate(748.60,751.40) rotate(-90) scale(0.890,1)" font-size="9.2" text-anchor="start" fill="#000"><tspan>HNCCC</tspan></text>
<line x1="606.6" y1="791.1" x2="606.6" y2="784.1" stroke="#000" stroke-width="1"/>
<path d="M604.7,785.3 L606.6,780.1 L608.5,785.3 Z" fill="#000"/>
</svg></body></html>
